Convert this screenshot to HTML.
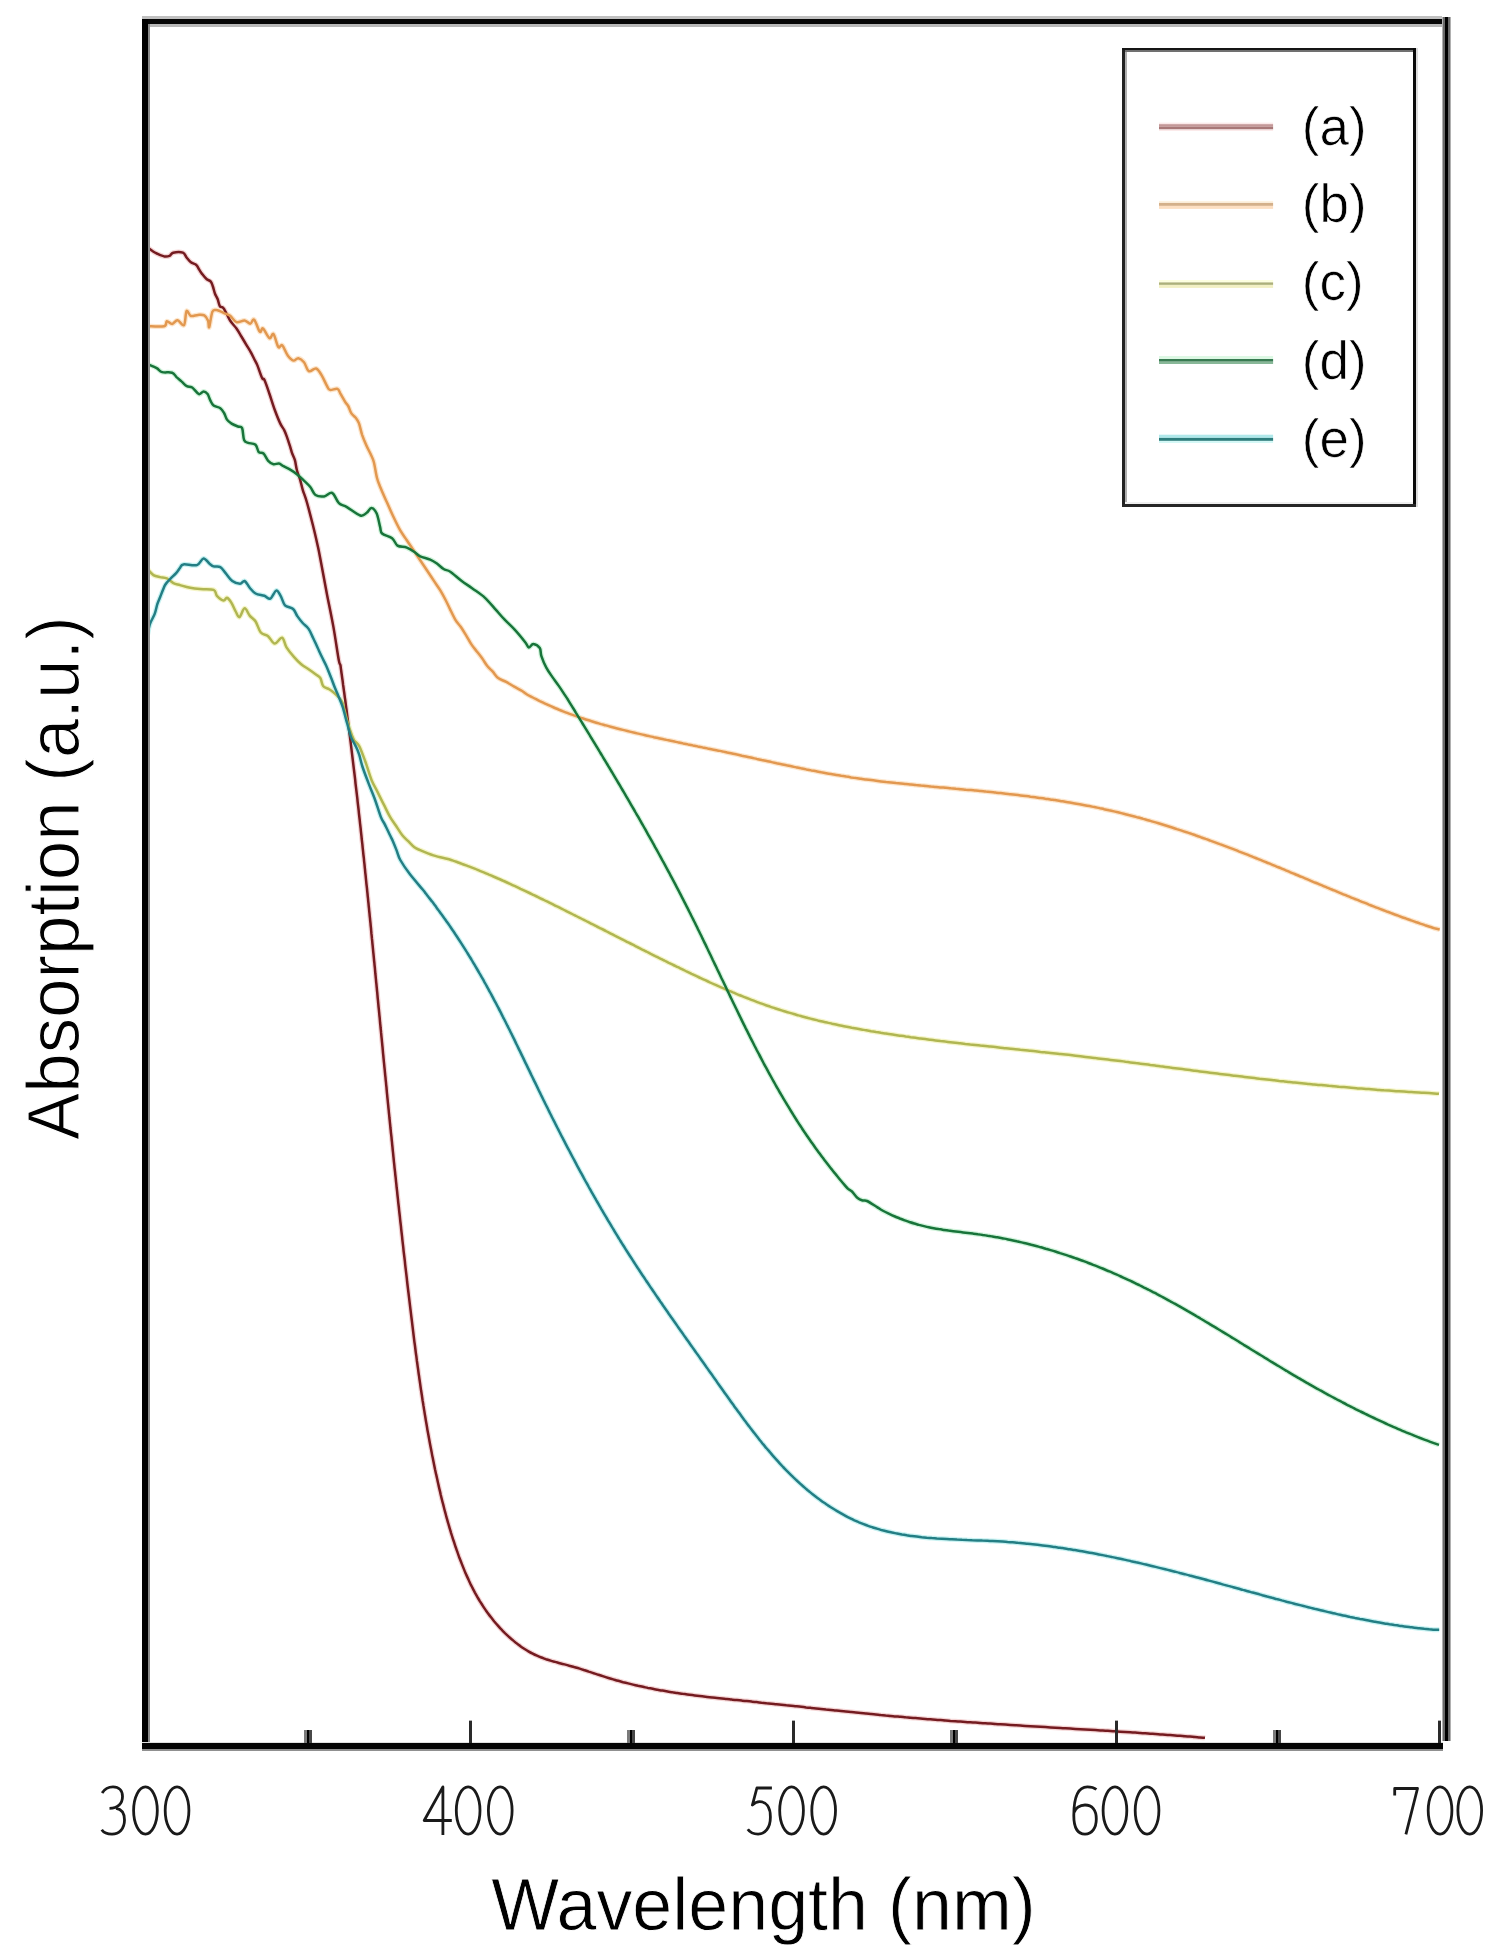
<!DOCTYPE html>
<html><head><meta charset="utf-8"><style>
html,body{margin:0;padding:0;background:#fff;}
svg{display:block;}
text{font-family:"Liberation Sans",sans-serif;fill:#000;}
</style></head><body>
<svg width="1495" height="1958" viewBox="0 0 1495 1958" xmlns="http://www.w3.org/2000/svg">
<rect width="1495" height="1958" fill="#fff"/>
<path d="M147.5 247.3C148.9 248.3 153.3 251.7 156.1 253.2C158.9 254.7 161.9 255.9 164.1 256.4C166.3 256.8 168.0 256.5 169.5 255.9C171.0 255.3 171.0 253.2 173.2 252.7C175.4 252.2 180.7 251.9 182.9 252.7C185.1 253.5 185.3 255.9 186.6 257.5C187.9 259.1 189.3 261.1 190.9 262.3C192.5 263.6 195.0 263.8 196.3 265.0C197.7 266.2 198.0 267.8 199.0 269.3C200.0 270.8 200.9 272.5 202.2 274.1C203.4 275.7 205.1 277.8 206.5 279.0C207.9 280.2 209.7 280.4 210.8 281.6C211.9 282.9 212.2 284.4 212.9 286.5C213.6 288.6 214.3 291.9 215.1 294.0C215.9 296.1 216.9 297.2 217.7 299.3C218.5 301.4 218.9 304.8 219.9 306.3C220.9 307.8 222.0 306.1 223.7 308.5C225.4 310.9 228.0 317.2 230.1 320.5C232.2 323.8 234.6 325.8 236.5 328.5C238.4 331.2 239.8 333.8 241.4 336.5C243.0 339.2 244.6 341.9 246.2 344.6C247.8 347.3 249.7 350.2 251.0 352.6C252.3 355.0 253.1 356.9 254.2 359.0C255.3 361.1 256.1 362.2 257.4 365.4C258.7 368.6 261.0 375.9 262.2 378.3C263.4 380.7 263.2 377.2 264.4 379.8C265.6 382.4 267.8 389.0 269.5 394.0C271.2 399.0 273.0 405.1 274.8 410.0C276.6 414.9 278.6 420.0 280.2 423.4C281.8 426.8 283.1 427.9 284.2 430.1C285.3 432.3 285.9 434.0 286.9 436.8C287.9 439.6 289.3 444.0 290.2 446.8C291.1 449.6 291.4 451.3 292.2 453.5C293.0 455.7 294.1 457.4 294.9 460.2C295.7 463.0 296.0 466.8 296.9 470.2C297.8 473.6 299.3 476.9 300.3 480.3C301.3 483.7 301.8 486.7 302.9 490.3C304.0 493.9 305.1 495.9 306.8 502.0C308.6 508.1 311.5 519.7 313.4 527.2C315.3 534.7 316.6 540.7 318.0 547.0C319.4 553.3 320.0 557.3 321.5 565.0C323.0 572.7 324.8 583.1 326.8 593.4C328.8 603.7 331.4 615.8 333.4 626.9C335.4 638.0 337.6 653.9 338.8 660.3C340.0 666.7 340.0 663.4 340.4 665.0C340.7 666.7 340.8 668.4 341.1 670.0C341.3 671.7 341.5 673.3 341.8 675.0C342.0 676.6 342.2 678.3 342.5 679.9C342.7 681.6 342.9 683.2 343.1 684.9C343.4 686.5 343.6 688.2 343.8 689.8C344.0 691.5 344.3 693.1 344.5 694.8C344.7 696.5 344.9 698.1 345.2 699.8C345.4 701.4 345.6 703.1 345.8 704.7C346.0 706.4 346.2 708.0 346.5 709.7C346.7 711.3 346.9 713.0 347.1 714.6C347.3 716.3 347.5 718.0 347.8 719.6C348.0 721.3 348.2 722.9 348.4 724.6C348.6 726.2 348.8 727.9 349.0 729.5C349.2 731.2 349.4 732.8 349.6 734.5C349.9 736.2 350.1 737.8 350.3 739.5C350.5 741.1 350.7 742.8 350.9 744.4C351.1 746.1 351.3 747.7 351.5 749.4C351.7 751.0 351.9 752.7 352.1 754.4C352.3 756.0 352.5 757.7 352.7 759.3C352.9 761.0 353.1 762.6 353.3 764.3C353.5 765.9 353.7 767.6 353.9 769.3C354.1 770.9 354.3 772.6 354.5 774.2C354.7 775.9 354.9 777.5 355.1 779.2C355.3 780.9 355.4 782.5 355.6 784.2C355.8 785.8 356.0 787.5 356.2 789.1C356.4 790.8 356.6 792.4 356.8 794.1C357.0 795.8 357.2 797.4 357.4 799.1C357.5 800.7 357.7 802.4 357.9 804.0C358.1 805.7 358.3 807.4 358.5 809.0C358.7 810.7 358.8 812.3 359.0 814.0C359.2 815.6 359.4 817.3 359.6 819.0C359.8 820.6 359.9 822.3 360.1 823.9C360.3 825.6 360.5 827.2 360.7 828.9C360.8 830.6 361.0 832.2 361.2 833.9C361.4 835.5 361.6 837.2 361.7 838.8C361.9 840.5 362.1 842.2 362.3 843.8C362.5 845.5 362.6 847.1 362.8 848.8C363.0 850.5 363.2 852.1 363.3 853.8C363.5 855.4 363.7 857.1 363.9 858.7C364.0 860.4 364.2 862.1 364.4 863.7C364.6 865.4 364.7 867.0 364.9 868.7C365.1 870.3 365.2 872.0 365.4 873.7C365.6 875.3 365.8 877.0 365.9 878.6C366.1 880.3 366.3 882.0 366.4 883.6C366.6 885.3 366.8 886.9 367.0 888.6C367.1 890.2 367.3 891.9 367.5 893.6C367.6 895.2 367.8 896.9 368.0 898.5C368.1 900.2 368.3 901.9 368.5 903.5C368.6 905.2 368.8 906.8 369.0 908.5C369.1 910.2 369.3 911.8 369.5 913.5C369.6 915.1 369.8 916.8 370.0 918.4C370.1 920.1 370.3 921.8 370.5 923.4C370.6 925.1 370.8 926.7 371.0 928.4C371.1 930.1 371.3 931.7 371.4 933.4C371.6 935.0 371.8 936.7 371.9 938.4C372.1 940.0 372.3 941.7 372.4 943.3C372.6 945.0 372.8 946.7 372.9 948.3C373.1 950.0 373.2 951.6 373.4 953.3C373.6 954.9 373.7 956.6 373.9 958.3C374.0 959.9 374.2 961.6 374.4 963.2C374.5 964.9 374.7 966.6 374.9 968.2C375.0 969.9 375.2 971.5 375.3 973.2C375.5 974.9 375.7 976.5 375.8 978.2C376.0 979.8 376.1 981.5 376.3 983.2C376.5 984.8 376.6 986.5 376.8 988.1C376.9 989.8 377.1 991.5 377.3 993.1C377.4 994.8 377.6 996.4 377.7 998.1C377.9 999.7 378.1 1001.4 378.2 1003.1C378.4 1004.7 378.5 1006.4 378.7 1008.0C378.9 1009.7 379.0 1011.4 379.2 1013.0C379.3 1014.7 379.5 1016.3 379.7 1018.0C379.8 1019.7 380.0 1021.3 380.1 1023.0C380.3 1024.6 380.5 1026.3 380.6 1028.0C380.8 1029.6 381.0 1031.3 381.1 1032.9C381.3 1034.6 381.4 1036.3 381.6 1037.9C381.8 1039.6 381.9 1041.2 382.1 1042.9C382.2 1044.5 382.4 1046.2 382.6 1047.9C382.7 1049.5 382.9 1051.2 383.0 1052.8C383.2 1054.5 383.4 1056.2 383.5 1057.8C383.7 1059.5 383.8 1061.1 384.0 1062.8C384.2 1064.5 384.3 1066.1 384.5 1067.8C384.7 1069.4 384.8 1071.1 385.0 1072.8C385.1 1074.4 385.3 1076.1 385.5 1077.7C385.6 1079.4 385.8 1081.0 386.0 1082.7C386.1 1084.4 386.3 1086.0 386.5 1087.7C386.6 1089.3 386.8 1091.0 386.9 1092.7C387.1 1094.3 387.3 1096.0 387.4 1097.6C387.6 1099.3 387.8 1101.0 387.9 1102.6C388.1 1104.3 388.3 1105.9 388.4 1107.6C388.6 1109.2 388.8 1110.9 388.9 1112.6C389.1 1114.2 389.3 1115.9 389.4 1117.5C389.6 1119.2 389.8 1120.9 389.9 1122.5C390.1 1124.2 390.3 1125.8 390.4 1127.5C390.6 1129.1 390.8 1130.8 390.9 1132.5C391.1 1134.1 391.3 1135.8 391.5 1137.4C391.6 1139.1 391.8 1140.8 392.0 1142.4C392.1 1144.1 392.3 1145.7 392.5 1147.4C392.6 1149.0 392.8 1150.7 393.0 1152.4C393.2 1154.0 393.3 1155.7 393.5 1157.3C393.7 1159.0 393.8 1160.6 394.0 1162.3C394.2 1164.0 394.4 1165.6 394.5 1167.3C394.7 1168.9 394.9 1170.6 395.1 1172.3C395.2 1173.9 395.4 1175.6 395.6 1177.2C395.8 1178.9 395.9 1180.5 396.1 1182.2C396.3 1183.9 396.5 1185.5 396.6 1187.2C396.8 1188.8 397.0 1190.5 397.2 1192.1C397.3 1193.8 397.5 1195.5 397.7 1197.1C397.9 1198.8 398.1 1200.4 398.2 1202.1C398.4 1203.7 398.6 1205.4 398.8 1207.0C399.0 1208.7 399.1 1210.4 399.3 1212.0C399.5 1213.7 399.7 1215.3 399.9 1217.0C400.0 1218.6 400.2 1220.3 400.4 1222.0C400.6 1223.6 400.8 1225.3 401.0 1226.9C401.1 1228.6 401.3 1230.2 401.5 1231.9C401.7 1233.5 401.9 1235.2 402.1 1236.9C402.2 1238.5 402.4 1240.2 402.6 1241.8C402.8 1243.5 403.0 1245.1 403.2 1246.8C403.4 1248.5 403.5 1250.1 403.7 1251.8C403.9 1253.4 404.1 1255.1 404.3 1256.7C404.5 1258.4 404.7 1260.0 404.9 1261.7C405.0 1263.3 405.2 1265.0 405.4 1266.7C405.6 1268.3 405.8 1270.0 406.0 1271.6C406.2 1273.3 406.4 1274.9 406.6 1276.6C406.8 1278.2 407.0 1279.9 407.1 1281.5C407.3 1283.2 407.5 1284.9 407.7 1286.5C407.9 1288.2 408.1 1289.8 408.3 1291.5C408.5 1293.1 408.7 1294.8 408.9 1296.4C409.1 1298.1 409.3 1299.7 409.5 1301.4C409.7 1303.0 409.9 1304.7 410.1 1306.4C410.3 1308.0 410.5 1309.7 410.7 1311.3C410.9 1313.0 411.1 1314.6 411.3 1316.3C411.5 1317.9 411.7 1319.6 411.9 1321.2C412.1 1322.9 412.3 1324.5 412.5 1326.2C412.7 1327.8 412.9 1329.5 413.1 1331.1C413.3 1332.8 413.5 1334.5 413.7 1336.1C413.9 1337.8 414.1 1339.4 414.3 1341.1C414.5 1342.7 414.8 1344.4 415.0 1346.0C415.2 1347.7 415.4 1349.3 415.6 1351.0C415.8 1352.6 416.0 1354.3 416.3 1355.9C416.5 1357.6 416.7 1359.2 416.9 1360.9C417.2 1362.5 417.4 1364.2 417.6 1365.8C417.8 1367.5 418.1 1369.1 418.3 1370.8C418.5 1372.4 418.7 1374.1 419.0 1375.7C419.2 1377.4 419.4 1379.0 419.7 1380.7C419.9 1382.3 420.2 1384.0 420.4 1385.6C420.6 1387.3 420.9 1388.9 421.1 1390.6C421.4 1392.2 421.6 1393.9 421.9 1395.5C422.1 1397.2 422.4 1398.8 422.6 1400.5C422.9 1402.1 423.2 1403.8 423.4 1405.4C423.7 1407.1 423.9 1408.7 424.2 1410.4C424.5 1412.0 424.7 1413.7 425.0 1415.3C425.3 1417.0 425.6 1418.6 425.8 1420.3C426.1 1421.9 426.4 1423.6 426.7 1425.2C427.0 1426.9 427.2 1428.5 427.5 1430.2C427.8 1431.8 428.1 1433.4 428.4 1435.1C428.7 1436.7 429.0 1438.4 429.3 1440.0C429.6 1441.7 429.9 1443.3 430.2 1445.0C430.5 1446.6 430.9 1448.3 431.2 1449.9C431.5 1451.6 431.8 1453.2 432.1 1454.9C432.4 1456.5 432.8 1458.1 433.1 1459.8C433.4 1461.4 433.8 1463.1 434.1 1464.7C434.4 1466.4 434.8 1468.0 435.1 1469.7C435.5 1471.3 435.8 1473.0 436.2 1474.6C436.5 1476.2 436.9 1477.9 437.3 1479.5C437.6 1481.2 438.0 1482.8 438.4 1484.5C438.7 1486.1 439.1 1487.7 439.5 1489.4C439.9 1491.0 440.3 1492.7 440.6 1494.3C441.0 1495.9 441.4 1497.6 441.8 1499.2C442.2 1500.8 442.6 1502.5 443.1 1504.1C443.5 1505.7 443.9 1507.4 444.3 1509.0C444.7 1510.6 445.2 1512.2 445.6 1513.8C446.0 1515.5 446.5 1517.1 446.9 1518.7C447.4 1520.3 447.8 1521.9 448.3 1523.5C448.8 1525.1 449.2 1526.7 449.7 1528.3C450.2 1529.9 450.7 1531.5 451.1 1533.1C451.6 1534.7 452.1 1536.3 452.6 1537.9C453.1 1539.5 453.7 1541.1 454.2 1542.6C454.7 1544.2 455.2 1545.8 455.7 1547.3C456.3 1548.9 456.8 1550.5 457.4 1552.0C457.9 1553.6 458.5 1555.1 459.0 1556.7C459.6 1558.2 460.2 1559.8 460.8 1561.3C461.4 1562.8 462.0 1564.4 462.6 1565.9C463.2 1567.4 463.8 1568.9 464.4 1570.4C465.0 1571.9 465.7 1573.4 466.3 1574.9C467.0 1576.4 467.7 1577.9 468.4 1579.4C469.0 1580.9 469.7 1582.4 470.4 1583.8C471.2 1585.3 471.9 1586.8 472.6 1588.2C473.4 1589.7 474.1 1591.1 474.9 1592.6C475.7 1594.0 476.5 1595.4 477.3 1596.9C478.1 1598.3 479.0 1599.7 479.8 1601.1C480.7 1602.5 481.6 1603.9 482.5 1605.3C483.4 1606.7 484.3 1608.1 485.2 1609.4C486.2 1610.8 487.1 1612.2 488.1 1613.5C489.1 1614.9 490.1 1616.2 491.2 1617.6C492.2 1618.9 493.3 1620.2 494.3 1621.5C495.4 1622.8 496.5 1624.1 497.7 1625.4C498.8 1626.7 499.9 1628.0 501.1 1629.2C502.3 1630.4 503.5 1631.7 504.7 1632.9C505.9 1634.0 507.1 1635.2 508.4 1636.4C509.6 1637.5 510.9 1638.6 512.2 1639.7C513.4 1640.8 514.7 1641.9 516.1 1642.9C517.4 1644.0 518.7 1645.0 520.1 1645.9C521.4 1646.9 522.8 1647.8 524.2 1648.7C525.6 1649.6 527.0 1650.5 528.4 1651.3C529.8 1652.1 531.2 1652.9 532.7 1653.6C534.1 1654.4 535.5 1655.1 537.0 1655.7C538.5 1656.4 540.0 1657.0 541.4 1657.5C542.9 1658.1 544.4 1658.6 545.9 1659.2C547.5 1659.7 549.0 1660.1 550.5 1660.6C552.0 1661.1 553.6 1661.5 555.1 1661.9C556.7 1662.3 558.2 1662.8 559.8 1663.2C561.4 1663.6 563.0 1664.0 564.5 1664.4C566.1 1664.8 567.7 1665.2 569.3 1665.7C570.9 1666.1 572.5 1666.5 574.1 1667.0C575.7 1667.4 577.3 1667.9 579.0 1668.4C580.6 1668.9 582.2 1669.4 583.8 1670.0C585.4 1670.5 587.1 1671.0 588.7 1671.6C590.3 1672.1 592.0 1672.7 593.6 1673.2C595.3 1673.7 596.9 1674.3 598.5 1674.8C600.2 1675.4 601.8 1675.9 603.5 1676.4C605.1 1677.0 606.7 1677.5 608.4 1678.0C610.0 1678.5 611.7 1679.0 613.3 1679.4C615.0 1679.9 616.6 1680.4 618.2 1680.8C619.9 1681.3 621.5 1681.7 623.2 1682.2C624.8 1682.6 626.5 1683.0 628.1 1683.4C629.8 1683.8 631.4 1684.2 633.0 1684.6C634.7 1685.0 636.3 1685.4 638.0 1685.8C639.6 1686.1 641.3 1686.5 642.9 1686.8C644.5 1687.2 646.2 1687.5 647.8 1687.9C649.5 1688.2 651.1 1688.5 652.8 1688.8C654.4 1689.2 656.1 1689.5 657.7 1689.8C659.4 1690.1 661.0 1690.4 662.6 1690.6C664.3 1690.9 665.9 1691.2 667.6 1691.5C669.2 1691.8 670.9 1692.0 672.5 1692.3C674.2 1692.5 675.8 1692.8 677.5 1693.0C679.1 1693.3 680.7 1693.5 682.4 1693.8C684.0 1694.0 685.7 1694.2 687.3 1694.4C689.0 1694.7 690.6 1694.9 692.3 1695.1C693.9 1695.3 695.6 1695.5 697.2 1695.7C698.9 1695.9 700.5 1696.1 702.2 1696.3C703.8 1696.5 705.4 1696.7 707.1 1696.9C708.7 1697.1 710.4 1697.3 712.0 1697.5C713.7 1697.7 715.3 1697.9 717.0 1698.0C718.6 1698.2 720.3 1698.4 721.9 1698.6C723.6 1698.8 725.2 1698.9 726.9 1699.1C728.5 1699.3 730.2 1699.4 731.8 1699.6C733.5 1699.8 735.1 1700.0 736.8 1700.1C738.4 1700.3 740.1 1700.5 741.7 1700.6C743.4 1700.8 745.0 1701.0 746.7 1701.1C748.3 1701.3 750.0 1701.5 751.6 1701.6C753.3 1701.8 754.9 1702.0 756.6 1702.1C758.2 1702.3 759.9 1702.5 761.5 1702.7C763.2 1702.8 764.8 1703.0 766.5 1703.2C768.1 1703.3 769.8 1703.5 771.4 1703.7C773.1 1703.9 774.7 1704.0 776.4 1704.2C778.0 1704.4 779.7 1704.6 781.3 1704.7C783.0 1704.9 784.6 1705.1 786.3 1705.3C787.9 1705.4 789.6 1705.6 791.2 1705.8C792.9 1706.0 794.5 1706.1 796.2 1706.3C797.9 1706.5 799.5 1706.7 801.2 1706.8C802.8 1707.0 804.5 1707.2 806.1 1707.4C807.8 1707.5 809.4 1707.7 811.1 1707.9C812.7 1708.1 814.4 1708.3 816.0 1708.4C817.7 1708.6 819.4 1708.8 821.0 1708.9C822.7 1709.1 824.3 1709.3 826.0 1709.5C827.6 1709.6 829.3 1709.8 830.9 1710.0C832.6 1710.2 834.2 1710.3 835.9 1710.5C837.6 1710.7 839.2 1710.9 840.9 1711.0C842.5 1711.2 844.2 1711.4 845.8 1711.5C847.5 1711.7 849.2 1711.9 850.8 1712.0C852.5 1712.2 854.1 1712.4 855.8 1712.5C857.4 1712.7 859.1 1712.9 860.8 1713.0C862.4 1713.2 864.1 1713.4 865.7 1713.5C867.4 1713.7 869.0 1713.9 870.7 1714.0C872.4 1714.2 874.0 1714.4 875.7 1714.5C877.3 1714.7 879.0 1714.8 880.7 1715.0C882.3 1715.1 884.0 1715.3 885.6 1715.5C887.3 1715.6 888.9 1715.8 890.6 1715.9C892.3 1716.1 893.9 1716.2 895.6 1716.4C897.2 1716.5 898.9 1716.7 900.6 1716.8C902.2 1717.0 903.9 1717.1 905.6 1717.3C907.2 1717.4 908.9 1717.6 910.5 1717.7C912.2 1717.8 913.9 1718.0 915.5 1718.1C917.2 1718.3 918.8 1718.4 920.5 1718.5C922.2 1718.7 923.8 1718.8 925.5 1718.9C927.2 1719.1 928.8 1719.2 930.5 1719.3C932.1 1719.5 933.8 1719.6 935.5 1719.7C937.1 1719.9 938.8 1720.0 940.5 1720.1C942.1 1720.2 943.8 1720.4 945.4 1720.5C947.1 1720.6 948.8 1720.7 950.4 1720.9C952.1 1721.0 953.8 1721.1 955.4 1721.2C957.1 1721.3 958.8 1721.5 960.4 1721.6C962.1 1721.7 963.8 1721.8 965.4 1721.9C967.1 1722.1 968.7 1722.2 970.4 1722.3C972.1 1722.4 973.7 1722.5 975.4 1722.6C977.1 1722.7 978.7 1722.9 980.4 1723.0C982.1 1723.1 983.7 1723.2 985.4 1723.3C987.1 1723.4 988.7 1723.5 990.4 1723.6C992.1 1723.7 993.7 1723.9 995.4 1724.0C997.1 1724.1 998.7 1724.2 1000.4 1724.3C1002.0 1724.4 1003.7 1724.5 1005.4 1724.6C1007.0 1724.7 1008.7 1724.8 1010.4 1724.9C1012.0 1725.0 1013.7 1725.1 1015.4 1725.2C1017.0 1725.3 1018.7 1725.4 1020.4 1725.5C1022.0 1725.7 1023.7 1725.8 1025.4 1725.9C1027.0 1726.0 1028.7 1726.1 1030.4 1726.2C1032.0 1726.3 1033.7 1726.4 1035.4 1726.5C1037.0 1726.6 1038.7 1726.7 1040.4 1726.8C1042.0 1726.9 1043.7 1727.0 1045.4 1727.1C1047.0 1727.2 1048.7 1727.3 1050.4 1727.4C1052.0 1727.5 1053.7 1727.6 1055.4 1727.7C1057.0 1727.8 1058.7 1727.9 1060.4 1728.0C1062.0 1728.1 1063.7 1728.2 1065.3 1728.3C1067.0 1728.4 1068.7 1728.5 1070.3 1728.6C1072.0 1728.7 1073.7 1728.8 1075.3 1728.9C1077.0 1729.0 1078.7 1729.1 1080.3 1729.2C1082.0 1729.3 1083.7 1729.4 1085.3 1729.5C1087.0 1729.6 1088.7 1729.7 1090.3 1729.8C1092.0 1729.9 1093.7 1730.0 1095.3 1730.1C1097.0 1730.2 1098.6 1730.3 1100.3 1730.4C1102.0 1730.5 1103.6 1730.6 1105.3 1730.7C1107.0 1730.8 1108.6 1730.9 1110.3 1731.0C1112.0 1731.1 1113.6 1731.2 1115.3 1731.3C1116.9 1731.5 1118.6 1731.6 1120.3 1731.7C1121.9 1731.8 1123.6 1731.9 1125.3 1732.0C1126.9 1732.1 1128.6 1732.2 1130.3 1732.3C1131.9 1732.4 1133.6 1732.5 1135.2 1732.6C1136.9 1732.8 1138.6 1732.9 1140.2 1733.0C1141.9 1733.1 1143.5 1733.2 1145.2 1733.3C1146.9 1733.4 1148.5 1733.5 1150.2 1733.7C1151.9 1733.8 1153.5 1733.9 1155.2 1734.0C1156.8 1734.1 1158.5 1734.2 1160.2 1734.4C1161.8 1734.5 1163.5 1734.6 1165.1 1734.7C1166.8 1734.8 1168.5 1735.0 1170.1 1735.1C1171.8 1735.2 1173.4 1735.3 1175.1 1735.4C1176.8 1735.6 1178.4 1735.7 1180.1 1735.8C1181.7 1735.9 1183.4 1736.1 1185.0 1736.2C1186.7 1736.3 1188.4 1736.5 1190.0 1736.6C1191.7 1736.7 1193.3 1736.9 1195.0 1737.0C1196.6 1737.1 1198.3 1737.3 1200.0 1737.4C1201.6 1737.5 1204.2 1737.7 1205.0 1737.8" fill="none" stroke="#f4d6d6" stroke-width="5" stroke-linejoin="round"/><path d="M147.5 326.2C150.3 326.2 160.9 327.0 164.1 326.2C167.3 325.4 165.5 321.7 166.8 321.3C168.2 320.9 170.4 324.2 172.2 324.0C174.0 323.8 175.5 320.1 177.5 320.3C179.5 320.5 182.5 326.6 184.0 325.1C185.5 323.6 185.4 312.6 186.6 311.1C187.8 309.6 189.0 315.4 190.9 316.0C192.8 316.6 195.8 315.0 198.0 314.9C200.2 314.8 202.6 314.4 204.3 315.4C206.0 316.4 207.3 318.8 208.1 320.8C208.9 322.8 208.5 328.7 209.2 327.2C209.9 325.7 211.2 314.5 212.4 311.7C213.6 308.9 214.8 310.2 216.1 310.1C217.3 310.0 218.5 310.6 219.9 311.1C221.3 311.6 222.8 312.5 224.5 313.3C226.2 314.1 228.1 314.2 230.1 315.7C232.1 317.2 234.1 321.3 236.5 322.1C238.9 322.9 242.3 320.2 244.6 320.5C246.9 320.8 248.6 323.8 250.2 323.7C251.8 323.6 252.6 318.4 254.2 319.7C255.8 321.0 258.3 330.2 259.8 331.7C261.3 333.2 261.4 327.4 263.0 328.5C264.6 329.6 267.8 337.3 269.5 338.2C271.2 339.1 272.0 332.6 273.5 334.1C275.0 335.6 276.8 345.1 278.3 347.0C279.8 348.9 280.7 343.9 282.3 345.4C283.9 346.9 286.0 353.3 287.9 355.8C289.8 358.3 291.8 360.2 293.5 360.6C295.2 361.0 296.6 357.9 298.3 358.2C300.1 358.5 302.2 360.0 304.0 362.2C305.8 364.4 306.8 370.1 308.8 371.1C310.8 372.2 313.9 367.9 316.0 368.5C318.1 369.1 319.6 372.0 321.4 374.9C323.2 377.8 325.4 383.1 326.8 385.6C328.2 388.1 328.2 389.4 330.0 389.9C331.8 390.4 335.7 388.1 337.5 388.8C339.3 389.5 339.4 392.1 340.7 394.2C341.9 396.3 343.8 399.7 345.0 401.7C346.2 403.7 347.1 404.1 348.2 406.0C349.3 407.9 350.1 411.4 351.4 413.4C352.6 415.3 354.4 416.1 355.7 417.7C356.9 419.3 357.8 420.2 358.9 423.1C360.0 426.0 360.9 431.1 362.1 434.8C363.4 438.5 365.0 442.3 366.4 445.5C367.8 448.7 369.4 451.4 370.6 454.1C371.8 456.9 372.7 458.0 373.8 462.0C374.9 466.0 375.9 473.9 377.0 478.0C378.1 482.1 378.5 482.7 380.1 486.7C381.7 490.7 384.6 497.1 386.8 502.1C389.0 507.1 391.2 512.1 393.4 516.8C395.6 521.5 397.9 526.3 400.1 530.2C402.3 534.1 404.6 536.9 406.8 540.2C409.0 543.6 411.3 546.9 413.5 550.3C415.7 553.6 418.0 557.0 420.2 560.3C422.4 563.6 424.7 566.9 426.9 570.3C429.1 573.6 431.4 577.0 433.6 580.4C435.8 583.8 438.3 587.1 440.3 590.4C442.3 593.7 444.0 596.9 445.6 600.0C447.2 603.1 448.4 605.8 450.0 609.1C451.6 612.4 453.6 616.8 455.4 619.8C457.2 622.8 458.9 624.2 460.7 626.8C462.5 629.4 464.3 632.4 466.1 635.3C467.9 638.2 469.6 641.7 471.4 644.4C473.2 647.1 475.0 649.1 476.8 651.4C478.6 653.7 480.3 655.8 482.1 658.3C483.9 660.8 485.7 664.1 487.5 666.3C489.3 668.5 491.0 669.7 492.8 671.7C494.6 673.7 496.0 676.4 498.2 678.1C500.4 679.8 503.5 680.5 506.2 681.9C508.9 683.3 511.5 685.2 514.2 686.7C516.9 688.2 520.3 689.8 522.2 691.0C524.1 692.2 524.5 692.9 525.9 693.7C527.2 694.6 528.9 695.5 530.5 696.3C532.0 697.1 533.6 697.9 535.1 698.7C536.7 699.5 538.2 700.3 539.8 701.1C541.3 701.8 542.9 702.6 544.5 703.3C546.0 704.0 547.6 704.7 549.1 705.4C550.7 706.1 552.2 706.8 553.8 707.5C555.4 708.2 556.9 708.8 558.5 709.5C560.1 710.1 561.6 710.7 563.2 711.4C564.8 712.0 566.3 712.6 567.9 713.2C569.5 713.8 571.0 714.4 572.6 714.9C574.2 715.5 575.8 716.1 577.3 716.6C578.9 717.1 580.5 717.7 582.1 718.2C583.7 718.7 585.2 719.3 586.8 719.8C588.4 720.3 590.0 720.8 591.6 721.2C593.2 721.7 594.7 722.2 596.3 722.7C597.9 723.2 599.5 723.6 601.1 724.1C602.7 724.5 604.3 725.0 605.9 725.4C607.4 725.9 609.0 726.3 610.6 726.7C612.2 727.2 613.8 727.6 615.4 728.0C617.0 728.4 618.6 728.8 620.2 729.2C621.8 729.6 623.4 730.0 625.0 730.4C626.6 730.8 628.2 731.2 629.8 731.6C631.4 732.0 633.0 732.4 634.6 732.8C636.2 733.2 637.8 733.5 639.4 733.9C641.1 734.3 642.7 734.7 644.3 735.0C645.9 735.4 647.5 735.8 649.1 736.1C650.7 736.5 652.3 736.8 653.9 737.2C655.6 737.5 657.2 737.9 658.8 738.2C660.4 738.6 662.0 738.9 663.6 739.3C665.3 739.6 666.9 740.0 668.5 740.3C670.1 740.7 671.7 741.0 673.4 741.3C675.0 741.7 676.6 742.0 678.2 742.4C679.8 742.7 681.5 743.0 683.1 743.4C684.7 743.7 686.3 744.0 688.0 744.4C689.6 744.7 691.2 745.0 692.9 745.4C694.5 745.7 696.1 746.0 697.7 746.4C699.4 746.7 701.0 747.0 702.6 747.4C704.3 747.7 705.9 748.0 707.5 748.4C709.2 748.7 710.8 749.1 712.4 749.4C714.1 749.7 715.7 750.1 717.3 750.4C719.0 750.7 720.6 751.1 722.3 751.4C723.9 751.8 725.5 752.1 727.2 752.5C728.8 752.8 730.5 753.2 732.1 753.5C733.7 753.9 735.4 754.2 737.0 754.6C738.7 754.9 740.3 755.3 741.9 755.7C743.6 756.0 745.2 756.4 746.9 756.7C748.5 757.1 750.2 757.4 751.8 757.8C753.5 758.2 755.1 758.5 756.8 758.9C758.4 759.2 760.1 759.6 761.7 760.0C763.3 760.3 765.0 760.7 766.6 761.0C768.3 761.4 769.9 761.7 771.6 762.1C773.2 762.5 774.9 762.8 776.6 763.2C778.2 763.5 779.9 763.9 781.5 764.2C783.2 764.6 784.8 764.9 786.5 765.3C788.1 765.6 789.8 766.0 791.4 766.3C793.1 766.7 794.7 767.0 796.4 767.4C798.0 767.7 799.7 768.0 801.4 768.4C803.0 768.7 804.7 769.0 806.3 769.4C808.0 769.7 809.6 770.0 811.3 770.4C813.0 770.7 814.6 771.0 816.3 771.3C817.9 771.6 819.6 771.9 821.3 772.3C822.9 772.6 824.6 772.9 826.2 773.2C827.9 773.5 829.5 773.8 831.2 774.1C832.9 774.4 834.5 774.6 836.2 774.9C837.9 775.2 839.5 775.5 841.2 775.8C842.8 776.0 844.5 776.3 846.2 776.6C847.8 776.8 849.5 777.1 851.1 777.4C852.8 777.6 854.5 777.8 856.1 778.1C857.8 778.3 859.5 778.6 861.1 778.8C862.8 779.0 864.4 779.3 866.1 779.5C867.8 779.7 869.4 779.9 871.1 780.1C872.8 780.4 874.4 780.6 876.1 780.8C877.7 781.0 879.4 781.2 881.1 781.4C882.7 781.6 884.4 781.8 886.1 782.0C887.7 782.1 889.4 782.3 891.1 782.5C892.7 782.7 894.4 782.9 896.0 783.1C897.7 783.2 899.4 783.4 901.0 783.6C902.7 783.8 904.4 783.9 906.0 784.1C907.7 784.3 909.4 784.4 911.0 784.6C912.7 784.8 914.4 784.9 916.0 785.1C917.7 785.2 919.3 785.4 921.0 785.6C922.7 785.7 924.3 785.9 926.0 786.0C927.7 786.2 929.3 786.3 931.0 786.5C932.6 786.6 934.3 786.8 936.0 786.9C937.6 787.1 939.3 787.2 941.0 787.4C942.6 787.5 944.3 787.7 945.9 787.8C947.6 788.0 949.3 788.1 950.9 788.3C952.6 788.4 954.3 788.6 955.9 788.8C957.6 788.9 959.2 789.1 960.9 789.2C962.6 789.4 964.2 789.5 965.9 789.7C967.5 789.8 969.2 790.0 970.9 790.1C972.5 790.3 974.2 790.4 975.8 790.6C977.5 790.8 979.2 790.9 980.8 791.1C982.5 791.3 984.1 791.4 985.8 791.6C987.4 791.7 989.1 791.9 990.8 792.1C992.4 792.3 994.1 792.4 995.7 792.6C997.4 792.8 999.0 793.0 1000.7 793.1C1002.3 793.3 1004.0 793.5 1005.7 793.7C1007.3 793.9 1009.0 794.0 1010.6 794.2C1012.3 794.4 1013.9 794.6 1015.6 794.8C1017.2 795.0 1018.9 795.2 1020.5 795.4C1022.2 795.6 1023.8 795.8 1025.5 796.0C1027.1 796.2 1028.8 796.4 1030.4 796.7C1032.1 796.9 1033.7 797.1 1035.4 797.3C1037.0 797.5 1038.7 797.8 1040.3 798.0C1042.0 798.2 1043.6 798.4 1045.3 798.7C1046.9 798.9 1048.6 799.2 1050.2 799.4C1051.8 799.6 1053.5 799.9 1055.1 800.1C1056.8 800.4 1058.4 800.6 1060.1 800.9C1061.7 801.2 1063.3 801.4 1065.0 801.7C1066.6 802.0 1068.3 802.3 1069.9 802.5C1071.5 802.8 1073.2 803.1 1074.8 803.4C1076.5 803.7 1078.1 804.0 1079.7 804.3C1081.4 804.6 1083.0 804.9 1084.6 805.2C1086.3 805.5 1087.9 805.8 1089.6 806.1C1091.2 806.4 1092.8 806.8 1094.4 807.1C1096.1 807.4 1097.7 807.8 1099.3 808.1C1101.0 808.5 1102.6 808.8 1104.2 809.2C1105.9 809.5 1107.5 809.9 1109.1 810.3C1110.7 810.6 1112.4 811.0 1114.0 811.4C1115.6 811.8 1117.2 812.1 1118.9 812.5C1120.5 812.9 1122.1 813.3 1123.7 813.7C1125.4 814.1 1127.0 814.5 1128.6 815.0C1130.2 815.4 1131.8 815.8 1133.5 816.2C1135.1 816.6 1136.7 817.1 1138.3 817.5C1139.9 818.0 1141.5 818.4 1143.2 818.9C1144.8 819.3 1146.4 819.8 1148.0 820.2C1149.6 820.7 1151.2 821.1 1152.8 821.6C1154.4 822.1 1156.0 822.6 1157.7 823.0C1159.3 823.5 1160.9 824.0 1162.5 824.5C1164.1 825.0 1165.7 825.5 1167.3 826.0C1168.9 826.5 1170.5 827.0 1172.1 827.5C1173.7 828.0 1175.3 828.5 1176.9 829.1C1178.5 829.6 1180.1 830.1 1181.7 830.6C1183.3 831.2 1184.9 831.7 1186.5 832.2C1188.1 832.8 1189.7 833.3 1191.3 833.8C1192.9 834.4 1194.5 834.9 1196.0 835.5C1197.6 836.0 1199.2 836.6 1200.8 837.2C1202.4 837.7 1204.0 838.3 1205.6 838.9C1207.2 839.4 1208.7 840.0 1210.3 840.6C1211.9 841.1 1213.5 841.7 1215.1 842.3C1216.6 842.9 1218.2 843.5 1219.8 844.1C1221.4 844.6 1223.0 845.2 1224.5 845.8C1226.1 846.4 1227.7 847.0 1229.2 847.6C1230.8 848.2 1232.4 848.8 1234.0 849.4C1235.5 850.0 1237.1 850.6 1238.7 851.3C1240.2 851.9 1241.8 852.5 1243.4 853.1C1244.9 853.7 1246.5 854.3 1248.1 854.9C1249.6 855.6 1251.2 856.2 1252.7 856.8C1254.3 857.4 1255.9 858.1 1257.4 858.7C1259.0 859.3 1260.5 860.0 1262.1 860.6C1263.7 861.2 1265.2 861.8 1266.8 862.5C1268.3 863.1 1269.9 863.8 1271.4 864.4C1273.0 865.0 1274.5 865.7 1276.1 866.3C1277.6 866.9 1279.2 867.6 1280.7 868.2C1282.3 868.9 1283.8 869.5 1285.4 870.2C1286.9 870.8 1288.5 871.4 1290.0 872.1C1291.6 872.7 1293.1 873.4 1294.7 874.0C1296.2 874.7 1297.8 875.3 1299.3 876.0C1300.9 876.6 1302.4 877.3 1304.0 877.9C1305.5 878.5 1307.1 879.2 1308.6 879.8C1310.2 880.5 1311.7 881.1 1313.2 881.8C1314.8 882.4 1316.3 883.1 1317.9 883.7C1319.4 884.4 1321.0 885.0 1322.5 885.6C1324.1 886.3 1325.6 886.9 1327.2 887.6C1328.7 888.2 1330.2 888.9 1331.8 889.5C1333.3 890.1 1334.9 890.8 1336.4 891.4C1338.0 892.1 1339.5 892.7 1341.1 893.3C1342.6 894.0 1344.1 894.6 1345.7 895.2C1347.2 895.9 1348.8 896.5 1350.3 897.1C1351.9 897.7 1353.4 898.4 1355.0 899.0C1356.5 899.6 1358.1 900.2 1359.6 900.9C1361.2 901.5 1362.7 902.1 1364.3 902.7C1365.8 903.3 1367.3 903.9 1368.9 904.6C1370.4 905.2 1372.0 905.8 1373.5 906.4C1375.1 907.0 1376.6 907.6 1378.2 908.2C1379.8 908.8 1381.3 909.4 1382.9 910.0C1384.4 910.6 1386.0 911.2 1387.5 911.8C1389.1 912.3 1390.6 912.9 1392.2 913.5C1393.7 914.1 1395.3 914.7 1396.9 915.2C1398.4 915.8 1400.0 916.4 1401.5 917.0C1403.1 917.5 1404.7 918.1 1406.2 918.6C1407.8 919.2 1409.3 919.8 1410.9 920.3C1412.5 920.9 1414.0 921.4 1415.6 922.0C1417.2 922.5 1418.7 923.0 1420.3 923.6C1421.9 924.1 1423.4 924.6 1425.0 925.2C1426.6 925.7 1428.1 926.2 1429.7 926.7C1431.3 927.2 1432.8 927.8 1434.4 928.3C1436.1 928.7 1438.8 929.3 1439.7 929.5" fill="none" stroke="#fde6cc" stroke-width="5" stroke-linejoin="round"/><path d="M147.5 569.1C148.5 570.1 151.3 573.8 153.4 575.1C155.5 576.4 157.9 576.6 160.1 577.1C162.3 577.6 164.6 577.4 166.8 578.4C169.0 579.4 171.2 582.0 173.4 583.1C175.6 584.2 177.3 584.3 180.1 585.1C182.9 585.9 186.8 587.1 190.2 587.8C193.5 588.5 196.3 588.8 200.2 589.1C204.1 589.4 210.8 588.7 213.6 589.8C216.4 590.9 215.2 594.0 216.9 595.8C218.6 597.6 221.9 600.2 223.6 600.5C225.3 600.8 225.7 597.3 227.0 597.8C228.3 598.2 230.2 600.9 231.6 603.2C233.0 605.5 234.4 609.2 235.7 611.5C237.0 613.8 237.9 617.6 239.4 617.1C240.9 616.6 242.9 608.5 244.6 608.3C246.3 608.0 247.9 613.4 249.7 615.6C251.5 617.8 253.8 618.7 255.6 621.5C257.4 624.3 258.7 630.0 260.8 632.5C262.9 635.0 265.8 634.4 268.1 636.2C270.4 638.1 272.4 643.4 274.7 643.6C277.0 643.9 280.1 637.1 282.1 637.7C284.1 638.3 284.5 644.1 286.5 647.3C288.5 650.5 291.4 654.0 293.9 656.8C296.3 659.6 298.8 662.1 301.2 664.2C303.6 666.3 306.2 667.6 308.6 669.3C311.1 671.0 313.9 673.0 315.9 674.5C317.9 676.0 319.2 676.2 320.4 678.2C321.6 680.2 321.8 684.5 323.3 686.3C324.8 688.1 327.4 688.1 329.2 689.2C331.0 690.3 332.8 691.7 334.3 692.9C335.8 694.1 336.6 695.0 338.0 696.6C339.4 698.2 341.1 699.3 342.4 702.5C343.7 705.7 344.7 711.4 346.0 716.0C347.3 720.6 348.7 726.0 350.0 730.0C351.3 734.0 352.5 737.3 354.0 740.0C355.5 742.7 357.3 742.5 359.2 746.1C361.1 749.7 363.2 755.9 365.3 761.5C367.4 767.1 369.4 774.8 371.5 779.9C373.6 785.0 375.6 788.0 377.6 792.1C379.6 796.2 381.6 800.3 383.7 804.4C385.8 808.5 387.8 813.0 389.9 816.6C391.9 820.2 394.0 822.7 396.0 825.8C398.0 828.9 400.1 832.4 402.1 835.0C404.1 837.6 406.1 839.2 408.2 841.2C410.2 843.2 412.4 845.8 414.4 847.3C416.4 848.8 416.8 848.8 420.0 850.1C423.2 851.5 428.9 854.0 433.4 855.4C437.9 856.8 443.6 858.0 446.8 858.8C450.0 859.6 450.7 859.9 452.4 860.4C454.1 860.9 455.5 861.5 457.0 862.0C458.5 862.6 460.0 863.1 461.6 863.7C463.1 864.2 464.6 864.8 466.1 865.4C467.7 866.0 469.2 866.5 470.7 867.1C472.2 867.7 473.7 868.3 475.3 868.9C476.8 869.5 478.3 870.2 479.8 870.8C481.3 871.4 482.8 872.0 484.4 872.6C485.9 873.3 487.4 873.9 488.9 874.6C490.4 875.2 491.9 875.8 493.4 876.5C494.9 877.1 496.5 877.8 498.0 878.5C499.5 879.1 501.0 879.8 502.5 880.5C504.0 881.1 505.5 881.8 507.0 882.5C508.5 883.2 510.0 883.9 511.5 884.6C513.0 885.3 514.5 885.9 516.0 886.6C517.5 887.3 519.0 888.0 520.5 888.8C522.0 889.5 523.5 890.2 525.0 890.9C526.5 891.6 528.0 892.3 529.5 893.0C531.0 893.7 532.5 894.5 534.0 895.2C535.5 895.9 537.0 896.6 538.5 897.3C540.0 898.1 541.5 898.8 543.0 899.5C544.5 900.3 546.0 901.0 547.5 901.7C549.0 902.5 550.5 903.2 552.0 903.9C553.5 904.7 555.0 905.4 556.5 906.2C558.0 906.9 559.5 907.6 561.0 908.4C562.5 909.1 564.0 909.9 565.5 910.6C567.0 911.4 568.5 912.1 569.9 912.9C571.4 913.6 572.9 914.4 574.4 915.1C575.9 915.9 577.4 916.6 578.9 917.4C580.4 918.1 581.9 918.9 583.4 919.6C584.9 920.4 586.4 921.1 587.9 921.9C589.4 922.7 590.9 923.4 592.4 924.2C593.9 924.9 595.3 925.7 596.8 926.5C598.3 927.2 599.8 928.0 601.3 928.7C602.8 929.5 604.3 930.3 605.8 931.0C607.3 931.8 608.8 932.5 610.3 933.3C611.8 934.1 613.3 934.8 614.8 935.6C616.3 936.3 617.8 937.1 619.3 937.9C620.8 938.6 622.3 939.4 623.8 940.2C625.3 940.9 626.8 941.7 628.3 942.4C629.8 943.2 631.3 944.0 632.8 944.7C634.2 945.5 635.7 946.2 637.2 947.0C638.7 947.7 640.3 948.5 641.8 949.3C643.3 950.0 644.8 950.8 646.3 951.5C647.8 952.3 649.3 953.0 650.8 953.8C652.3 954.5 653.8 955.3 655.3 956.1C656.8 956.8 658.3 957.6 659.8 958.3C661.3 959.0 662.8 959.8 664.3 960.5C665.8 961.3 667.3 962.0 668.8 962.8C670.4 963.5 671.9 964.3 673.4 965.0C674.9 965.7 676.4 966.5 677.9 967.2C679.4 967.9 680.9 968.7 682.5 969.4C684.0 970.1 685.5 970.9 687.0 971.6C688.5 972.3 690.0 973.0 691.6 973.8C693.1 974.5 694.6 975.2 696.1 975.9C697.6 976.6 699.2 977.4 700.7 978.1C702.2 978.8 703.7 979.5 705.3 980.2C706.8 980.9 708.3 981.6 709.8 982.3C711.4 983.0 712.9 983.7 714.4 984.4C716.0 985.1 717.5 985.7 719.0 986.4C720.6 987.1 722.1 987.8 723.6 988.4C725.2 989.1 726.7 989.8 728.2 990.4C729.8 991.1 731.3 991.7 732.9 992.4C734.4 993.0 735.9 993.7 737.5 994.3C739.0 994.9 740.6 995.6 742.1 996.2C743.7 996.8 745.2 997.4 746.8 998.0C748.3 998.6 749.9 999.2 751.4 999.8C753.0 1000.4 754.5 1001.0 756.1 1001.6C757.6 1002.2 759.2 1002.7 760.8 1003.3C762.3 1003.9 763.9 1004.4 765.4 1005.0C767.0 1005.5 768.6 1006.1 770.1 1006.6C771.7 1007.1 773.3 1007.7 774.8 1008.2C776.4 1008.7 778.0 1009.2 779.6 1009.7C781.1 1010.2 782.7 1010.7 784.3 1011.2C785.9 1011.7 787.4 1012.2 789.0 1012.6C790.6 1013.1 792.2 1013.6 793.8 1014.0C795.4 1014.5 796.9 1014.9 798.5 1015.4C800.1 1015.8 801.7 1016.3 803.3 1016.7C804.9 1017.1 806.5 1017.5 808.1 1018.0C809.7 1018.4 811.3 1018.8 812.9 1019.2C814.5 1019.6 816.1 1020.0 817.7 1020.4C819.3 1020.7 820.9 1021.1 822.5 1021.5C824.1 1021.9 825.7 1022.3 827.3 1022.6C828.9 1023.0 830.5 1023.3 832.1 1023.7C833.8 1024.0 835.4 1024.4 837.0 1024.7C838.6 1025.1 840.2 1025.4 841.8 1025.7C843.5 1026.1 845.1 1026.4 846.7 1026.7C848.3 1027.0 849.9 1027.3 851.6 1027.7C853.2 1028.0 854.8 1028.3 856.4 1028.6C858.1 1028.9 859.7 1029.2 861.3 1029.5C863.0 1029.8 864.6 1030.0 866.2 1030.3C867.8 1030.6 869.5 1030.9 871.1 1031.2C872.7 1031.4 874.4 1031.7 876.0 1032.0C877.7 1032.2 879.3 1032.5 880.9 1032.8C882.6 1033.0 884.2 1033.3 885.9 1033.5C887.5 1033.8 889.1 1034.1 890.8 1034.3C892.4 1034.6 894.1 1034.8 895.7 1035.0C897.4 1035.3 899.0 1035.5 900.7 1035.8C902.3 1036.0 904.0 1036.2 905.6 1036.5C907.3 1036.7 908.9 1036.9 910.6 1037.2C912.2 1037.4 913.9 1037.6 915.5 1037.8C917.2 1038.0 918.8 1038.3 920.5 1038.5C922.1 1038.7 923.8 1038.9 925.4 1039.1C927.1 1039.3 928.8 1039.6 930.4 1039.8C932.1 1040.0 933.7 1040.2 935.4 1040.4C937.0 1040.6 938.7 1040.8 940.4 1041.0C942.0 1041.2 943.7 1041.4 945.4 1041.6C947.0 1041.8 948.7 1042.0 950.3 1042.2C952.0 1042.4 953.7 1042.6 955.3 1042.8C957.0 1043.0 958.7 1043.1 960.3 1043.3C962.0 1043.5 963.7 1043.7 965.3 1043.9C967.0 1044.1 968.7 1044.3 970.3 1044.5C972.0 1044.6 973.7 1044.8 975.3 1045.0C977.0 1045.2 978.7 1045.4 980.3 1045.5C982.0 1045.7 983.7 1045.9 985.3 1046.1C987.0 1046.3 988.7 1046.4 990.3 1046.6C992.0 1046.8 993.7 1047.0 995.4 1047.1C997.0 1047.3 998.7 1047.5 1000.4 1047.7C1002.0 1047.9 1003.7 1048.0 1005.4 1048.2C1007.1 1048.4 1008.7 1048.6 1010.4 1048.7C1012.1 1048.9 1013.7 1049.1 1015.4 1049.2C1017.1 1049.4 1018.8 1049.6 1020.4 1049.8C1022.1 1049.9 1023.8 1050.1 1025.4 1050.3C1027.1 1050.5 1028.8 1050.6 1030.5 1050.8C1032.1 1051.0 1033.8 1051.2 1035.5 1051.3C1037.1 1051.5 1038.8 1051.7 1040.5 1051.9C1042.2 1052.0 1043.8 1052.2 1045.5 1052.4C1047.2 1052.6 1048.8 1052.8 1050.5 1052.9C1052.2 1053.1 1053.8 1053.3 1055.5 1053.5C1057.2 1053.7 1058.9 1053.8 1060.5 1054.0C1062.2 1054.2 1063.9 1054.4 1065.5 1054.6C1067.2 1054.8 1068.9 1055.0 1070.5 1055.1C1072.2 1055.3 1073.9 1055.5 1075.5 1055.7C1077.2 1055.9 1078.9 1056.1 1080.5 1056.3C1082.2 1056.5 1083.9 1056.7 1085.5 1056.9C1087.2 1057.1 1088.9 1057.3 1090.5 1057.5C1092.2 1057.7 1093.9 1057.8 1095.5 1058.1C1097.2 1058.3 1098.8 1058.5 1100.5 1058.7C1102.2 1058.9 1103.8 1059.1 1105.5 1059.3C1107.2 1059.5 1108.8 1059.7 1110.5 1059.9C1112.1 1060.1 1113.8 1060.3 1115.5 1060.5C1117.1 1060.7 1118.8 1060.9 1120.4 1061.1C1122.1 1061.3 1123.8 1061.5 1125.4 1061.8C1127.1 1062.0 1128.7 1062.2 1130.4 1062.4C1132.1 1062.6 1133.7 1062.8 1135.4 1063.0C1137.0 1063.2 1138.7 1063.5 1140.4 1063.7C1142.0 1063.9 1143.7 1064.1 1145.3 1064.3C1147.0 1064.5 1148.6 1064.7 1150.3 1065.0C1152.0 1065.2 1153.6 1065.4 1155.3 1065.6C1156.9 1065.8 1158.6 1066.0 1160.2 1066.3C1161.9 1066.5 1163.5 1066.7 1165.2 1066.9C1166.9 1067.1 1168.5 1067.3 1170.2 1067.6C1171.8 1067.8 1173.5 1068.0 1175.1 1068.2C1176.8 1068.4 1178.4 1068.6 1180.1 1068.8C1181.8 1069.1 1183.4 1069.3 1185.1 1069.5C1186.7 1069.7 1188.4 1069.9 1190.0 1070.1C1191.7 1070.3 1193.3 1070.6 1195.0 1070.8C1196.6 1071.0 1198.3 1071.2 1199.9 1071.4C1201.6 1071.6 1203.3 1071.8 1204.9 1072.0C1206.6 1072.3 1208.2 1072.5 1209.9 1072.7C1211.5 1072.9 1213.2 1073.1 1214.8 1073.3C1216.5 1073.5 1218.1 1073.7 1219.8 1073.9C1221.4 1074.1 1223.1 1074.3 1224.7 1074.5C1226.4 1074.7 1228.1 1074.9 1229.7 1075.1C1231.4 1075.3 1233.0 1075.6 1234.7 1075.8C1236.3 1076.0 1238.0 1076.2 1239.6 1076.3C1241.3 1076.5 1242.9 1076.7 1244.6 1076.9C1246.2 1077.1 1247.9 1077.3 1249.5 1077.5C1251.2 1077.7 1252.9 1077.9 1254.5 1078.1C1256.2 1078.3 1257.8 1078.5 1259.5 1078.7C1261.1 1078.8 1262.8 1079.0 1264.4 1079.2C1266.1 1079.4 1267.7 1079.6 1269.4 1079.8C1271.0 1080.0 1272.7 1080.1 1274.3 1080.3C1276.0 1080.5 1277.7 1080.7 1279.3 1080.9C1281.0 1081.0 1282.6 1081.2 1284.3 1081.4C1285.9 1081.6 1287.6 1081.7 1289.2 1081.9C1290.9 1082.1 1292.6 1082.2 1294.2 1082.4C1295.9 1082.6 1297.5 1082.8 1299.2 1082.9C1300.8 1083.1 1302.5 1083.3 1304.1 1083.4C1305.8 1083.6 1307.5 1083.7 1309.1 1083.9C1310.8 1084.1 1312.4 1084.2 1314.1 1084.4C1315.7 1084.6 1317.4 1084.7 1319.1 1084.9C1320.7 1085.0 1322.4 1085.2 1324.0 1085.3C1325.7 1085.5 1327.3 1085.6 1329.0 1085.8C1330.7 1085.9 1332.3 1086.1 1334.0 1086.2C1335.6 1086.4 1337.3 1086.5 1339.0 1086.7C1340.6 1086.8 1342.3 1087.0 1343.9 1087.1C1345.6 1087.2 1347.3 1087.4 1348.9 1087.5C1350.6 1087.7 1352.2 1087.8 1353.9 1087.9C1355.6 1088.1 1357.2 1088.2 1358.9 1088.4C1360.6 1088.5 1362.2 1088.6 1363.9 1088.7C1365.5 1088.9 1367.2 1089.0 1368.9 1089.1C1370.5 1089.3 1372.2 1089.4 1373.9 1089.5C1375.5 1089.6 1377.2 1089.8 1378.9 1089.9C1380.5 1090.0 1382.2 1090.1 1383.9 1090.3C1385.5 1090.4 1387.2 1090.5 1388.9 1090.6C1390.5 1090.7 1392.2 1090.8 1393.9 1090.9C1395.5 1091.1 1397.2 1091.2 1398.9 1091.3C1400.5 1091.4 1402.2 1091.5 1403.9 1091.6C1405.6 1091.7 1407.2 1091.8 1408.9 1091.9C1410.6 1092.0 1412.2 1092.1 1413.9 1092.2C1415.6 1092.3 1417.3 1092.4 1418.9 1092.5C1420.6 1092.6 1422.3 1092.7 1424.0 1092.8C1425.6 1092.9 1427.3 1093.0 1429.0 1093.1C1430.7 1093.2 1432.3 1093.3 1434.0 1093.4C1435.7 1093.5 1438.2 1093.7 1439.0 1093.8" fill="none" stroke="#f5f5c8" stroke-width="5" stroke-linejoin="round"/><path d="M147.5 364.0C149.0 364.7 154.3 366.8 156.7 368.1C159.1 369.5 159.5 371.3 162.1 372.1C164.7 372.9 169.6 371.8 172.1 372.7C174.6 373.6 175.2 375.9 176.8 377.4C178.4 378.8 179.8 379.9 181.5 381.4C183.2 382.8 185.0 385.1 186.8 386.1C188.6 387.1 190.2 386.2 192.2 387.5C194.2 388.8 197.0 393.4 198.9 394.1C200.8 394.8 202.1 391.5 203.5 391.5C204.9 391.5 206.5 392.7 207.6 394.1C208.7 395.6 209.2 398.3 210.2 400.2C211.2 402.1 211.9 404.2 213.6 405.5C215.3 406.8 218.5 406.9 220.3 408.2C222.1 409.5 223.2 411.6 224.3 413.5C225.4 415.4 225.8 417.9 227.0 419.6C228.2 421.3 229.8 422.5 231.6 423.6C233.4 424.8 236.2 425.8 238.0 426.5C239.8 427.2 241.1 425.8 242.1 428.1C243.1 430.4 243.1 437.7 244.1 440.1C245.1 442.6 246.2 442.0 248.1 442.8C250.0 443.6 253.7 443.2 255.5 444.8C257.3 446.4 257.5 450.8 258.8 452.2C260.1 453.6 261.9 452.1 263.5 453.5C265.1 454.9 266.5 459.1 268.2 460.9C269.9 462.7 271.7 463.8 273.5 464.2C275.3 464.6 277.2 463.2 278.9 463.5C280.6 463.8 281.6 465.2 283.5 466.2C285.4 467.2 288.0 468.3 290.2 469.6C292.4 470.9 294.7 472.4 296.9 474.2C299.1 476.0 301.4 478.2 303.6 480.3C305.8 482.4 308.3 484.6 310.3 487.0C312.3 489.4 313.2 493.4 315.5 495.0C317.8 496.6 321.3 496.7 324.1 496.4C326.9 496.1 329.7 491.9 332.2 493.0C334.7 494.1 336.4 500.8 338.9 503.1C341.3 505.5 343.3 505.0 346.9 507.1C350.5 509.2 357.0 514.5 360.3 515.5C363.6 516.5 364.9 514.0 366.7 512.8C368.5 511.6 369.7 508.0 371.4 508.1C373.1 508.2 375.2 510.4 376.7 513.5C378.1 516.6 379.2 523.6 380.1 526.9C381.0 530.2 380.1 531.6 382.1 533.5C384.1 535.4 389.5 536.2 392.1 538.2C394.7 540.2 395.1 544.0 397.5 545.6C399.9 547.2 403.9 546.5 406.8 547.6C409.7 548.7 412.6 550.8 414.8 552.3C417.0 553.8 417.6 555.1 420.2 556.3C422.8 557.5 427.4 558.4 430.2 559.6C433.0 560.8 434.7 562.0 436.9 563.6C439.1 565.2 441.4 567.6 443.6 569.0C445.8 570.4 447.3 569.8 450.3 571.7C453.3 573.7 457.8 578.0 461.4 580.7C465.0 583.5 468.2 585.4 472.1 588.2C476.0 591.1 481.1 594.2 485.0 597.8C488.9 601.4 492.5 606.0 495.7 609.6C498.9 613.2 501.0 615.8 504.2 619.2C507.4 622.6 511.3 626.0 514.9 629.9C518.5 633.8 523.3 639.8 525.6 642.7C527.9 645.6 527.5 647.3 528.8 647.5C530.1 647.7 531.5 643.8 533.3 643.9C535.1 644.0 538.4 646.0 539.8 648.0C541.1 650.0 540.3 652.8 541.4 656.1C542.5 659.4 544.5 664.2 546.3 667.6C548.1 671.0 550.0 673.6 552.1 676.6C554.2 679.6 556.4 682.5 558.6 685.6C560.8 688.7 563.5 693.0 565.1 695.4C566.7 697.8 567.1 698.4 568.0 699.8C568.9 701.3 569.7 702.7 570.6 704.1C571.5 705.5 572.4 706.9 573.2 708.3C574.1 709.7 575.0 711.2 575.8 712.6C576.7 714.0 577.6 715.4 578.4 716.8C579.3 718.3 580.2 719.7 581.1 721.1C581.9 722.5 582.8 723.9 583.7 725.4C584.5 726.8 585.4 728.2 586.3 729.6C587.2 731.1 588.0 732.5 588.9 733.9C589.8 735.3 590.6 736.8 591.5 738.2C592.4 739.6 593.2 741.1 594.1 742.5C595.0 743.9 595.8 745.4 596.7 746.8C597.6 748.2 598.4 749.7 599.3 751.1C600.2 752.5 601.0 754.0 601.9 755.4C602.8 756.8 603.6 758.3 604.5 759.7C605.4 761.1 606.2 762.6 607.1 764.0C608.0 765.5 608.8 766.9 609.7 768.3C610.5 769.8 611.4 771.2 612.3 772.7C613.1 774.1 614.0 775.5 614.8 777.0C615.7 778.4 616.5 779.9 617.4 781.3C618.3 782.8 619.1 784.2 620.0 785.7C620.8 787.1 621.7 788.6 622.5 790.0C623.4 791.5 624.2 792.9 625.1 794.4C625.9 795.8 626.8 797.3 627.6 798.7C628.5 800.2 629.3 801.6 630.2 803.1C631.0 804.6 631.9 806.0 632.7 807.5C633.6 808.9 634.4 810.4 635.2 811.9C636.1 813.3 636.9 814.8 637.8 816.2C638.6 817.7 639.4 819.2 640.3 820.6C641.1 822.1 641.9 823.6 642.8 825.0C643.6 826.5 644.4 827.9 645.3 829.4C646.1 830.9 646.9 832.4 647.7 833.8C648.6 835.3 649.4 836.8 650.2 838.2C651.0 839.7 651.9 841.2 652.7 842.7C653.5 844.1 654.3 845.6 655.1 847.1C656.0 848.6 656.8 850.0 657.6 851.5C658.4 853.0 659.2 854.5 660.0 855.9C660.8 857.4 661.6 858.9 662.4 860.4C663.3 861.9 664.1 863.3 664.9 864.8C665.7 866.3 666.5 867.8 667.3 869.3C668.1 870.8 668.9 872.3 669.7 873.7C670.4 875.2 671.2 876.7 672.0 878.2C672.8 879.7 673.6 881.2 674.4 882.7C675.2 884.2 676.0 885.7 676.7 887.2C677.5 888.7 678.3 890.2 679.1 891.6C679.9 893.1 680.6 894.6 681.4 896.1C682.2 897.6 682.9 899.1 683.7 900.6C684.5 902.1 685.2 903.6 686.0 905.1C686.8 906.6 687.5 908.1 688.3 909.6C689.1 911.2 689.8 912.7 690.6 914.2C691.3 915.7 692.1 917.2 692.8 918.7C693.6 920.2 694.3 921.7 695.1 923.2C695.8 924.7 696.5 926.2 697.3 927.7C698.0 929.3 698.8 930.8 699.5 932.3C700.2 933.8 701.0 935.3 701.7 936.8C702.4 938.3 703.2 939.8 703.9 941.4C704.6 942.9 705.4 944.4 706.1 945.9C706.8 947.4 707.6 948.9 708.3 950.5C709.0 952.0 709.7 953.5 710.5 955.0C711.2 956.5 711.9 958.0 712.6 959.6C713.4 961.1 714.1 962.6 714.8 964.1C715.5 965.6 716.3 967.1 717.0 968.7C717.7 970.2 718.4 971.7 719.2 973.2C719.9 974.7 720.6 976.2 721.3 977.8C722.0 979.3 722.8 980.8 723.5 982.3C724.2 983.8 724.9 985.3 725.7 986.8C726.4 988.4 727.1 989.9 727.8 991.4C728.6 992.9 729.3 994.4 730.0 995.9C730.7 997.4 731.5 999.0 732.2 1000.5C732.9 1002.0 733.6 1003.5 734.4 1005.0C735.1 1006.5 735.8 1008.0 736.6 1009.5C737.3 1011.0 738.0 1012.5 738.8 1014.1C739.5 1015.6 740.2 1017.1 741.0 1018.6C741.7 1020.1 742.4 1021.6 743.2 1023.1C743.9 1024.6 744.7 1026.1 745.4 1027.6C746.2 1029.1 746.9 1030.6 747.7 1032.1C748.4 1033.6 749.2 1035.1 749.9 1036.6C750.7 1038.1 751.4 1039.6 752.2 1041.1C752.9 1042.5 753.7 1044.0 754.4 1045.5C755.2 1047.0 756.0 1048.5 756.7 1050.0C757.5 1051.5 758.3 1053.0 759.1 1054.4C759.8 1055.9 760.6 1057.4 761.4 1058.9C762.2 1060.4 763.0 1061.8 763.7 1063.3C764.5 1064.8 765.3 1066.3 766.1 1067.7C766.9 1069.2 767.7 1070.7 768.5 1072.2C769.3 1073.6 770.1 1075.1 770.9 1076.5C771.7 1078.0 772.5 1079.5 773.3 1080.9C774.2 1082.4 775.0 1083.9 775.8 1085.3C776.6 1086.8 777.4 1088.2 778.3 1089.7C779.1 1091.1 779.9 1092.6 780.8 1094.0C781.6 1095.5 782.5 1096.9 783.3 1098.3C784.2 1099.8 785.0 1101.2 785.9 1102.6C786.7 1104.1 787.6 1105.5 788.5 1106.9C789.3 1108.4 790.2 1109.8 791.1 1111.2C792.0 1112.6 792.9 1114.1 793.7 1115.5C794.6 1116.9 795.5 1118.3 796.4 1119.7C797.3 1121.1 798.2 1122.6 799.1 1124.0C800.1 1125.4 801.0 1126.8 801.9 1128.2C802.8 1129.6 803.7 1131.0 804.7 1132.4C805.6 1133.8 806.6 1135.1 807.5 1136.5C808.4 1137.9 809.4 1139.3 810.4 1140.7C811.3 1142.1 812.3 1143.4 813.3 1144.8C814.2 1146.2 815.2 1147.6 816.2 1148.9C817.2 1150.3 818.2 1151.6 819.2 1153.0C820.2 1154.4 821.2 1155.7 822.2 1157.1C823.2 1158.4 824.2 1159.8 825.2 1161.1C826.3 1162.5 827.3 1163.8 828.3 1165.1C829.4 1166.5 830.4 1167.8 831.5 1169.1C832.5 1170.5 833.6 1171.8 834.7 1173.1C835.7 1174.4 836.8 1175.7 837.9 1177.0C839.0 1178.4 840.1 1179.7 841.2 1181.0C842.3 1182.3 843.4 1183.6 844.5 1184.9C845.6 1186.2 846.6 1187.6 847.9 1188.7C849.1 1189.8 850.4 1190.0 852.0 1191.5C853.6 1193.0 855.8 1196.5 857.6 1198.0C859.4 1199.5 861.1 1200.0 862.7 1200.5C864.3 1201.0 864.6 1199.9 867.0 1201.0C869.4 1202.1 874.8 1205.7 877.1 1207.1C879.4 1208.5 879.3 1208.7 880.7 1209.5C882.1 1210.3 883.8 1211.2 885.4 1212.0C887.0 1212.8 888.6 1213.6 890.2 1214.3C891.8 1215.1 893.4 1215.8 895.0 1216.5C896.6 1217.2 898.2 1217.8 899.8 1218.5C901.4 1219.1 903.0 1219.7 904.6 1220.3C906.2 1220.9 907.8 1221.4 909.4 1222.0C911.0 1222.5 912.6 1223.0 914.3 1223.5C915.9 1224.0 917.5 1224.4 919.1 1224.9C920.7 1225.3 922.3 1225.7 924.0 1226.1C925.6 1226.5 927.2 1226.9 928.8 1227.2C930.5 1227.6 932.1 1227.9 933.7 1228.2C935.3 1228.5 937.0 1228.8 938.6 1229.1C940.2 1229.3 941.9 1229.6 943.5 1229.9C945.1 1230.1 946.8 1230.3 948.4 1230.6C950.0 1230.8 951.6 1231.0 953.3 1231.2C954.9 1231.4 956.5 1231.6 958.2 1231.8C959.8 1232.0 961.5 1232.2 963.1 1232.4C964.7 1232.6 966.4 1232.8 968.0 1233.0C969.6 1233.2 971.3 1233.4 972.9 1233.6C974.5 1233.8 976.2 1234.0 977.8 1234.3C979.4 1234.5 981.0 1234.7 982.7 1235.0C984.3 1235.2 985.9 1235.4 987.6 1235.7C989.2 1235.9 990.8 1236.2 992.5 1236.5C994.1 1236.8 995.7 1237.0 997.3 1237.3C999.0 1237.6 1000.6 1237.9 1002.2 1238.2C1003.8 1238.5 1005.4 1238.9 1007.1 1239.2C1008.7 1239.5 1010.3 1239.9 1011.9 1240.2C1013.5 1240.5 1015.2 1240.9 1016.8 1241.3C1018.4 1241.6 1020.0 1242.0 1021.6 1242.4C1023.2 1242.8 1024.9 1243.1 1026.5 1243.5C1028.1 1243.9 1029.7 1244.3 1031.3 1244.8C1032.9 1245.2 1034.5 1245.6 1036.1 1246.0C1037.7 1246.4 1039.3 1246.9 1040.9 1247.3C1042.5 1247.8 1044.1 1248.2 1045.7 1248.7C1047.3 1249.1 1048.9 1249.6 1050.5 1250.1C1052.1 1250.6 1053.7 1251.1 1055.3 1251.5C1056.9 1252.0 1058.5 1252.5 1060.1 1253.1C1061.7 1253.6 1063.2 1254.1 1064.8 1254.6C1066.4 1255.1 1068.0 1255.7 1069.6 1256.2C1071.2 1256.7 1072.7 1257.3 1074.3 1257.8C1075.9 1258.4 1077.5 1258.9 1079.0 1259.5C1080.6 1260.1 1082.2 1260.6 1083.7 1261.2C1085.3 1261.8 1086.9 1262.4 1088.4 1263.0C1090.0 1263.6 1091.6 1264.2 1093.1 1264.8C1094.7 1265.4 1096.2 1266.0 1097.8 1266.6C1099.4 1267.3 1100.9 1267.9 1102.5 1268.5C1104.0 1269.2 1105.5 1269.8 1107.1 1270.5C1108.6 1271.1 1110.2 1271.8 1111.7 1272.4C1113.3 1273.1 1114.8 1273.8 1116.3 1274.4C1117.9 1275.1 1119.4 1275.8 1120.9 1276.5C1122.4 1277.2 1124.0 1277.9 1125.5 1278.6C1127.0 1279.3 1128.5 1280.0 1130.1 1280.7C1131.6 1281.4 1133.1 1282.1 1134.6 1282.8C1136.1 1283.6 1137.6 1284.3 1139.1 1285.0C1140.6 1285.8 1142.1 1286.5 1143.6 1287.3C1145.1 1288.0 1146.6 1288.8 1148.1 1289.5C1149.6 1290.3 1151.1 1291.0 1152.6 1291.8C1154.1 1292.6 1155.6 1293.3 1157.0 1294.1C1158.5 1294.9 1160.0 1295.7 1161.5 1296.5C1163.0 1297.3 1164.4 1298.1 1165.9 1298.8C1167.4 1299.6 1168.8 1300.4 1170.3 1301.3C1171.8 1302.1 1173.2 1302.9 1174.7 1303.7C1176.2 1304.5 1177.6 1305.3 1179.1 1306.1C1180.5 1307.0 1182.0 1307.8 1183.5 1308.6C1184.9 1309.4 1186.4 1310.3 1187.8 1311.1C1189.3 1311.9 1190.7 1312.8 1192.2 1313.6C1193.6 1314.5 1195.0 1315.3 1196.5 1316.2C1197.9 1317.0 1199.4 1317.8 1200.8 1318.7C1202.3 1319.6 1203.7 1320.4 1205.1 1321.3C1206.6 1322.1 1208.0 1323.0 1209.4 1323.8C1210.9 1324.7 1212.3 1325.6 1213.7 1326.4C1215.2 1327.3 1216.6 1328.2 1218.0 1329.0C1219.5 1329.9 1220.9 1330.8 1222.3 1331.6C1223.8 1332.5 1225.2 1333.4 1226.6 1334.2C1228.0 1335.1 1229.5 1336.0 1230.9 1336.9C1232.3 1337.7 1233.7 1338.6 1235.2 1339.5C1236.6 1340.4 1238.0 1341.2 1239.4 1342.1C1240.9 1343.0 1242.3 1343.9 1243.7 1344.8C1245.1 1345.6 1246.6 1346.5 1248.0 1347.4C1249.4 1348.3 1250.8 1349.1 1252.2 1350.0C1253.7 1350.9 1255.1 1351.8 1256.5 1352.6C1257.9 1353.5 1259.3 1354.4 1260.8 1355.3C1262.2 1356.1 1263.6 1357.0 1265.0 1357.9C1266.5 1358.7 1267.9 1359.6 1269.3 1360.5C1270.7 1361.3 1272.1 1362.2 1273.6 1363.1C1275.0 1363.9 1276.4 1364.8 1277.8 1365.7C1279.3 1366.5 1280.7 1367.4 1282.1 1368.2C1283.5 1369.1 1285.0 1370.0 1286.4 1370.8C1287.8 1371.7 1289.3 1372.5 1290.7 1373.4C1292.1 1374.2 1293.5 1375.1 1295.0 1375.9C1296.4 1376.7 1297.8 1377.6 1299.3 1378.4C1300.7 1379.3 1302.1 1380.1 1303.6 1380.9C1305.0 1381.7 1306.4 1382.6 1307.9 1383.4C1309.3 1384.2 1310.8 1385.0 1312.2 1385.9C1313.6 1386.7 1315.1 1387.5 1316.5 1388.3C1318.0 1389.1 1319.4 1389.9 1320.9 1390.7C1322.3 1391.5 1323.8 1392.3 1325.2 1393.1C1326.7 1393.9 1328.1 1394.7 1329.6 1395.5C1331.0 1396.3 1332.5 1397.1 1334.0 1397.8C1335.4 1398.6 1336.9 1399.4 1338.3 1400.2C1339.8 1400.9 1341.3 1401.7 1342.7 1402.5C1344.2 1403.2 1345.7 1404.0 1347.1 1404.8C1348.6 1405.5 1350.1 1406.3 1351.6 1407.0C1353.1 1407.8 1354.5 1408.5 1356.0 1409.3C1357.5 1410.0 1359.0 1410.7 1360.5 1411.5C1362.0 1412.2 1363.5 1412.9 1364.9 1413.7C1366.4 1414.4 1367.9 1415.1 1369.4 1415.8C1370.9 1416.6 1372.4 1417.3 1374.0 1418.0C1375.5 1418.7 1377.0 1419.4 1378.5 1420.1C1380.0 1420.8 1381.5 1421.5 1383.0 1422.2C1384.5 1422.9 1386.1 1423.6 1387.6 1424.3C1389.1 1424.9 1390.7 1425.6 1392.2 1426.3C1393.7 1427.0 1395.3 1427.6 1396.8 1428.3C1398.3 1429.0 1399.9 1429.6 1401.4 1430.3C1403.0 1431.0 1404.5 1431.6 1406.1 1432.3C1407.6 1432.9 1409.2 1433.5 1410.8 1434.2C1412.3 1434.8 1413.9 1435.5 1415.5 1436.1C1417.1 1436.7 1418.6 1437.3 1420.2 1438.0C1421.8 1438.6 1423.4 1439.2 1425.0 1439.8C1426.6 1440.4 1428.1 1441.0 1429.7 1441.6C1431.3 1442.2 1433.0 1442.9 1434.6 1443.4C1436.1 1444.0 1438.3 1444.7 1439.0 1444.9" fill="none" stroke="#d2f4dc" stroke-width="5" stroke-linejoin="round"/><path d="M147.5 635.3C147.9 633.4 148.8 627.5 150.0 623.9C151.2 620.3 153.5 617.2 154.7 613.9C155.9 610.6 156.5 606.7 157.4 603.9C158.3 601.1 159.2 599.4 160.1 597.2C161.0 595.0 161.8 592.6 162.7 590.5C163.6 588.4 164.2 586.4 165.4 584.5C166.6 582.6 168.3 581.0 170.1 579.1C171.9 577.2 174.4 575.0 176.1 573.1C177.8 571.2 178.9 569.2 180.1 567.7C181.3 566.2 180.7 564.8 183.5 564.4C186.3 564.0 193.6 566.1 196.9 565.1C200.2 564.1 201.4 558.6 203.5 558.4C205.6 558.2 207.9 562.4 209.6 563.7C211.3 565.0 211.8 565.8 213.6 566.4C215.4 567.0 218.3 566.0 220.3 567.1C222.3 568.2 223.6 570.8 225.6 573.1C227.6 575.4 229.9 579.3 232.3 581.1C234.7 582.9 237.9 583.8 240.0 583.8C242.1 583.8 243.0 580.4 244.6 581.0C246.2 581.6 247.9 585.6 249.7 587.7C251.5 589.8 253.2 592.1 255.6 593.5C258.1 594.9 261.9 594.9 264.4 595.8C266.8 596.7 268.3 599.6 270.3 598.7C272.3 597.8 274.5 591.1 276.2 590.6C277.9 590.1 279.1 593.3 280.6 595.8C282.1 598.2 282.9 603.1 285.0 605.3C287.1 607.5 291.0 607.1 293.1 609.0C295.2 610.9 295.9 614.1 297.5 616.4C299.1 618.7 300.8 620.9 302.7 623.0C304.6 625.1 306.9 626.4 308.6 628.9C310.3 631.4 311.5 634.6 313.0 637.7C314.5 640.8 315.9 644.1 317.4 647.3C318.9 650.5 320.3 653.7 321.8 656.8C323.3 659.9 324.7 662.4 326.2 665.7C327.7 669.0 329.3 673.3 330.7 676.7C332.1 680.1 333.1 683.2 334.3 686.3C335.5 689.4 336.6 691.8 338.0 695.1C339.4 698.4 341.1 702.3 342.4 706.1C343.7 709.9 344.8 714.7 345.7 718.1C346.6 721.5 347.1 723.2 348.0 726.5C348.9 729.8 350.0 734.5 351.3 737.8C352.6 741.1 354.4 743.3 355.7 746.1C357.0 748.9 358.1 751.2 359.2 754.6C360.3 758.0 360.9 761.8 362.4 766.5C363.9 771.2 366.4 777.6 368.4 782.9C370.4 788.2 372.4 792.6 374.5 798.2C376.6 803.8 379.0 812.2 380.7 816.6C382.4 821.0 383.4 821.5 384.9 824.6C386.4 827.7 388.6 832.2 389.9 835.0C391.2 837.8 391.8 838.6 392.9 841.2C394.0 843.8 395.4 847.3 396.6 850.4C397.8 853.5 398.1 856.1 400.3 860.0C402.5 863.9 405.8 868.8 409.6 873.8C413.4 878.8 420.2 886.5 422.9 889.8C425.6 893.1 424.8 892.3 425.8 893.6C426.8 894.9 427.9 896.2 428.9 897.6C430.0 898.9 431.0 900.2 432.1 901.6C433.1 902.9 434.1 904.3 435.1 905.6C436.1 907.0 437.1 908.3 438.1 909.7C439.2 911.0 440.1 912.4 441.1 913.8C442.1 915.1 443.1 916.5 444.1 917.9C445.1 919.2 446.0 920.6 447.0 922.0C448.0 923.4 448.9 924.7 449.9 926.1C450.8 927.5 451.8 928.9 452.7 930.3C453.7 931.7 454.6 933.1 455.5 934.5C456.5 935.9 457.4 937.3 458.3 938.7C459.2 940.1 460.1 941.5 461.0 942.9C461.9 944.3 462.8 945.7 463.7 947.1C464.6 948.5 465.5 949.9 466.4 951.4C467.3 952.8 468.1 954.2 469.0 955.6C469.9 957.1 470.8 958.5 471.6 959.9C472.5 961.3 473.3 962.8 474.2 964.2C475.0 965.6 475.9 967.1 476.7 968.5C477.6 970.0 478.4 971.4 479.2 972.9C480.1 974.3 480.9 975.7 481.7 977.2C482.5 978.6 483.4 980.1 484.2 981.6C485.0 983.0 485.8 984.5 486.6 985.9C487.4 987.4 488.2 988.8 489.0 990.3C489.8 991.8 490.6 993.2 491.4 994.7C492.2 996.2 492.9 997.6 493.7 999.1C494.5 1000.6 495.3 1002.0 496.1 1003.5C496.8 1005.0 497.6 1006.5 498.4 1007.9C499.1 1009.4 499.9 1010.9 500.7 1012.4C501.4 1013.8 502.2 1015.3 502.9 1016.8C503.7 1018.3 504.4 1019.8 505.2 1021.3C505.9 1022.7 506.7 1024.2 507.4 1025.7C508.2 1027.2 508.9 1028.7 509.7 1030.2C510.4 1031.7 511.1 1033.2 511.9 1034.7C512.6 1036.1 513.3 1037.6 514.1 1039.1C514.8 1040.6 515.5 1042.1 516.2 1043.6C517.0 1045.1 517.7 1046.6 518.4 1048.1C519.1 1049.6 519.9 1051.1 520.6 1052.6C521.3 1054.1 522.0 1055.6 522.8 1057.1C523.5 1058.6 524.2 1060.1 524.9 1061.6C525.6 1063.1 526.4 1064.6 527.1 1066.1C527.8 1067.6 528.5 1069.1 529.3 1070.6C530.0 1072.1 530.7 1073.6 531.4 1075.1C532.2 1076.6 532.9 1078.1 533.6 1079.6C534.3 1081.1 535.1 1082.6 535.8 1084.1C536.5 1085.7 537.2 1087.2 538.0 1088.7C538.7 1090.2 539.4 1091.7 540.2 1093.2C540.9 1094.7 541.6 1096.2 542.4 1097.7C543.1 1099.2 543.8 1100.7 544.6 1102.2C545.3 1103.7 546.1 1105.2 546.8 1106.7C547.6 1108.2 548.3 1109.7 549.0 1111.2C549.8 1112.7 550.5 1114.2 551.3 1115.7C552.0 1117.2 552.8 1118.7 553.5 1120.2C554.3 1121.7 555.1 1123.2 555.8 1124.7C556.6 1126.2 557.3 1127.7 558.1 1129.2C558.9 1130.7 559.6 1132.2 560.4 1133.7C561.1 1135.2 561.9 1136.7 562.7 1138.1C563.5 1139.6 564.2 1141.1 565.0 1142.6C565.8 1144.1 566.5 1145.6 567.3 1147.1C568.1 1148.6 568.9 1150.1 569.7 1151.5C570.4 1153.0 571.2 1154.5 572.0 1156.0C572.8 1157.5 573.6 1159.0 574.4 1160.4C575.2 1161.9 575.9 1163.4 576.7 1164.9C577.5 1166.4 578.3 1167.8 579.1 1169.3C579.9 1170.8 580.7 1172.3 581.5 1173.7C582.3 1175.2 583.1 1176.7 583.9 1178.2C584.7 1179.6 585.5 1181.1 586.4 1182.6C587.2 1184.0 588.0 1185.5 588.8 1187.0C589.6 1188.4 590.4 1189.9 591.2 1191.3C592.1 1192.8 592.9 1194.3 593.7 1195.7C594.5 1197.2 595.4 1198.6 596.2 1200.1C597.0 1201.5 597.9 1203.0 598.7 1204.4C599.5 1205.9 600.4 1207.3 601.2 1208.8C602.0 1210.2 602.9 1211.7 603.7 1213.1C604.6 1214.6 605.4 1216.0 606.3 1217.4C607.1 1218.9 608.0 1220.3 608.8 1221.7C609.7 1223.2 610.5 1224.6 611.4 1226.0C612.2 1227.5 613.1 1228.9 614.0 1230.3C614.8 1231.8 615.7 1233.2 616.6 1234.6C617.4 1236.0 618.3 1237.4 619.2 1238.9C620.1 1240.3 620.9 1241.7 621.8 1243.1C622.7 1244.5 623.6 1245.9 624.5 1247.3C625.3 1248.7 626.2 1250.1 627.1 1251.5C628.0 1252.9 628.9 1254.3 629.8 1255.7C630.7 1257.1 631.6 1258.5 632.5 1259.9C633.4 1261.3 634.3 1262.7 635.2 1264.1C636.1 1265.5 637.0 1266.9 637.9 1268.3C638.9 1269.7 639.8 1271.1 640.7 1272.5C641.6 1273.8 642.5 1275.2 643.4 1276.6C644.4 1278.0 645.3 1279.4 646.2 1280.7C647.1 1282.1 648.1 1283.5 649.0 1284.9C649.9 1286.3 650.8 1287.6 651.8 1289.0C652.7 1290.4 653.6 1291.8 654.6 1293.1C655.5 1294.5 656.4 1295.9 657.4 1297.2C658.3 1298.6 659.3 1300.0 660.2 1301.4C661.1 1302.7 662.1 1304.1 663.0 1305.5C664.0 1306.8 664.9 1308.2 665.9 1309.6C666.8 1310.9 667.8 1312.3 668.7 1313.7C669.7 1315.0 670.6 1316.4 671.6 1317.8C672.5 1319.1 673.5 1320.5 674.4 1321.8C675.4 1323.2 676.4 1324.6 677.3 1325.9C678.3 1327.3 679.2 1328.7 680.2 1330.0C681.2 1331.4 682.1 1332.8 683.1 1334.1C684.0 1335.5 685.0 1336.8 686.0 1338.2C686.9 1339.6 687.9 1340.9 688.9 1342.3C689.8 1343.7 690.8 1345.0 691.8 1346.4C692.7 1347.8 693.7 1349.1 694.7 1350.5C695.6 1351.9 696.6 1353.2 697.6 1354.6C698.6 1356.0 699.5 1357.3 700.5 1358.7C701.5 1360.1 702.4 1361.4 703.4 1362.8C704.4 1364.2 705.4 1365.5 706.3 1366.9C707.3 1368.3 708.3 1369.6 709.2 1371.0C710.2 1372.4 711.2 1373.8 712.2 1375.1C713.1 1376.5 714.1 1377.9 715.1 1379.3C716.1 1380.6 717.0 1382.0 718.0 1383.4C719.0 1384.8 720.0 1386.2 720.9 1387.5C721.9 1388.9 722.9 1390.3 723.9 1391.7C724.8 1393.1 725.8 1394.4 726.8 1395.8C727.8 1397.2 728.8 1398.6 729.8 1400.0C730.7 1401.3 731.7 1402.7 732.7 1404.1C733.7 1405.5 734.7 1406.8 735.7 1408.2C736.7 1409.6 737.7 1410.9 738.7 1412.3C739.7 1413.7 740.7 1415.0 741.7 1416.4C742.7 1417.8 743.7 1419.1 744.7 1420.5C745.7 1421.8 746.7 1423.2 747.7 1424.5C748.7 1425.9 749.8 1427.2 750.8 1428.6C751.8 1429.9 752.8 1431.3 753.9 1432.6C754.9 1433.9 755.9 1435.2 757.0 1436.6C758.0 1437.9 759.1 1439.2 760.1 1440.5C761.2 1441.8 762.2 1443.1 763.3 1444.4C764.4 1445.7 765.4 1447.0 766.5 1448.3C767.6 1449.6 768.7 1450.8 769.8 1452.1C770.8 1453.4 771.9 1454.7 773.0 1455.9C774.1 1457.2 775.3 1458.4 776.4 1459.6C777.5 1460.9 778.6 1462.1 779.7 1463.3C780.9 1464.6 782.0 1465.8 783.1 1467.0C784.3 1468.2 785.4 1469.4 786.6 1470.6C787.8 1471.8 788.9 1472.9 790.1 1474.1C791.3 1475.3 792.5 1476.4 793.7 1477.6C794.9 1478.7 796.1 1479.8 797.3 1481.0C798.5 1482.1 799.7 1483.2 800.9 1484.3C802.2 1485.4 803.4 1486.5 804.7 1487.6C805.9 1488.7 807.2 1489.7 808.4 1490.8C809.7 1491.8 811.0 1492.9 812.3 1493.9C813.6 1494.9 814.9 1495.9 816.2 1497.0C817.5 1498.0 818.8 1498.9 820.2 1499.9C821.5 1500.9 822.8 1501.9 824.2 1502.8C825.6 1503.7 826.9 1504.7 828.3 1505.6C829.7 1506.5 831.1 1507.4 832.5 1508.3C833.9 1509.2 835.3 1510.1 836.7 1510.9C838.2 1511.8 839.6 1512.6 841.1 1513.4C842.5 1514.2 844.0 1515.0 845.5 1515.8C846.9 1516.6 848.4 1517.4 849.9 1518.1C851.4 1518.8 852.9 1519.6 854.4 1520.3C855.9 1520.9 857.4 1521.6 859.0 1522.3C860.5 1522.9 862.0 1523.5 863.6 1524.1C865.1 1524.7 866.7 1525.3 868.2 1525.9C869.8 1526.4 871.4 1527.0 872.9 1527.5C874.5 1528.0 876.1 1528.5 877.7 1528.9C879.3 1529.4 880.9 1529.8 882.5 1530.3C884.1 1530.7 885.7 1531.1 887.3 1531.5C888.9 1531.9 890.5 1532.2 892.1 1532.6C893.8 1532.9 895.4 1533.3 897.0 1533.6C898.6 1533.9 900.3 1534.2 901.9 1534.5C903.5 1534.7 905.2 1535.0 906.8 1535.3C908.5 1535.5 910.1 1535.8 911.8 1536.0C913.4 1536.2 915.1 1536.4 916.7 1536.6C918.4 1536.8 920.1 1537.0 921.7 1537.2C923.4 1537.3 925.1 1537.5 926.7 1537.7C928.4 1537.8 930.1 1537.9 931.7 1538.1C933.4 1538.2 935.1 1538.3 936.8 1538.5C938.4 1538.6 940.1 1538.7 941.8 1538.8C943.5 1538.9 945.2 1539.0 946.8 1539.1C948.5 1539.2 950.2 1539.3 951.9 1539.3C953.6 1539.4 955.3 1539.5 957.0 1539.6C958.7 1539.6 960.3 1539.7 962.0 1539.8C963.7 1539.8 965.4 1539.9 967.1 1540.0C968.8 1540.0 970.5 1540.1 972.2 1540.2C973.9 1540.2 975.6 1540.3 977.2 1540.4C978.9 1540.4 980.6 1540.5 982.3 1540.6C984.0 1540.6 985.7 1540.7 987.4 1540.8C989.1 1540.9 990.8 1540.9 992.4 1541.0C994.1 1541.1 995.8 1541.2 997.5 1541.3C999.2 1541.4 1000.9 1541.5 1002.5 1541.6C1004.2 1541.7 1005.9 1541.8 1007.6 1542.0C1009.3 1542.1 1010.9 1542.2 1012.6 1542.3C1014.3 1542.5 1016.0 1542.6 1017.6 1542.8C1019.3 1542.9 1021.0 1543.1 1022.6 1543.2C1024.3 1543.4 1026.0 1543.5 1027.6 1543.7C1029.3 1543.9 1031.0 1544.1 1032.6 1544.2C1034.3 1544.4 1036.0 1544.6 1037.6 1544.8C1039.3 1545.0 1041.0 1545.2 1042.6 1545.4C1044.3 1545.6 1045.9 1545.8 1047.6 1546.0C1049.2 1546.3 1050.9 1546.5 1052.6 1546.7C1054.2 1546.9 1055.9 1547.2 1057.5 1547.4C1059.2 1547.6 1060.8 1547.9 1062.5 1548.1C1064.1 1548.4 1065.8 1548.6 1067.4 1548.9C1069.1 1549.2 1070.7 1549.4 1072.4 1549.7C1074.0 1550.0 1075.7 1550.2 1077.3 1550.5C1078.9 1550.8 1080.6 1551.1 1082.2 1551.3C1083.9 1551.6 1085.5 1551.9 1087.1 1552.2C1088.8 1552.5 1090.4 1552.8 1092.1 1553.1C1093.7 1553.4 1095.3 1553.7 1097.0 1554.0C1098.6 1554.4 1100.3 1554.7 1101.9 1555.0C1103.5 1555.3 1105.2 1555.6 1106.8 1556.0C1108.4 1556.3 1110.1 1556.6 1111.7 1557.0C1113.3 1557.3 1115.0 1557.6 1116.6 1558.0C1118.2 1558.3 1119.8 1558.7 1121.5 1559.0C1123.1 1559.4 1124.7 1559.7 1126.4 1560.1C1128.0 1560.5 1129.6 1560.8 1131.2 1561.2C1132.9 1561.5 1134.5 1561.9 1136.1 1562.3C1137.7 1562.6 1139.4 1563.0 1141.0 1563.4C1142.6 1563.8 1144.2 1564.2 1145.9 1564.5C1147.5 1564.9 1149.1 1565.3 1150.7 1565.7C1152.4 1566.1 1154.0 1566.5 1155.6 1566.9C1157.2 1567.3 1158.8 1567.7 1160.5 1568.1C1162.1 1568.5 1163.7 1568.9 1165.3 1569.3C1166.9 1569.7 1168.6 1570.1 1170.2 1570.5C1171.8 1570.9 1173.4 1571.3 1175.0 1571.7C1176.6 1572.1 1178.3 1572.5 1179.9 1573.0C1181.5 1573.4 1183.1 1573.8 1184.7 1574.2C1186.3 1574.6 1188.0 1575.0 1189.6 1575.5C1191.2 1575.9 1192.8 1576.3 1194.4 1576.7C1196.0 1577.2 1197.7 1577.6 1199.3 1578.0C1200.9 1578.5 1202.5 1578.9 1204.1 1579.3C1205.7 1579.8 1207.3 1580.2 1209.0 1580.6C1210.6 1581.1 1212.2 1581.5 1213.8 1581.9C1215.4 1582.4 1217.0 1582.8 1218.7 1583.2C1220.3 1583.7 1221.9 1584.1 1223.5 1584.6C1225.1 1585.0 1226.7 1585.4 1228.3 1585.9C1230.0 1586.3 1231.6 1586.8 1233.2 1587.2C1234.8 1587.7 1236.4 1588.1 1238.0 1588.5C1239.6 1589.0 1241.3 1589.4 1242.9 1589.9C1244.5 1590.3 1246.1 1590.8 1247.7 1591.2C1249.3 1591.6 1251.0 1592.1 1252.6 1592.5C1254.2 1593.0 1255.8 1593.4 1257.4 1593.8C1259.0 1594.3 1260.6 1594.7 1262.3 1595.2C1263.9 1595.6 1265.5 1596.0 1267.1 1596.5C1268.7 1596.9 1270.3 1597.3 1272.0 1597.8C1273.6 1598.2 1275.2 1598.7 1276.8 1599.1C1278.4 1599.5 1280.1 1599.9 1281.7 1600.4C1283.3 1600.8 1284.9 1601.2 1286.5 1601.7C1288.2 1602.1 1289.8 1602.5 1291.4 1602.9C1293.0 1603.3 1294.6 1603.8 1296.3 1604.2C1297.9 1604.6 1299.5 1605.0 1301.1 1605.4C1302.7 1605.8 1304.4 1606.2 1306.0 1606.6C1307.6 1607.1 1309.2 1607.5 1310.9 1607.9C1312.5 1608.3 1314.1 1608.7 1315.7 1609.1C1317.4 1609.4 1319.0 1609.8 1320.6 1610.2C1322.2 1610.6 1323.9 1611.0 1325.5 1611.4C1327.1 1611.8 1328.7 1612.2 1330.4 1612.5C1332.0 1612.9 1333.6 1613.3 1335.3 1613.6C1336.9 1614.0 1338.5 1614.4 1340.2 1614.7C1341.8 1615.1 1343.4 1615.5 1345.1 1615.8C1346.7 1616.2 1348.3 1616.5 1350.0 1616.9C1351.6 1617.2 1353.2 1617.5 1354.9 1617.9C1356.5 1618.2 1358.1 1618.5 1359.8 1618.9C1361.4 1619.2 1363.1 1619.5 1364.7 1619.8C1366.3 1620.1 1368.0 1620.5 1369.6 1620.8C1371.3 1621.1 1372.9 1621.4 1374.5 1621.7C1376.2 1622.0 1377.8 1622.3 1379.5 1622.5C1381.1 1622.8 1382.8 1623.1 1384.4 1623.4C1386.1 1623.7 1387.7 1623.9 1389.4 1624.2C1391.0 1624.4 1392.7 1624.7 1394.3 1625.0C1396.0 1625.2 1397.6 1625.4 1399.3 1625.7C1400.9 1625.9 1402.6 1626.2 1404.2 1626.4C1405.9 1626.6 1407.5 1626.8 1409.2 1627.0C1410.9 1627.2 1412.5 1627.5 1414.2 1627.7C1415.8 1627.9 1417.5 1628.0 1419.2 1628.2C1420.8 1628.4 1422.5 1628.6 1424.2 1628.8C1425.8 1628.9 1427.5 1629.1 1429.2 1629.3C1430.8 1629.4 1432.5 1629.6 1434.2 1629.7C1435.8 1629.8 1438.4 1629.8 1439.2 1629.8" fill="none" stroke="#c8f2f2" stroke-width="5" stroke-linejoin="round"/><path d="M147.5 247.3C148.9 248.3 153.3 251.7 156.1 253.2C158.9 254.7 161.9 255.9 164.1 256.4C166.3 256.8 168.0 256.5 169.5 255.9C171.0 255.3 171.0 253.2 173.2 252.7C175.4 252.2 180.7 251.9 182.9 252.7C185.1 253.5 185.3 255.9 186.6 257.5C187.9 259.1 189.3 261.1 190.9 262.3C192.5 263.6 195.0 263.8 196.3 265.0C197.7 266.2 198.0 267.8 199.0 269.3C200.0 270.8 200.9 272.5 202.2 274.1C203.4 275.7 205.1 277.8 206.5 279.0C207.9 280.2 209.7 280.4 210.8 281.6C211.9 282.9 212.2 284.4 212.9 286.5C213.6 288.6 214.3 291.9 215.1 294.0C215.9 296.1 216.9 297.2 217.7 299.3C218.5 301.4 218.9 304.8 219.9 306.3C220.9 307.8 222.0 306.1 223.7 308.5C225.4 310.9 228.0 317.2 230.1 320.5C232.2 323.8 234.6 325.8 236.5 328.5C238.4 331.2 239.8 333.8 241.4 336.5C243.0 339.2 244.6 341.9 246.2 344.6C247.8 347.3 249.7 350.2 251.0 352.6C252.3 355.0 253.1 356.9 254.2 359.0C255.3 361.1 256.1 362.2 257.4 365.4C258.7 368.6 261.0 375.9 262.2 378.3C263.4 380.7 263.2 377.2 264.4 379.8C265.6 382.4 267.8 389.0 269.5 394.0C271.2 399.0 273.0 405.1 274.8 410.0C276.6 414.9 278.6 420.0 280.2 423.4C281.8 426.8 283.1 427.9 284.2 430.1C285.3 432.3 285.9 434.0 286.9 436.8C287.9 439.6 289.3 444.0 290.2 446.8C291.1 449.6 291.4 451.3 292.2 453.5C293.0 455.7 294.1 457.4 294.9 460.2C295.7 463.0 296.0 466.8 296.9 470.2C297.8 473.6 299.3 476.9 300.3 480.3C301.3 483.7 301.8 486.7 302.9 490.3C304.0 493.9 305.1 495.9 306.8 502.0C308.6 508.1 311.5 519.7 313.4 527.2C315.3 534.7 316.6 540.7 318.0 547.0C319.4 553.3 320.0 557.3 321.5 565.0C323.0 572.7 324.8 583.1 326.8 593.4C328.8 603.7 331.4 615.8 333.4 626.9C335.4 638.0 337.6 653.9 338.8 660.3C340.0 666.7 340.0 663.4 340.4 665.0C340.7 666.7 340.8 668.4 341.1 670.0C341.3 671.7 341.5 673.3 341.8 675.0C342.0 676.6 342.2 678.3 342.5 679.9C342.7 681.6 342.9 683.2 343.1 684.9C343.4 686.5 343.6 688.2 343.8 689.8C344.0 691.5 344.3 693.1 344.5 694.8C344.7 696.5 344.9 698.1 345.2 699.8C345.4 701.4 345.6 703.1 345.8 704.7C346.0 706.4 346.2 708.0 346.5 709.7C346.7 711.3 346.9 713.0 347.1 714.6C347.3 716.3 347.5 718.0 347.8 719.6C348.0 721.3 348.2 722.9 348.4 724.6C348.6 726.2 348.8 727.9 349.0 729.5C349.2 731.2 349.4 732.8 349.6 734.5C349.9 736.2 350.1 737.8 350.3 739.5C350.5 741.1 350.7 742.8 350.9 744.4C351.1 746.1 351.3 747.7 351.5 749.4C351.7 751.0 351.9 752.7 352.1 754.4C352.3 756.0 352.5 757.7 352.7 759.3C352.9 761.0 353.1 762.6 353.3 764.3C353.5 765.9 353.7 767.6 353.9 769.3C354.1 770.9 354.3 772.6 354.5 774.2C354.7 775.9 354.9 777.5 355.1 779.2C355.3 780.9 355.4 782.5 355.6 784.2C355.8 785.8 356.0 787.5 356.2 789.1C356.4 790.8 356.6 792.4 356.8 794.1C357.0 795.8 357.2 797.4 357.4 799.1C357.5 800.7 357.7 802.4 357.9 804.0C358.1 805.7 358.3 807.4 358.5 809.0C358.7 810.7 358.8 812.3 359.0 814.0C359.2 815.6 359.4 817.3 359.6 819.0C359.8 820.6 359.9 822.3 360.1 823.9C360.3 825.6 360.5 827.2 360.7 828.9C360.8 830.6 361.0 832.2 361.2 833.9C361.4 835.5 361.6 837.2 361.7 838.8C361.9 840.5 362.1 842.2 362.3 843.8C362.5 845.5 362.6 847.1 362.8 848.8C363.0 850.5 363.2 852.1 363.3 853.8C363.5 855.4 363.7 857.1 363.9 858.7C364.0 860.4 364.2 862.1 364.4 863.7C364.6 865.4 364.7 867.0 364.9 868.7C365.1 870.3 365.2 872.0 365.4 873.7C365.6 875.3 365.8 877.0 365.9 878.6C366.1 880.3 366.3 882.0 366.4 883.6C366.6 885.3 366.8 886.9 367.0 888.6C367.1 890.2 367.3 891.9 367.5 893.6C367.6 895.2 367.8 896.9 368.0 898.5C368.1 900.2 368.3 901.9 368.5 903.5C368.6 905.2 368.8 906.8 369.0 908.5C369.1 910.2 369.3 911.8 369.5 913.5C369.6 915.1 369.8 916.8 370.0 918.4C370.1 920.1 370.3 921.8 370.5 923.4C370.6 925.1 370.8 926.7 371.0 928.4C371.1 930.1 371.3 931.7 371.4 933.4C371.6 935.0 371.8 936.7 371.9 938.4C372.1 940.0 372.3 941.7 372.4 943.3C372.6 945.0 372.8 946.7 372.9 948.3C373.1 950.0 373.2 951.6 373.4 953.3C373.6 954.9 373.7 956.6 373.9 958.3C374.0 959.9 374.2 961.6 374.4 963.2C374.5 964.9 374.7 966.6 374.9 968.2C375.0 969.9 375.2 971.5 375.3 973.2C375.5 974.9 375.7 976.5 375.8 978.2C376.0 979.8 376.1 981.5 376.3 983.2C376.5 984.8 376.6 986.5 376.8 988.1C376.9 989.8 377.1 991.5 377.3 993.1C377.4 994.8 377.6 996.4 377.7 998.1C377.9 999.7 378.1 1001.4 378.2 1003.1C378.4 1004.7 378.5 1006.4 378.7 1008.0C378.9 1009.7 379.0 1011.4 379.2 1013.0C379.3 1014.7 379.5 1016.3 379.7 1018.0C379.8 1019.7 380.0 1021.3 380.1 1023.0C380.3 1024.6 380.5 1026.3 380.6 1028.0C380.8 1029.6 381.0 1031.3 381.1 1032.9C381.3 1034.6 381.4 1036.3 381.6 1037.9C381.8 1039.6 381.9 1041.2 382.1 1042.9C382.2 1044.5 382.4 1046.2 382.6 1047.9C382.7 1049.5 382.9 1051.2 383.0 1052.8C383.2 1054.5 383.4 1056.2 383.5 1057.8C383.7 1059.5 383.8 1061.1 384.0 1062.8C384.2 1064.5 384.3 1066.1 384.5 1067.8C384.7 1069.4 384.8 1071.1 385.0 1072.8C385.1 1074.4 385.3 1076.1 385.5 1077.7C385.6 1079.4 385.8 1081.0 386.0 1082.7C386.1 1084.4 386.3 1086.0 386.5 1087.7C386.6 1089.3 386.8 1091.0 386.9 1092.7C387.1 1094.3 387.3 1096.0 387.4 1097.6C387.6 1099.3 387.8 1101.0 387.9 1102.6C388.1 1104.3 388.3 1105.9 388.4 1107.6C388.6 1109.2 388.8 1110.9 388.9 1112.6C389.1 1114.2 389.3 1115.9 389.4 1117.5C389.6 1119.2 389.8 1120.9 389.9 1122.5C390.1 1124.2 390.3 1125.8 390.4 1127.5C390.6 1129.1 390.8 1130.8 390.9 1132.5C391.1 1134.1 391.3 1135.8 391.5 1137.4C391.6 1139.1 391.8 1140.8 392.0 1142.4C392.1 1144.1 392.3 1145.7 392.5 1147.4C392.6 1149.0 392.8 1150.7 393.0 1152.4C393.2 1154.0 393.3 1155.7 393.5 1157.3C393.7 1159.0 393.8 1160.6 394.0 1162.3C394.2 1164.0 394.4 1165.6 394.5 1167.3C394.7 1168.9 394.9 1170.6 395.1 1172.3C395.2 1173.9 395.4 1175.6 395.6 1177.2C395.8 1178.9 395.9 1180.5 396.1 1182.2C396.3 1183.9 396.5 1185.5 396.6 1187.2C396.8 1188.8 397.0 1190.5 397.2 1192.1C397.3 1193.8 397.5 1195.5 397.7 1197.1C397.9 1198.8 398.1 1200.4 398.2 1202.1C398.4 1203.7 398.6 1205.4 398.8 1207.0C399.0 1208.7 399.1 1210.4 399.3 1212.0C399.5 1213.7 399.7 1215.3 399.9 1217.0C400.0 1218.6 400.2 1220.3 400.4 1222.0C400.6 1223.6 400.8 1225.3 401.0 1226.9C401.1 1228.6 401.3 1230.2 401.5 1231.9C401.7 1233.5 401.9 1235.2 402.1 1236.9C402.2 1238.5 402.4 1240.2 402.6 1241.8C402.8 1243.5 403.0 1245.1 403.2 1246.8C403.4 1248.5 403.5 1250.1 403.7 1251.8C403.9 1253.4 404.1 1255.1 404.3 1256.7C404.5 1258.4 404.7 1260.0 404.9 1261.7C405.0 1263.3 405.2 1265.0 405.4 1266.7C405.6 1268.3 405.8 1270.0 406.0 1271.6C406.2 1273.3 406.4 1274.9 406.6 1276.6C406.8 1278.2 407.0 1279.9 407.1 1281.5C407.3 1283.2 407.5 1284.9 407.7 1286.5C407.9 1288.2 408.1 1289.8 408.3 1291.5C408.5 1293.1 408.7 1294.8 408.9 1296.4C409.1 1298.1 409.3 1299.7 409.5 1301.4C409.7 1303.0 409.9 1304.7 410.1 1306.4C410.3 1308.0 410.5 1309.7 410.7 1311.3C410.9 1313.0 411.1 1314.6 411.3 1316.3C411.5 1317.9 411.7 1319.6 411.9 1321.2C412.1 1322.9 412.3 1324.5 412.5 1326.2C412.7 1327.8 412.9 1329.5 413.1 1331.1C413.3 1332.8 413.5 1334.5 413.7 1336.1C413.9 1337.8 414.1 1339.4 414.3 1341.1C414.5 1342.7 414.8 1344.4 415.0 1346.0C415.2 1347.7 415.4 1349.3 415.6 1351.0C415.8 1352.6 416.0 1354.3 416.3 1355.9C416.5 1357.6 416.7 1359.2 416.9 1360.9C417.2 1362.5 417.4 1364.2 417.6 1365.8C417.8 1367.5 418.1 1369.1 418.3 1370.8C418.5 1372.4 418.7 1374.1 419.0 1375.7C419.2 1377.4 419.4 1379.0 419.7 1380.7C419.9 1382.3 420.2 1384.0 420.4 1385.6C420.6 1387.3 420.9 1388.9 421.1 1390.6C421.4 1392.2 421.6 1393.9 421.9 1395.5C422.1 1397.2 422.4 1398.8 422.6 1400.5C422.9 1402.1 423.2 1403.8 423.4 1405.4C423.7 1407.1 423.9 1408.7 424.2 1410.4C424.5 1412.0 424.7 1413.7 425.0 1415.3C425.3 1417.0 425.6 1418.6 425.8 1420.3C426.1 1421.9 426.4 1423.6 426.7 1425.2C427.0 1426.9 427.2 1428.5 427.5 1430.2C427.8 1431.8 428.1 1433.4 428.4 1435.1C428.7 1436.7 429.0 1438.4 429.3 1440.0C429.6 1441.7 429.9 1443.3 430.2 1445.0C430.5 1446.6 430.9 1448.3 431.2 1449.9C431.5 1451.6 431.8 1453.2 432.1 1454.9C432.4 1456.5 432.8 1458.1 433.1 1459.8C433.4 1461.4 433.8 1463.1 434.1 1464.7C434.4 1466.4 434.8 1468.0 435.1 1469.7C435.5 1471.3 435.8 1473.0 436.2 1474.6C436.5 1476.2 436.9 1477.9 437.3 1479.5C437.6 1481.2 438.0 1482.8 438.4 1484.5C438.7 1486.1 439.1 1487.7 439.5 1489.4C439.9 1491.0 440.3 1492.7 440.6 1494.3C441.0 1495.9 441.4 1497.6 441.8 1499.2C442.2 1500.8 442.6 1502.5 443.1 1504.1C443.5 1505.7 443.9 1507.4 444.3 1509.0C444.7 1510.6 445.2 1512.2 445.6 1513.8C446.0 1515.5 446.5 1517.1 446.9 1518.7C447.4 1520.3 447.8 1521.9 448.3 1523.5C448.8 1525.1 449.2 1526.7 449.7 1528.3C450.2 1529.9 450.7 1531.5 451.1 1533.1C451.6 1534.7 452.1 1536.3 452.6 1537.9C453.1 1539.5 453.7 1541.1 454.2 1542.6C454.7 1544.2 455.2 1545.8 455.7 1547.3C456.3 1548.9 456.8 1550.5 457.4 1552.0C457.9 1553.6 458.5 1555.1 459.0 1556.7C459.6 1558.2 460.2 1559.8 460.8 1561.3C461.4 1562.8 462.0 1564.4 462.6 1565.9C463.2 1567.4 463.8 1568.9 464.4 1570.4C465.0 1571.9 465.7 1573.4 466.3 1574.9C467.0 1576.4 467.7 1577.9 468.4 1579.4C469.0 1580.9 469.7 1582.4 470.4 1583.8C471.2 1585.3 471.9 1586.8 472.6 1588.2C473.4 1589.7 474.1 1591.1 474.9 1592.6C475.7 1594.0 476.5 1595.4 477.3 1596.9C478.1 1598.3 479.0 1599.7 479.8 1601.1C480.7 1602.5 481.6 1603.9 482.5 1605.3C483.4 1606.7 484.3 1608.1 485.2 1609.4C486.2 1610.8 487.1 1612.2 488.1 1613.5C489.1 1614.9 490.1 1616.2 491.2 1617.6C492.2 1618.9 493.3 1620.2 494.3 1621.5C495.4 1622.8 496.5 1624.1 497.7 1625.4C498.8 1626.7 499.9 1628.0 501.1 1629.2C502.3 1630.4 503.5 1631.7 504.7 1632.9C505.9 1634.0 507.1 1635.2 508.4 1636.4C509.6 1637.5 510.9 1638.6 512.2 1639.7C513.4 1640.8 514.7 1641.9 516.1 1642.9C517.4 1644.0 518.7 1645.0 520.1 1645.9C521.4 1646.9 522.8 1647.8 524.2 1648.7C525.6 1649.6 527.0 1650.5 528.4 1651.3C529.8 1652.1 531.2 1652.9 532.7 1653.6C534.1 1654.4 535.5 1655.1 537.0 1655.7C538.5 1656.4 540.0 1657.0 541.4 1657.5C542.9 1658.1 544.4 1658.6 545.9 1659.2C547.5 1659.7 549.0 1660.1 550.5 1660.6C552.0 1661.1 553.6 1661.5 555.1 1661.9C556.7 1662.3 558.2 1662.8 559.8 1663.2C561.4 1663.6 563.0 1664.0 564.5 1664.4C566.1 1664.8 567.7 1665.2 569.3 1665.7C570.9 1666.1 572.5 1666.5 574.1 1667.0C575.7 1667.4 577.3 1667.9 579.0 1668.4C580.6 1668.9 582.2 1669.4 583.8 1670.0C585.4 1670.5 587.1 1671.0 588.7 1671.6C590.3 1672.1 592.0 1672.7 593.6 1673.2C595.3 1673.7 596.9 1674.3 598.5 1674.8C600.2 1675.4 601.8 1675.9 603.5 1676.4C605.1 1677.0 606.7 1677.5 608.4 1678.0C610.0 1678.5 611.7 1679.0 613.3 1679.4C615.0 1679.9 616.6 1680.4 618.2 1680.8C619.9 1681.3 621.5 1681.7 623.2 1682.2C624.8 1682.6 626.5 1683.0 628.1 1683.4C629.8 1683.8 631.4 1684.2 633.0 1684.6C634.7 1685.0 636.3 1685.4 638.0 1685.8C639.6 1686.1 641.3 1686.5 642.9 1686.8C644.5 1687.2 646.2 1687.5 647.8 1687.9C649.5 1688.2 651.1 1688.5 652.8 1688.8C654.4 1689.2 656.1 1689.5 657.7 1689.8C659.4 1690.1 661.0 1690.4 662.6 1690.6C664.3 1690.9 665.9 1691.2 667.6 1691.5C669.2 1691.8 670.9 1692.0 672.5 1692.3C674.2 1692.5 675.8 1692.8 677.5 1693.0C679.1 1693.3 680.7 1693.5 682.4 1693.8C684.0 1694.0 685.7 1694.2 687.3 1694.4C689.0 1694.7 690.6 1694.9 692.3 1695.1C693.9 1695.3 695.6 1695.5 697.2 1695.7C698.9 1695.9 700.5 1696.1 702.2 1696.3C703.8 1696.5 705.4 1696.7 707.1 1696.9C708.7 1697.1 710.4 1697.3 712.0 1697.5C713.7 1697.7 715.3 1697.9 717.0 1698.0C718.6 1698.2 720.3 1698.4 721.9 1698.6C723.6 1698.8 725.2 1698.9 726.9 1699.1C728.5 1699.3 730.2 1699.4 731.8 1699.6C733.5 1699.8 735.1 1700.0 736.8 1700.1C738.4 1700.3 740.1 1700.5 741.7 1700.6C743.4 1700.8 745.0 1701.0 746.7 1701.1C748.3 1701.3 750.0 1701.5 751.6 1701.6C753.3 1701.8 754.9 1702.0 756.6 1702.1C758.2 1702.3 759.9 1702.5 761.5 1702.7C763.2 1702.8 764.8 1703.0 766.5 1703.2C768.1 1703.3 769.8 1703.5 771.4 1703.7C773.1 1703.9 774.7 1704.0 776.4 1704.2C778.0 1704.4 779.7 1704.6 781.3 1704.7C783.0 1704.9 784.6 1705.1 786.3 1705.3C787.9 1705.4 789.6 1705.6 791.2 1705.8C792.9 1706.0 794.5 1706.1 796.2 1706.3C797.9 1706.5 799.5 1706.7 801.2 1706.8C802.8 1707.0 804.5 1707.2 806.1 1707.4C807.8 1707.5 809.4 1707.7 811.1 1707.9C812.7 1708.1 814.4 1708.3 816.0 1708.4C817.7 1708.6 819.4 1708.8 821.0 1708.9C822.7 1709.1 824.3 1709.3 826.0 1709.5C827.6 1709.6 829.3 1709.8 830.9 1710.0C832.6 1710.2 834.2 1710.3 835.9 1710.5C837.6 1710.7 839.2 1710.9 840.9 1711.0C842.5 1711.2 844.2 1711.4 845.8 1711.5C847.5 1711.7 849.2 1711.9 850.8 1712.0C852.5 1712.2 854.1 1712.4 855.8 1712.5C857.4 1712.7 859.1 1712.9 860.8 1713.0C862.4 1713.2 864.1 1713.4 865.7 1713.5C867.4 1713.7 869.0 1713.9 870.7 1714.0C872.4 1714.2 874.0 1714.4 875.7 1714.5C877.3 1714.7 879.0 1714.8 880.7 1715.0C882.3 1715.1 884.0 1715.3 885.6 1715.5C887.3 1715.6 888.9 1715.8 890.6 1715.9C892.3 1716.1 893.9 1716.2 895.6 1716.4C897.2 1716.5 898.9 1716.7 900.6 1716.8C902.2 1717.0 903.9 1717.1 905.6 1717.3C907.2 1717.4 908.9 1717.6 910.5 1717.7C912.2 1717.8 913.9 1718.0 915.5 1718.1C917.2 1718.3 918.8 1718.4 920.5 1718.5C922.2 1718.7 923.8 1718.8 925.5 1718.9C927.2 1719.1 928.8 1719.2 930.5 1719.3C932.1 1719.5 933.8 1719.6 935.5 1719.7C937.1 1719.9 938.8 1720.0 940.5 1720.1C942.1 1720.2 943.8 1720.4 945.4 1720.5C947.1 1720.6 948.8 1720.7 950.4 1720.9C952.1 1721.0 953.8 1721.1 955.4 1721.2C957.1 1721.3 958.8 1721.5 960.4 1721.6C962.1 1721.7 963.8 1721.8 965.4 1721.9C967.1 1722.1 968.7 1722.2 970.4 1722.3C972.1 1722.4 973.7 1722.5 975.4 1722.6C977.1 1722.7 978.7 1722.9 980.4 1723.0C982.1 1723.1 983.7 1723.2 985.4 1723.3C987.1 1723.4 988.7 1723.5 990.4 1723.6C992.1 1723.7 993.7 1723.9 995.4 1724.0C997.1 1724.1 998.7 1724.2 1000.4 1724.3C1002.0 1724.4 1003.7 1724.5 1005.4 1724.6C1007.0 1724.7 1008.7 1724.8 1010.4 1724.9C1012.0 1725.0 1013.7 1725.1 1015.4 1725.2C1017.0 1725.3 1018.7 1725.4 1020.4 1725.5C1022.0 1725.7 1023.7 1725.8 1025.4 1725.9C1027.0 1726.0 1028.7 1726.1 1030.4 1726.2C1032.0 1726.3 1033.7 1726.4 1035.4 1726.5C1037.0 1726.6 1038.7 1726.7 1040.4 1726.8C1042.0 1726.9 1043.7 1727.0 1045.4 1727.1C1047.0 1727.2 1048.7 1727.3 1050.4 1727.4C1052.0 1727.5 1053.7 1727.6 1055.4 1727.7C1057.0 1727.8 1058.7 1727.9 1060.4 1728.0C1062.0 1728.1 1063.7 1728.2 1065.3 1728.3C1067.0 1728.4 1068.7 1728.5 1070.3 1728.6C1072.0 1728.7 1073.7 1728.8 1075.3 1728.9C1077.0 1729.0 1078.7 1729.1 1080.3 1729.2C1082.0 1729.3 1083.7 1729.4 1085.3 1729.5C1087.0 1729.6 1088.7 1729.7 1090.3 1729.8C1092.0 1729.9 1093.7 1730.0 1095.3 1730.1C1097.0 1730.2 1098.6 1730.3 1100.3 1730.4C1102.0 1730.5 1103.6 1730.6 1105.3 1730.7C1107.0 1730.8 1108.6 1730.9 1110.3 1731.0C1112.0 1731.1 1113.6 1731.2 1115.3 1731.3C1116.9 1731.5 1118.6 1731.6 1120.3 1731.7C1121.9 1731.8 1123.6 1731.9 1125.3 1732.0C1126.9 1732.1 1128.6 1732.2 1130.3 1732.3C1131.9 1732.4 1133.6 1732.5 1135.2 1732.6C1136.9 1732.8 1138.6 1732.9 1140.2 1733.0C1141.9 1733.1 1143.5 1733.2 1145.2 1733.3C1146.9 1733.4 1148.5 1733.5 1150.2 1733.7C1151.9 1733.8 1153.5 1733.9 1155.2 1734.0C1156.8 1734.1 1158.5 1734.2 1160.2 1734.4C1161.8 1734.5 1163.5 1734.6 1165.1 1734.7C1166.8 1734.8 1168.5 1735.0 1170.1 1735.1C1171.8 1735.2 1173.4 1735.3 1175.1 1735.4C1176.8 1735.6 1178.4 1735.7 1180.1 1735.8C1181.7 1735.9 1183.4 1736.1 1185.0 1736.2C1186.7 1736.3 1188.4 1736.5 1190.0 1736.6C1191.7 1736.7 1193.3 1736.9 1195.0 1737.0C1196.6 1737.1 1198.3 1737.3 1200.0 1737.4C1201.6 1737.5 1204.2 1737.7 1205.0 1737.8" fill="none" stroke="#741b20" stroke-width="2.5" stroke-linejoin="round"/><path d="M147.5 326.2C150.3 326.2 160.9 327.0 164.1 326.2C167.3 325.4 165.5 321.7 166.8 321.3C168.2 320.9 170.4 324.2 172.2 324.0C174.0 323.8 175.5 320.1 177.5 320.3C179.5 320.5 182.5 326.6 184.0 325.1C185.5 323.6 185.4 312.6 186.6 311.1C187.8 309.6 189.0 315.4 190.9 316.0C192.8 316.6 195.8 315.0 198.0 314.9C200.2 314.8 202.6 314.4 204.3 315.4C206.0 316.4 207.3 318.8 208.1 320.8C208.9 322.8 208.5 328.7 209.2 327.2C209.9 325.7 211.2 314.5 212.4 311.7C213.6 308.9 214.8 310.2 216.1 310.1C217.3 310.0 218.5 310.6 219.9 311.1C221.3 311.6 222.8 312.5 224.5 313.3C226.2 314.1 228.1 314.2 230.1 315.7C232.1 317.2 234.1 321.3 236.5 322.1C238.9 322.9 242.3 320.2 244.6 320.5C246.9 320.8 248.6 323.8 250.2 323.7C251.8 323.6 252.6 318.4 254.2 319.7C255.8 321.0 258.3 330.2 259.8 331.7C261.3 333.2 261.4 327.4 263.0 328.5C264.6 329.6 267.8 337.3 269.5 338.2C271.2 339.1 272.0 332.6 273.5 334.1C275.0 335.6 276.8 345.1 278.3 347.0C279.8 348.9 280.7 343.9 282.3 345.4C283.9 346.9 286.0 353.3 287.9 355.8C289.8 358.3 291.8 360.2 293.5 360.6C295.2 361.0 296.6 357.9 298.3 358.2C300.1 358.5 302.2 360.0 304.0 362.2C305.8 364.4 306.8 370.1 308.8 371.1C310.8 372.2 313.9 367.9 316.0 368.5C318.1 369.1 319.6 372.0 321.4 374.9C323.2 377.8 325.4 383.1 326.8 385.6C328.2 388.1 328.2 389.4 330.0 389.9C331.8 390.4 335.7 388.1 337.5 388.8C339.3 389.5 339.4 392.1 340.7 394.2C341.9 396.3 343.8 399.7 345.0 401.7C346.2 403.7 347.1 404.1 348.2 406.0C349.3 407.9 350.1 411.4 351.4 413.4C352.6 415.3 354.4 416.1 355.7 417.7C356.9 419.3 357.8 420.2 358.9 423.1C360.0 426.0 360.9 431.1 362.1 434.8C363.4 438.5 365.0 442.3 366.4 445.5C367.8 448.7 369.4 451.4 370.6 454.1C371.8 456.9 372.7 458.0 373.8 462.0C374.9 466.0 375.9 473.9 377.0 478.0C378.1 482.1 378.5 482.7 380.1 486.7C381.7 490.7 384.6 497.1 386.8 502.1C389.0 507.1 391.2 512.1 393.4 516.8C395.6 521.5 397.9 526.3 400.1 530.2C402.3 534.1 404.6 536.9 406.8 540.2C409.0 543.6 411.3 546.9 413.5 550.3C415.7 553.6 418.0 557.0 420.2 560.3C422.4 563.6 424.7 566.9 426.9 570.3C429.1 573.6 431.4 577.0 433.6 580.4C435.8 583.8 438.3 587.1 440.3 590.4C442.3 593.7 444.0 596.9 445.6 600.0C447.2 603.1 448.4 605.8 450.0 609.1C451.6 612.4 453.6 616.8 455.4 619.8C457.2 622.8 458.9 624.2 460.7 626.8C462.5 629.4 464.3 632.4 466.1 635.3C467.9 638.2 469.6 641.7 471.4 644.4C473.2 647.1 475.0 649.1 476.8 651.4C478.6 653.7 480.3 655.8 482.1 658.3C483.9 660.8 485.7 664.1 487.5 666.3C489.3 668.5 491.0 669.7 492.8 671.7C494.6 673.7 496.0 676.4 498.2 678.1C500.4 679.8 503.5 680.5 506.2 681.9C508.9 683.3 511.5 685.2 514.2 686.7C516.9 688.2 520.3 689.8 522.2 691.0C524.1 692.2 524.5 692.9 525.9 693.7C527.2 694.6 528.9 695.5 530.5 696.3C532.0 697.1 533.6 697.9 535.1 698.7C536.7 699.5 538.2 700.3 539.8 701.1C541.3 701.8 542.9 702.6 544.5 703.3C546.0 704.0 547.6 704.7 549.1 705.4C550.7 706.1 552.2 706.8 553.8 707.5C555.4 708.2 556.9 708.8 558.5 709.5C560.1 710.1 561.6 710.7 563.2 711.4C564.8 712.0 566.3 712.6 567.9 713.2C569.5 713.8 571.0 714.4 572.6 714.9C574.2 715.5 575.8 716.1 577.3 716.6C578.9 717.1 580.5 717.7 582.1 718.2C583.7 718.7 585.2 719.3 586.8 719.8C588.4 720.3 590.0 720.8 591.6 721.2C593.2 721.7 594.7 722.2 596.3 722.7C597.9 723.2 599.5 723.6 601.1 724.1C602.7 724.5 604.3 725.0 605.9 725.4C607.4 725.9 609.0 726.3 610.6 726.7C612.2 727.2 613.8 727.6 615.4 728.0C617.0 728.4 618.6 728.8 620.2 729.2C621.8 729.6 623.4 730.0 625.0 730.4C626.6 730.8 628.2 731.2 629.8 731.6C631.4 732.0 633.0 732.4 634.6 732.8C636.2 733.2 637.8 733.5 639.4 733.9C641.1 734.3 642.7 734.7 644.3 735.0C645.9 735.4 647.5 735.8 649.1 736.1C650.7 736.5 652.3 736.8 653.9 737.2C655.6 737.5 657.2 737.9 658.8 738.2C660.4 738.6 662.0 738.9 663.6 739.3C665.3 739.6 666.9 740.0 668.5 740.3C670.1 740.7 671.7 741.0 673.4 741.3C675.0 741.7 676.6 742.0 678.2 742.4C679.8 742.7 681.5 743.0 683.1 743.4C684.7 743.7 686.3 744.0 688.0 744.4C689.6 744.7 691.2 745.0 692.9 745.4C694.5 745.7 696.1 746.0 697.7 746.4C699.4 746.7 701.0 747.0 702.6 747.4C704.3 747.7 705.9 748.0 707.5 748.4C709.2 748.7 710.8 749.1 712.4 749.4C714.1 749.7 715.7 750.1 717.3 750.4C719.0 750.7 720.6 751.1 722.3 751.4C723.9 751.8 725.5 752.1 727.2 752.5C728.8 752.8 730.5 753.2 732.1 753.5C733.7 753.9 735.4 754.2 737.0 754.6C738.7 754.9 740.3 755.3 741.9 755.7C743.6 756.0 745.2 756.4 746.9 756.7C748.5 757.1 750.2 757.4 751.8 757.8C753.5 758.2 755.1 758.5 756.8 758.9C758.4 759.2 760.1 759.6 761.7 760.0C763.3 760.3 765.0 760.7 766.6 761.0C768.3 761.4 769.9 761.7 771.6 762.1C773.2 762.5 774.9 762.8 776.6 763.2C778.2 763.5 779.9 763.9 781.5 764.2C783.2 764.6 784.8 764.9 786.5 765.3C788.1 765.6 789.8 766.0 791.4 766.3C793.1 766.7 794.7 767.0 796.4 767.4C798.0 767.7 799.7 768.0 801.4 768.4C803.0 768.7 804.7 769.0 806.3 769.4C808.0 769.7 809.6 770.0 811.3 770.4C813.0 770.7 814.6 771.0 816.3 771.3C817.9 771.6 819.6 771.9 821.3 772.3C822.9 772.6 824.6 772.9 826.2 773.2C827.9 773.5 829.5 773.8 831.2 774.1C832.9 774.4 834.5 774.6 836.2 774.9C837.9 775.2 839.5 775.5 841.2 775.8C842.8 776.0 844.5 776.3 846.2 776.6C847.8 776.8 849.5 777.1 851.1 777.4C852.8 777.6 854.5 777.8 856.1 778.1C857.8 778.3 859.5 778.6 861.1 778.8C862.8 779.0 864.4 779.3 866.1 779.5C867.8 779.7 869.4 779.9 871.1 780.1C872.8 780.4 874.4 780.6 876.1 780.8C877.7 781.0 879.4 781.2 881.1 781.4C882.7 781.6 884.4 781.8 886.1 782.0C887.7 782.1 889.4 782.3 891.1 782.5C892.7 782.7 894.4 782.9 896.0 783.1C897.7 783.2 899.4 783.4 901.0 783.6C902.7 783.8 904.4 783.9 906.0 784.1C907.7 784.3 909.4 784.4 911.0 784.6C912.7 784.8 914.4 784.9 916.0 785.1C917.7 785.2 919.3 785.4 921.0 785.6C922.7 785.7 924.3 785.9 926.0 786.0C927.7 786.2 929.3 786.3 931.0 786.5C932.6 786.6 934.3 786.8 936.0 786.9C937.6 787.1 939.3 787.2 941.0 787.4C942.6 787.5 944.3 787.7 945.9 787.8C947.6 788.0 949.3 788.1 950.9 788.3C952.6 788.4 954.3 788.6 955.9 788.8C957.6 788.9 959.2 789.1 960.9 789.2C962.6 789.4 964.2 789.5 965.9 789.7C967.5 789.8 969.2 790.0 970.9 790.1C972.5 790.3 974.2 790.4 975.8 790.6C977.5 790.8 979.2 790.9 980.8 791.1C982.5 791.3 984.1 791.4 985.8 791.6C987.4 791.7 989.1 791.9 990.8 792.1C992.4 792.3 994.1 792.4 995.7 792.6C997.4 792.8 999.0 793.0 1000.7 793.1C1002.3 793.3 1004.0 793.5 1005.7 793.7C1007.3 793.9 1009.0 794.0 1010.6 794.2C1012.3 794.4 1013.9 794.6 1015.6 794.8C1017.2 795.0 1018.9 795.2 1020.5 795.4C1022.2 795.6 1023.8 795.8 1025.5 796.0C1027.1 796.2 1028.8 796.4 1030.4 796.7C1032.1 796.9 1033.7 797.1 1035.4 797.3C1037.0 797.5 1038.7 797.8 1040.3 798.0C1042.0 798.2 1043.6 798.4 1045.3 798.7C1046.9 798.9 1048.6 799.2 1050.2 799.4C1051.8 799.6 1053.5 799.9 1055.1 800.1C1056.8 800.4 1058.4 800.6 1060.1 800.9C1061.7 801.2 1063.3 801.4 1065.0 801.7C1066.6 802.0 1068.3 802.3 1069.9 802.5C1071.5 802.8 1073.2 803.1 1074.8 803.4C1076.5 803.7 1078.1 804.0 1079.7 804.3C1081.4 804.6 1083.0 804.9 1084.6 805.2C1086.3 805.5 1087.9 805.8 1089.6 806.1C1091.2 806.4 1092.8 806.8 1094.4 807.1C1096.1 807.4 1097.7 807.8 1099.3 808.1C1101.0 808.5 1102.6 808.8 1104.2 809.2C1105.9 809.5 1107.5 809.9 1109.1 810.3C1110.7 810.6 1112.4 811.0 1114.0 811.4C1115.6 811.8 1117.2 812.1 1118.9 812.5C1120.5 812.9 1122.1 813.3 1123.7 813.7C1125.4 814.1 1127.0 814.5 1128.6 815.0C1130.2 815.4 1131.8 815.8 1133.5 816.2C1135.1 816.6 1136.7 817.1 1138.3 817.5C1139.9 818.0 1141.5 818.4 1143.2 818.9C1144.8 819.3 1146.4 819.8 1148.0 820.2C1149.6 820.7 1151.2 821.1 1152.8 821.6C1154.4 822.1 1156.0 822.6 1157.7 823.0C1159.3 823.5 1160.9 824.0 1162.5 824.5C1164.1 825.0 1165.7 825.5 1167.3 826.0C1168.9 826.5 1170.5 827.0 1172.1 827.5C1173.7 828.0 1175.3 828.5 1176.9 829.1C1178.5 829.6 1180.1 830.1 1181.7 830.6C1183.3 831.2 1184.9 831.7 1186.5 832.2C1188.1 832.8 1189.7 833.3 1191.3 833.8C1192.9 834.4 1194.5 834.9 1196.0 835.5C1197.6 836.0 1199.2 836.6 1200.8 837.2C1202.4 837.7 1204.0 838.3 1205.6 838.9C1207.2 839.4 1208.7 840.0 1210.3 840.6C1211.9 841.1 1213.5 841.7 1215.1 842.3C1216.6 842.9 1218.2 843.5 1219.8 844.1C1221.4 844.6 1223.0 845.2 1224.5 845.8C1226.1 846.4 1227.7 847.0 1229.2 847.6C1230.8 848.2 1232.4 848.8 1234.0 849.4C1235.5 850.0 1237.1 850.6 1238.7 851.3C1240.2 851.9 1241.8 852.5 1243.4 853.1C1244.9 853.7 1246.5 854.3 1248.1 854.9C1249.6 855.6 1251.2 856.2 1252.7 856.8C1254.3 857.4 1255.9 858.1 1257.4 858.7C1259.0 859.3 1260.5 860.0 1262.1 860.6C1263.7 861.2 1265.2 861.8 1266.8 862.5C1268.3 863.1 1269.9 863.8 1271.4 864.4C1273.0 865.0 1274.5 865.7 1276.1 866.3C1277.6 866.9 1279.2 867.6 1280.7 868.2C1282.3 868.9 1283.8 869.5 1285.4 870.2C1286.9 870.8 1288.5 871.4 1290.0 872.1C1291.6 872.7 1293.1 873.4 1294.7 874.0C1296.2 874.7 1297.8 875.3 1299.3 876.0C1300.9 876.6 1302.4 877.3 1304.0 877.9C1305.5 878.5 1307.1 879.2 1308.6 879.8C1310.2 880.5 1311.7 881.1 1313.2 881.8C1314.8 882.4 1316.3 883.1 1317.9 883.7C1319.4 884.4 1321.0 885.0 1322.5 885.6C1324.1 886.3 1325.6 886.9 1327.2 887.6C1328.7 888.2 1330.2 888.9 1331.8 889.5C1333.3 890.1 1334.9 890.8 1336.4 891.4C1338.0 892.1 1339.5 892.7 1341.1 893.3C1342.6 894.0 1344.1 894.6 1345.7 895.2C1347.2 895.9 1348.8 896.5 1350.3 897.1C1351.9 897.7 1353.4 898.4 1355.0 899.0C1356.5 899.6 1358.1 900.2 1359.6 900.9C1361.2 901.5 1362.7 902.1 1364.3 902.7C1365.8 903.3 1367.3 903.9 1368.9 904.6C1370.4 905.2 1372.0 905.8 1373.5 906.4C1375.1 907.0 1376.6 907.6 1378.2 908.2C1379.8 908.8 1381.3 909.4 1382.9 910.0C1384.4 910.6 1386.0 911.2 1387.5 911.8C1389.1 912.3 1390.6 912.9 1392.2 913.5C1393.7 914.1 1395.3 914.7 1396.9 915.2C1398.4 915.8 1400.0 916.4 1401.5 917.0C1403.1 917.5 1404.7 918.1 1406.2 918.6C1407.8 919.2 1409.3 919.8 1410.9 920.3C1412.5 920.9 1414.0 921.4 1415.6 922.0C1417.2 922.5 1418.7 923.0 1420.3 923.6C1421.9 924.1 1423.4 924.6 1425.0 925.2C1426.6 925.7 1428.1 926.2 1429.7 926.7C1431.3 927.2 1432.8 927.8 1434.4 928.3C1436.1 928.7 1438.8 929.3 1439.7 929.5" fill="none" stroke="#e29850" stroke-width="2.5" stroke-linejoin="round"/><path d="M147.5 569.1C148.5 570.1 151.3 573.8 153.4 575.1C155.5 576.4 157.9 576.6 160.1 577.1C162.3 577.6 164.6 577.4 166.8 578.4C169.0 579.4 171.2 582.0 173.4 583.1C175.6 584.2 177.3 584.3 180.1 585.1C182.9 585.9 186.8 587.1 190.2 587.8C193.5 588.5 196.3 588.8 200.2 589.1C204.1 589.4 210.8 588.7 213.6 589.8C216.4 590.9 215.2 594.0 216.9 595.8C218.6 597.6 221.9 600.2 223.6 600.5C225.3 600.8 225.7 597.3 227.0 597.8C228.3 598.2 230.2 600.9 231.6 603.2C233.0 605.5 234.4 609.2 235.7 611.5C237.0 613.8 237.9 617.6 239.4 617.1C240.9 616.6 242.9 608.5 244.6 608.3C246.3 608.0 247.9 613.4 249.7 615.6C251.5 617.8 253.8 618.7 255.6 621.5C257.4 624.3 258.7 630.0 260.8 632.5C262.9 635.0 265.8 634.4 268.1 636.2C270.4 638.1 272.4 643.4 274.7 643.6C277.0 643.9 280.1 637.1 282.1 637.7C284.1 638.3 284.5 644.1 286.5 647.3C288.5 650.5 291.4 654.0 293.9 656.8C296.3 659.6 298.8 662.1 301.2 664.2C303.6 666.3 306.2 667.6 308.6 669.3C311.1 671.0 313.9 673.0 315.9 674.5C317.9 676.0 319.2 676.2 320.4 678.2C321.6 680.2 321.8 684.5 323.3 686.3C324.8 688.1 327.4 688.1 329.2 689.2C331.0 690.3 332.8 691.7 334.3 692.9C335.8 694.1 336.6 695.0 338.0 696.6C339.4 698.2 341.1 699.3 342.4 702.5C343.7 705.7 344.7 711.4 346.0 716.0C347.3 720.6 348.7 726.0 350.0 730.0C351.3 734.0 352.5 737.3 354.0 740.0C355.5 742.7 357.3 742.5 359.2 746.1C361.1 749.7 363.2 755.9 365.3 761.5C367.4 767.1 369.4 774.8 371.5 779.9C373.6 785.0 375.6 788.0 377.6 792.1C379.6 796.2 381.6 800.3 383.7 804.4C385.8 808.5 387.8 813.0 389.9 816.6C391.9 820.2 394.0 822.7 396.0 825.8C398.0 828.9 400.1 832.4 402.1 835.0C404.1 837.6 406.1 839.2 408.2 841.2C410.2 843.2 412.4 845.8 414.4 847.3C416.4 848.8 416.8 848.8 420.0 850.1C423.2 851.5 428.9 854.0 433.4 855.4C437.9 856.8 443.6 858.0 446.8 858.8C450.0 859.6 450.7 859.9 452.4 860.4C454.1 860.9 455.5 861.5 457.0 862.0C458.5 862.6 460.0 863.1 461.6 863.7C463.1 864.2 464.6 864.8 466.1 865.4C467.7 866.0 469.2 866.5 470.7 867.1C472.2 867.7 473.7 868.3 475.3 868.9C476.8 869.5 478.3 870.2 479.8 870.8C481.3 871.4 482.8 872.0 484.4 872.6C485.9 873.3 487.4 873.9 488.9 874.6C490.4 875.2 491.9 875.8 493.4 876.5C494.9 877.1 496.5 877.8 498.0 878.5C499.5 879.1 501.0 879.8 502.5 880.5C504.0 881.1 505.5 881.8 507.0 882.5C508.5 883.2 510.0 883.9 511.5 884.6C513.0 885.3 514.5 885.9 516.0 886.6C517.5 887.3 519.0 888.0 520.5 888.8C522.0 889.5 523.5 890.2 525.0 890.9C526.5 891.6 528.0 892.3 529.5 893.0C531.0 893.7 532.5 894.5 534.0 895.2C535.5 895.9 537.0 896.6 538.5 897.3C540.0 898.1 541.5 898.8 543.0 899.5C544.5 900.3 546.0 901.0 547.5 901.7C549.0 902.5 550.5 903.2 552.0 903.9C553.5 904.7 555.0 905.4 556.5 906.2C558.0 906.9 559.5 907.6 561.0 908.4C562.5 909.1 564.0 909.9 565.5 910.6C567.0 911.4 568.5 912.1 569.9 912.9C571.4 913.6 572.9 914.4 574.4 915.1C575.9 915.9 577.4 916.6 578.9 917.4C580.4 918.1 581.9 918.9 583.4 919.6C584.9 920.4 586.4 921.1 587.9 921.9C589.4 922.7 590.9 923.4 592.4 924.2C593.9 924.9 595.3 925.7 596.8 926.5C598.3 927.2 599.8 928.0 601.3 928.7C602.8 929.5 604.3 930.3 605.8 931.0C607.3 931.8 608.8 932.5 610.3 933.3C611.8 934.1 613.3 934.8 614.8 935.6C616.3 936.3 617.8 937.1 619.3 937.9C620.8 938.6 622.3 939.4 623.8 940.2C625.3 940.9 626.8 941.7 628.3 942.4C629.8 943.2 631.3 944.0 632.8 944.7C634.2 945.5 635.7 946.2 637.2 947.0C638.7 947.7 640.3 948.5 641.8 949.3C643.3 950.0 644.8 950.8 646.3 951.5C647.8 952.3 649.3 953.0 650.8 953.8C652.3 954.5 653.8 955.3 655.3 956.1C656.8 956.8 658.3 957.6 659.8 958.3C661.3 959.0 662.8 959.8 664.3 960.5C665.8 961.3 667.3 962.0 668.8 962.8C670.4 963.5 671.9 964.3 673.4 965.0C674.9 965.7 676.4 966.5 677.9 967.2C679.4 967.9 680.9 968.7 682.5 969.4C684.0 970.1 685.5 970.9 687.0 971.6C688.5 972.3 690.0 973.0 691.6 973.8C693.1 974.5 694.6 975.2 696.1 975.9C697.6 976.6 699.2 977.4 700.7 978.1C702.2 978.8 703.7 979.5 705.3 980.2C706.8 980.9 708.3 981.6 709.8 982.3C711.4 983.0 712.9 983.7 714.4 984.4C716.0 985.1 717.5 985.7 719.0 986.4C720.6 987.1 722.1 987.8 723.6 988.4C725.2 989.1 726.7 989.8 728.2 990.4C729.8 991.1 731.3 991.7 732.9 992.4C734.4 993.0 735.9 993.7 737.5 994.3C739.0 994.9 740.6 995.6 742.1 996.2C743.7 996.8 745.2 997.4 746.8 998.0C748.3 998.6 749.9 999.2 751.4 999.8C753.0 1000.4 754.5 1001.0 756.1 1001.6C757.6 1002.2 759.2 1002.7 760.8 1003.3C762.3 1003.9 763.9 1004.4 765.4 1005.0C767.0 1005.5 768.6 1006.1 770.1 1006.6C771.7 1007.1 773.3 1007.7 774.8 1008.2C776.4 1008.7 778.0 1009.2 779.6 1009.7C781.1 1010.2 782.7 1010.7 784.3 1011.2C785.9 1011.7 787.4 1012.2 789.0 1012.6C790.6 1013.1 792.2 1013.6 793.8 1014.0C795.4 1014.5 796.9 1014.9 798.5 1015.4C800.1 1015.8 801.7 1016.3 803.3 1016.7C804.9 1017.1 806.5 1017.5 808.1 1018.0C809.7 1018.4 811.3 1018.8 812.9 1019.2C814.5 1019.6 816.1 1020.0 817.7 1020.4C819.3 1020.7 820.9 1021.1 822.5 1021.5C824.1 1021.9 825.7 1022.3 827.3 1022.6C828.9 1023.0 830.5 1023.3 832.1 1023.7C833.8 1024.0 835.4 1024.4 837.0 1024.7C838.6 1025.1 840.2 1025.4 841.8 1025.7C843.5 1026.1 845.1 1026.4 846.7 1026.7C848.3 1027.0 849.9 1027.3 851.6 1027.7C853.2 1028.0 854.8 1028.3 856.4 1028.6C858.1 1028.9 859.7 1029.2 861.3 1029.5C863.0 1029.8 864.6 1030.0 866.2 1030.3C867.8 1030.6 869.5 1030.9 871.1 1031.2C872.7 1031.4 874.4 1031.7 876.0 1032.0C877.7 1032.2 879.3 1032.5 880.9 1032.8C882.6 1033.0 884.2 1033.3 885.9 1033.5C887.5 1033.8 889.1 1034.1 890.8 1034.3C892.4 1034.6 894.1 1034.8 895.7 1035.0C897.4 1035.3 899.0 1035.5 900.7 1035.8C902.3 1036.0 904.0 1036.2 905.6 1036.5C907.3 1036.7 908.9 1036.9 910.6 1037.2C912.2 1037.4 913.9 1037.6 915.5 1037.8C917.2 1038.0 918.8 1038.3 920.5 1038.5C922.1 1038.7 923.8 1038.9 925.4 1039.1C927.1 1039.3 928.8 1039.6 930.4 1039.8C932.1 1040.0 933.7 1040.2 935.4 1040.4C937.0 1040.6 938.7 1040.8 940.4 1041.0C942.0 1041.2 943.7 1041.4 945.4 1041.6C947.0 1041.8 948.7 1042.0 950.3 1042.2C952.0 1042.4 953.7 1042.6 955.3 1042.8C957.0 1043.0 958.7 1043.1 960.3 1043.3C962.0 1043.5 963.7 1043.7 965.3 1043.9C967.0 1044.1 968.7 1044.3 970.3 1044.5C972.0 1044.6 973.7 1044.8 975.3 1045.0C977.0 1045.2 978.7 1045.4 980.3 1045.5C982.0 1045.7 983.7 1045.9 985.3 1046.1C987.0 1046.3 988.7 1046.4 990.3 1046.6C992.0 1046.8 993.7 1047.0 995.4 1047.1C997.0 1047.3 998.7 1047.5 1000.4 1047.7C1002.0 1047.9 1003.7 1048.0 1005.4 1048.2C1007.1 1048.4 1008.7 1048.6 1010.4 1048.7C1012.1 1048.9 1013.7 1049.1 1015.4 1049.2C1017.1 1049.4 1018.8 1049.6 1020.4 1049.8C1022.1 1049.9 1023.8 1050.1 1025.4 1050.3C1027.1 1050.5 1028.8 1050.6 1030.5 1050.8C1032.1 1051.0 1033.8 1051.2 1035.5 1051.3C1037.1 1051.5 1038.8 1051.7 1040.5 1051.9C1042.2 1052.0 1043.8 1052.2 1045.5 1052.4C1047.2 1052.6 1048.8 1052.8 1050.5 1052.9C1052.2 1053.1 1053.8 1053.3 1055.5 1053.5C1057.2 1053.7 1058.9 1053.8 1060.5 1054.0C1062.2 1054.2 1063.9 1054.4 1065.5 1054.6C1067.2 1054.8 1068.9 1055.0 1070.5 1055.1C1072.2 1055.3 1073.9 1055.5 1075.5 1055.7C1077.2 1055.9 1078.9 1056.1 1080.5 1056.3C1082.2 1056.5 1083.9 1056.7 1085.5 1056.9C1087.2 1057.1 1088.9 1057.3 1090.5 1057.5C1092.2 1057.7 1093.9 1057.8 1095.5 1058.1C1097.2 1058.3 1098.8 1058.5 1100.5 1058.7C1102.2 1058.9 1103.8 1059.1 1105.5 1059.3C1107.2 1059.5 1108.8 1059.7 1110.5 1059.9C1112.1 1060.1 1113.8 1060.3 1115.5 1060.5C1117.1 1060.7 1118.8 1060.9 1120.4 1061.1C1122.1 1061.3 1123.8 1061.5 1125.4 1061.8C1127.1 1062.0 1128.7 1062.2 1130.4 1062.4C1132.1 1062.6 1133.7 1062.8 1135.4 1063.0C1137.0 1063.2 1138.7 1063.5 1140.4 1063.7C1142.0 1063.9 1143.7 1064.1 1145.3 1064.3C1147.0 1064.5 1148.6 1064.7 1150.3 1065.0C1152.0 1065.2 1153.6 1065.4 1155.3 1065.6C1156.9 1065.8 1158.6 1066.0 1160.2 1066.3C1161.9 1066.5 1163.5 1066.7 1165.2 1066.9C1166.9 1067.1 1168.5 1067.3 1170.2 1067.6C1171.8 1067.8 1173.5 1068.0 1175.1 1068.2C1176.8 1068.4 1178.4 1068.6 1180.1 1068.8C1181.8 1069.1 1183.4 1069.3 1185.1 1069.5C1186.7 1069.7 1188.4 1069.9 1190.0 1070.1C1191.7 1070.3 1193.3 1070.6 1195.0 1070.8C1196.6 1071.0 1198.3 1071.2 1199.9 1071.4C1201.6 1071.6 1203.3 1071.8 1204.9 1072.0C1206.6 1072.3 1208.2 1072.5 1209.9 1072.7C1211.5 1072.9 1213.2 1073.1 1214.8 1073.3C1216.5 1073.5 1218.1 1073.7 1219.8 1073.9C1221.4 1074.1 1223.1 1074.3 1224.7 1074.5C1226.4 1074.7 1228.1 1074.9 1229.7 1075.1C1231.4 1075.3 1233.0 1075.6 1234.7 1075.8C1236.3 1076.0 1238.0 1076.2 1239.6 1076.3C1241.3 1076.5 1242.9 1076.7 1244.6 1076.9C1246.2 1077.1 1247.9 1077.3 1249.5 1077.5C1251.2 1077.7 1252.9 1077.9 1254.5 1078.1C1256.2 1078.3 1257.8 1078.5 1259.5 1078.7C1261.1 1078.8 1262.8 1079.0 1264.4 1079.2C1266.1 1079.4 1267.7 1079.6 1269.4 1079.8C1271.0 1080.0 1272.7 1080.1 1274.3 1080.3C1276.0 1080.5 1277.7 1080.7 1279.3 1080.9C1281.0 1081.0 1282.6 1081.2 1284.3 1081.4C1285.9 1081.6 1287.6 1081.7 1289.2 1081.9C1290.9 1082.1 1292.6 1082.2 1294.2 1082.4C1295.9 1082.6 1297.5 1082.8 1299.2 1082.9C1300.8 1083.1 1302.5 1083.3 1304.1 1083.4C1305.8 1083.6 1307.5 1083.7 1309.1 1083.9C1310.8 1084.1 1312.4 1084.2 1314.1 1084.4C1315.7 1084.6 1317.4 1084.7 1319.1 1084.9C1320.7 1085.0 1322.4 1085.2 1324.0 1085.3C1325.7 1085.5 1327.3 1085.6 1329.0 1085.8C1330.7 1085.9 1332.3 1086.1 1334.0 1086.2C1335.6 1086.4 1337.3 1086.5 1339.0 1086.7C1340.6 1086.8 1342.3 1087.0 1343.9 1087.1C1345.6 1087.2 1347.3 1087.4 1348.9 1087.5C1350.6 1087.7 1352.2 1087.8 1353.9 1087.9C1355.6 1088.1 1357.2 1088.2 1358.9 1088.4C1360.6 1088.5 1362.2 1088.6 1363.9 1088.7C1365.5 1088.9 1367.2 1089.0 1368.9 1089.1C1370.5 1089.3 1372.2 1089.4 1373.9 1089.5C1375.5 1089.6 1377.2 1089.8 1378.9 1089.9C1380.5 1090.0 1382.2 1090.1 1383.9 1090.3C1385.5 1090.4 1387.2 1090.5 1388.9 1090.6C1390.5 1090.7 1392.2 1090.8 1393.9 1090.9C1395.5 1091.1 1397.2 1091.2 1398.9 1091.3C1400.5 1091.4 1402.2 1091.5 1403.9 1091.6C1405.6 1091.7 1407.2 1091.8 1408.9 1091.9C1410.6 1092.0 1412.2 1092.1 1413.9 1092.2C1415.6 1092.3 1417.3 1092.4 1418.9 1092.5C1420.6 1092.6 1422.3 1092.7 1424.0 1092.8C1425.6 1092.9 1427.3 1093.0 1429.0 1093.1C1430.7 1093.2 1432.3 1093.3 1434.0 1093.4C1435.7 1093.5 1438.2 1093.7 1439.0 1093.8" fill="none" stroke="#b0b652" stroke-width="2.5" stroke-linejoin="round"/><path d="M147.5 364.0C149.0 364.7 154.3 366.8 156.7 368.1C159.1 369.5 159.5 371.3 162.1 372.1C164.7 372.9 169.6 371.8 172.1 372.7C174.6 373.6 175.2 375.9 176.8 377.4C178.4 378.8 179.8 379.9 181.5 381.4C183.2 382.8 185.0 385.1 186.8 386.1C188.6 387.1 190.2 386.2 192.2 387.5C194.2 388.8 197.0 393.4 198.9 394.1C200.8 394.8 202.1 391.5 203.5 391.5C204.9 391.5 206.5 392.7 207.6 394.1C208.7 395.6 209.2 398.3 210.2 400.2C211.2 402.1 211.9 404.2 213.6 405.5C215.3 406.8 218.5 406.9 220.3 408.2C222.1 409.5 223.2 411.6 224.3 413.5C225.4 415.4 225.8 417.9 227.0 419.6C228.2 421.3 229.8 422.5 231.6 423.6C233.4 424.8 236.2 425.8 238.0 426.5C239.8 427.2 241.1 425.8 242.1 428.1C243.1 430.4 243.1 437.7 244.1 440.1C245.1 442.6 246.2 442.0 248.1 442.8C250.0 443.6 253.7 443.2 255.5 444.8C257.3 446.4 257.5 450.8 258.8 452.2C260.1 453.6 261.9 452.1 263.5 453.5C265.1 454.9 266.5 459.1 268.2 460.9C269.9 462.7 271.7 463.8 273.5 464.2C275.3 464.6 277.2 463.2 278.9 463.5C280.6 463.8 281.6 465.2 283.5 466.2C285.4 467.2 288.0 468.3 290.2 469.6C292.4 470.9 294.7 472.4 296.9 474.2C299.1 476.0 301.4 478.2 303.6 480.3C305.8 482.4 308.3 484.6 310.3 487.0C312.3 489.4 313.2 493.4 315.5 495.0C317.8 496.6 321.3 496.7 324.1 496.4C326.9 496.1 329.7 491.9 332.2 493.0C334.7 494.1 336.4 500.8 338.9 503.1C341.3 505.5 343.3 505.0 346.9 507.1C350.5 509.2 357.0 514.5 360.3 515.5C363.6 516.5 364.9 514.0 366.7 512.8C368.5 511.6 369.7 508.0 371.4 508.1C373.1 508.2 375.2 510.4 376.7 513.5C378.1 516.6 379.2 523.6 380.1 526.9C381.0 530.2 380.1 531.6 382.1 533.5C384.1 535.4 389.5 536.2 392.1 538.2C394.7 540.2 395.1 544.0 397.5 545.6C399.9 547.2 403.9 546.5 406.8 547.6C409.7 548.7 412.6 550.8 414.8 552.3C417.0 553.8 417.6 555.1 420.2 556.3C422.8 557.5 427.4 558.4 430.2 559.6C433.0 560.8 434.7 562.0 436.9 563.6C439.1 565.2 441.4 567.6 443.6 569.0C445.8 570.4 447.3 569.8 450.3 571.7C453.3 573.7 457.8 578.0 461.4 580.7C465.0 583.5 468.2 585.4 472.1 588.2C476.0 591.1 481.1 594.2 485.0 597.8C488.9 601.4 492.5 606.0 495.7 609.6C498.9 613.2 501.0 615.8 504.2 619.2C507.4 622.6 511.3 626.0 514.9 629.9C518.5 633.8 523.3 639.8 525.6 642.7C527.9 645.6 527.5 647.3 528.8 647.5C530.1 647.7 531.5 643.8 533.3 643.9C535.1 644.0 538.4 646.0 539.8 648.0C541.1 650.0 540.3 652.8 541.4 656.1C542.5 659.4 544.5 664.2 546.3 667.6C548.1 671.0 550.0 673.6 552.1 676.6C554.2 679.6 556.4 682.5 558.6 685.6C560.8 688.7 563.5 693.0 565.1 695.4C566.7 697.8 567.1 698.4 568.0 699.8C568.9 701.3 569.7 702.7 570.6 704.1C571.5 705.5 572.4 706.9 573.2 708.3C574.1 709.7 575.0 711.2 575.8 712.6C576.7 714.0 577.6 715.4 578.4 716.8C579.3 718.3 580.2 719.7 581.1 721.1C581.9 722.5 582.8 723.9 583.7 725.4C584.5 726.8 585.4 728.2 586.3 729.6C587.2 731.1 588.0 732.5 588.9 733.9C589.8 735.3 590.6 736.8 591.5 738.2C592.4 739.6 593.2 741.1 594.1 742.5C595.0 743.9 595.8 745.4 596.7 746.8C597.6 748.2 598.4 749.7 599.3 751.1C600.2 752.5 601.0 754.0 601.9 755.4C602.8 756.8 603.6 758.3 604.5 759.7C605.4 761.1 606.2 762.6 607.1 764.0C608.0 765.5 608.8 766.9 609.7 768.3C610.5 769.8 611.4 771.2 612.3 772.7C613.1 774.1 614.0 775.5 614.8 777.0C615.7 778.4 616.5 779.9 617.4 781.3C618.3 782.8 619.1 784.2 620.0 785.7C620.8 787.1 621.7 788.6 622.5 790.0C623.4 791.5 624.2 792.9 625.1 794.4C625.9 795.8 626.8 797.3 627.6 798.7C628.5 800.2 629.3 801.6 630.2 803.1C631.0 804.6 631.9 806.0 632.7 807.5C633.6 808.9 634.4 810.4 635.2 811.9C636.1 813.3 636.9 814.8 637.8 816.2C638.6 817.7 639.4 819.2 640.3 820.6C641.1 822.1 641.9 823.6 642.8 825.0C643.6 826.5 644.4 827.9 645.3 829.4C646.1 830.9 646.9 832.4 647.7 833.8C648.6 835.3 649.4 836.8 650.2 838.2C651.0 839.7 651.9 841.2 652.7 842.7C653.5 844.1 654.3 845.6 655.1 847.1C656.0 848.6 656.8 850.0 657.6 851.5C658.4 853.0 659.2 854.5 660.0 855.9C660.8 857.4 661.6 858.9 662.4 860.4C663.3 861.9 664.1 863.3 664.9 864.8C665.7 866.3 666.5 867.8 667.3 869.3C668.1 870.8 668.9 872.3 669.7 873.7C670.4 875.2 671.2 876.7 672.0 878.2C672.8 879.7 673.6 881.2 674.4 882.7C675.2 884.2 676.0 885.7 676.7 887.2C677.5 888.7 678.3 890.2 679.1 891.6C679.9 893.1 680.6 894.6 681.4 896.1C682.2 897.6 682.9 899.1 683.7 900.6C684.5 902.1 685.2 903.6 686.0 905.1C686.8 906.6 687.5 908.1 688.3 909.6C689.1 911.2 689.8 912.7 690.6 914.2C691.3 915.7 692.1 917.2 692.8 918.7C693.6 920.2 694.3 921.7 695.1 923.2C695.8 924.7 696.5 926.2 697.3 927.7C698.0 929.3 698.8 930.8 699.5 932.3C700.2 933.8 701.0 935.3 701.7 936.8C702.4 938.3 703.2 939.8 703.9 941.4C704.6 942.9 705.4 944.4 706.1 945.9C706.8 947.4 707.6 948.9 708.3 950.5C709.0 952.0 709.7 953.5 710.5 955.0C711.2 956.5 711.9 958.0 712.6 959.6C713.4 961.1 714.1 962.6 714.8 964.1C715.5 965.6 716.3 967.1 717.0 968.7C717.7 970.2 718.4 971.7 719.2 973.2C719.9 974.7 720.6 976.2 721.3 977.8C722.0 979.3 722.8 980.8 723.5 982.3C724.2 983.8 724.9 985.3 725.7 986.8C726.4 988.4 727.1 989.9 727.8 991.4C728.6 992.9 729.3 994.4 730.0 995.9C730.7 997.4 731.5 999.0 732.2 1000.5C732.9 1002.0 733.6 1003.5 734.4 1005.0C735.1 1006.5 735.8 1008.0 736.6 1009.5C737.3 1011.0 738.0 1012.5 738.8 1014.1C739.5 1015.6 740.2 1017.1 741.0 1018.6C741.7 1020.1 742.4 1021.6 743.2 1023.1C743.9 1024.6 744.7 1026.1 745.4 1027.6C746.2 1029.1 746.9 1030.6 747.7 1032.1C748.4 1033.6 749.2 1035.1 749.9 1036.6C750.7 1038.1 751.4 1039.6 752.2 1041.1C752.9 1042.5 753.7 1044.0 754.4 1045.5C755.2 1047.0 756.0 1048.5 756.7 1050.0C757.5 1051.5 758.3 1053.0 759.1 1054.4C759.8 1055.9 760.6 1057.4 761.4 1058.9C762.2 1060.4 763.0 1061.8 763.7 1063.3C764.5 1064.8 765.3 1066.3 766.1 1067.7C766.9 1069.2 767.7 1070.7 768.5 1072.2C769.3 1073.6 770.1 1075.1 770.9 1076.5C771.7 1078.0 772.5 1079.5 773.3 1080.9C774.2 1082.4 775.0 1083.9 775.8 1085.3C776.6 1086.8 777.4 1088.2 778.3 1089.7C779.1 1091.1 779.9 1092.6 780.8 1094.0C781.6 1095.5 782.5 1096.9 783.3 1098.3C784.2 1099.8 785.0 1101.2 785.9 1102.6C786.7 1104.1 787.6 1105.5 788.5 1106.9C789.3 1108.4 790.2 1109.8 791.1 1111.2C792.0 1112.6 792.9 1114.1 793.7 1115.5C794.6 1116.9 795.5 1118.3 796.4 1119.7C797.3 1121.1 798.2 1122.6 799.1 1124.0C800.1 1125.4 801.0 1126.8 801.9 1128.2C802.8 1129.6 803.7 1131.0 804.7 1132.4C805.6 1133.8 806.6 1135.1 807.5 1136.5C808.4 1137.9 809.4 1139.3 810.4 1140.7C811.3 1142.1 812.3 1143.4 813.3 1144.8C814.2 1146.2 815.2 1147.6 816.2 1148.9C817.2 1150.3 818.2 1151.6 819.2 1153.0C820.2 1154.4 821.2 1155.7 822.2 1157.1C823.2 1158.4 824.2 1159.8 825.2 1161.1C826.3 1162.5 827.3 1163.8 828.3 1165.1C829.4 1166.5 830.4 1167.8 831.5 1169.1C832.5 1170.5 833.6 1171.8 834.7 1173.1C835.7 1174.4 836.8 1175.7 837.9 1177.0C839.0 1178.4 840.1 1179.7 841.2 1181.0C842.3 1182.3 843.4 1183.6 844.5 1184.9C845.6 1186.2 846.6 1187.6 847.9 1188.7C849.1 1189.8 850.4 1190.0 852.0 1191.5C853.6 1193.0 855.8 1196.5 857.6 1198.0C859.4 1199.5 861.1 1200.0 862.7 1200.5C864.3 1201.0 864.6 1199.9 867.0 1201.0C869.4 1202.1 874.8 1205.7 877.1 1207.1C879.4 1208.5 879.3 1208.7 880.7 1209.5C882.1 1210.3 883.8 1211.2 885.4 1212.0C887.0 1212.8 888.6 1213.6 890.2 1214.3C891.8 1215.1 893.4 1215.8 895.0 1216.5C896.6 1217.2 898.2 1217.8 899.8 1218.5C901.4 1219.1 903.0 1219.7 904.6 1220.3C906.2 1220.9 907.8 1221.4 909.4 1222.0C911.0 1222.5 912.6 1223.0 914.3 1223.5C915.9 1224.0 917.5 1224.4 919.1 1224.9C920.7 1225.3 922.3 1225.7 924.0 1226.1C925.6 1226.5 927.2 1226.9 928.8 1227.2C930.5 1227.6 932.1 1227.9 933.7 1228.2C935.3 1228.5 937.0 1228.8 938.6 1229.1C940.2 1229.3 941.9 1229.6 943.5 1229.9C945.1 1230.1 946.8 1230.3 948.4 1230.6C950.0 1230.8 951.6 1231.0 953.3 1231.2C954.9 1231.4 956.5 1231.6 958.2 1231.8C959.8 1232.0 961.5 1232.2 963.1 1232.4C964.7 1232.6 966.4 1232.8 968.0 1233.0C969.6 1233.2 971.3 1233.4 972.9 1233.6C974.5 1233.8 976.2 1234.0 977.8 1234.3C979.4 1234.5 981.0 1234.7 982.7 1235.0C984.3 1235.2 985.9 1235.4 987.6 1235.7C989.2 1235.9 990.8 1236.2 992.5 1236.5C994.1 1236.8 995.7 1237.0 997.3 1237.3C999.0 1237.6 1000.6 1237.9 1002.2 1238.2C1003.8 1238.5 1005.4 1238.9 1007.1 1239.2C1008.7 1239.5 1010.3 1239.9 1011.9 1240.2C1013.5 1240.5 1015.2 1240.9 1016.8 1241.3C1018.4 1241.6 1020.0 1242.0 1021.6 1242.4C1023.2 1242.8 1024.9 1243.1 1026.5 1243.5C1028.1 1243.9 1029.7 1244.3 1031.3 1244.8C1032.9 1245.2 1034.5 1245.6 1036.1 1246.0C1037.7 1246.4 1039.3 1246.9 1040.9 1247.3C1042.5 1247.8 1044.1 1248.2 1045.7 1248.7C1047.3 1249.1 1048.9 1249.6 1050.5 1250.1C1052.1 1250.6 1053.7 1251.1 1055.3 1251.5C1056.9 1252.0 1058.5 1252.5 1060.1 1253.1C1061.7 1253.6 1063.2 1254.1 1064.8 1254.6C1066.4 1255.1 1068.0 1255.7 1069.6 1256.2C1071.2 1256.7 1072.7 1257.3 1074.3 1257.8C1075.9 1258.4 1077.5 1258.9 1079.0 1259.5C1080.6 1260.1 1082.2 1260.6 1083.7 1261.2C1085.3 1261.8 1086.9 1262.4 1088.4 1263.0C1090.0 1263.6 1091.6 1264.2 1093.1 1264.8C1094.7 1265.4 1096.2 1266.0 1097.8 1266.6C1099.4 1267.3 1100.9 1267.9 1102.5 1268.5C1104.0 1269.2 1105.5 1269.8 1107.1 1270.5C1108.6 1271.1 1110.2 1271.8 1111.7 1272.4C1113.3 1273.1 1114.8 1273.8 1116.3 1274.4C1117.9 1275.1 1119.4 1275.8 1120.9 1276.5C1122.4 1277.2 1124.0 1277.9 1125.5 1278.6C1127.0 1279.3 1128.5 1280.0 1130.1 1280.7C1131.6 1281.4 1133.1 1282.1 1134.6 1282.8C1136.1 1283.6 1137.6 1284.3 1139.1 1285.0C1140.6 1285.8 1142.1 1286.5 1143.6 1287.3C1145.1 1288.0 1146.6 1288.8 1148.1 1289.5C1149.6 1290.3 1151.1 1291.0 1152.6 1291.8C1154.1 1292.6 1155.6 1293.3 1157.0 1294.1C1158.5 1294.9 1160.0 1295.7 1161.5 1296.5C1163.0 1297.3 1164.4 1298.1 1165.9 1298.8C1167.4 1299.6 1168.8 1300.4 1170.3 1301.3C1171.8 1302.1 1173.2 1302.9 1174.7 1303.7C1176.2 1304.5 1177.6 1305.3 1179.1 1306.1C1180.5 1307.0 1182.0 1307.8 1183.5 1308.6C1184.9 1309.4 1186.4 1310.3 1187.8 1311.1C1189.3 1311.9 1190.7 1312.8 1192.2 1313.6C1193.6 1314.5 1195.0 1315.3 1196.5 1316.2C1197.9 1317.0 1199.4 1317.8 1200.8 1318.7C1202.3 1319.6 1203.7 1320.4 1205.1 1321.3C1206.6 1322.1 1208.0 1323.0 1209.4 1323.8C1210.9 1324.7 1212.3 1325.6 1213.7 1326.4C1215.2 1327.3 1216.6 1328.2 1218.0 1329.0C1219.5 1329.9 1220.9 1330.8 1222.3 1331.6C1223.8 1332.5 1225.2 1333.4 1226.6 1334.2C1228.0 1335.1 1229.5 1336.0 1230.9 1336.9C1232.3 1337.7 1233.7 1338.6 1235.2 1339.5C1236.6 1340.4 1238.0 1341.2 1239.4 1342.1C1240.9 1343.0 1242.3 1343.9 1243.7 1344.8C1245.1 1345.6 1246.6 1346.5 1248.0 1347.4C1249.4 1348.3 1250.8 1349.1 1252.2 1350.0C1253.7 1350.9 1255.1 1351.8 1256.5 1352.6C1257.9 1353.5 1259.3 1354.4 1260.8 1355.3C1262.2 1356.1 1263.6 1357.0 1265.0 1357.9C1266.5 1358.7 1267.9 1359.6 1269.3 1360.5C1270.7 1361.3 1272.1 1362.2 1273.6 1363.1C1275.0 1363.9 1276.4 1364.8 1277.8 1365.7C1279.3 1366.5 1280.7 1367.4 1282.1 1368.2C1283.5 1369.1 1285.0 1370.0 1286.4 1370.8C1287.8 1371.7 1289.3 1372.5 1290.7 1373.4C1292.1 1374.2 1293.5 1375.1 1295.0 1375.9C1296.4 1376.7 1297.8 1377.6 1299.3 1378.4C1300.7 1379.3 1302.1 1380.1 1303.6 1380.9C1305.0 1381.7 1306.4 1382.6 1307.9 1383.4C1309.3 1384.2 1310.8 1385.0 1312.2 1385.9C1313.6 1386.7 1315.1 1387.5 1316.5 1388.3C1318.0 1389.1 1319.4 1389.9 1320.9 1390.7C1322.3 1391.5 1323.8 1392.3 1325.2 1393.1C1326.7 1393.9 1328.1 1394.7 1329.6 1395.5C1331.0 1396.3 1332.5 1397.1 1334.0 1397.8C1335.4 1398.6 1336.9 1399.4 1338.3 1400.2C1339.8 1400.9 1341.3 1401.7 1342.7 1402.5C1344.2 1403.2 1345.7 1404.0 1347.1 1404.8C1348.6 1405.5 1350.1 1406.3 1351.6 1407.0C1353.1 1407.8 1354.5 1408.5 1356.0 1409.3C1357.5 1410.0 1359.0 1410.7 1360.5 1411.5C1362.0 1412.2 1363.5 1412.9 1364.9 1413.7C1366.4 1414.4 1367.9 1415.1 1369.4 1415.8C1370.9 1416.6 1372.4 1417.3 1374.0 1418.0C1375.5 1418.7 1377.0 1419.4 1378.5 1420.1C1380.0 1420.8 1381.5 1421.5 1383.0 1422.2C1384.5 1422.9 1386.1 1423.6 1387.6 1424.3C1389.1 1424.9 1390.7 1425.6 1392.2 1426.3C1393.7 1427.0 1395.3 1427.6 1396.8 1428.3C1398.3 1429.0 1399.9 1429.6 1401.4 1430.3C1403.0 1431.0 1404.5 1431.6 1406.1 1432.3C1407.6 1432.9 1409.2 1433.5 1410.8 1434.2C1412.3 1434.8 1413.9 1435.5 1415.5 1436.1C1417.1 1436.7 1418.6 1437.3 1420.2 1438.0C1421.8 1438.6 1423.4 1439.2 1425.0 1439.8C1426.6 1440.4 1428.1 1441.0 1429.7 1441.6C1431.3 1442.2 1433.0 1442.9 1434.6 1443.4C1436.1 1444.0 1438.3 1444.7 1439.0 1444.9" fill="none" stroke="#18743a" stroke-width="2.5" stroke-linejoin="round"/><path d="M147.5 635.3C147.9 633.4 148.8 627.5 150.0 623.9C151.2 620.3 153.5 617.2 154.7 613.9C155.9 610.6 156.5 606.7 157.4 603.9C158.3 601.1 159.2 599.4 160.1 597.2C161.0 595.0 161.8 592.6 162.7 590.5C163.6 588.4 164.2 586.4 165.4 584.5C166.6 582.6 168.3 581.0 170.1 579.1C171.9 577.2 174.4 575.0 176.1 573.1C177.8 571.2 178.9 569.2 180.1 567.7C181.3 566.2 180.7 564.8 183.5 564.4C186.3 564.0 193.6 566.1 196.9 565.1C200.2 564.1 201.4 558.6 203.5 558.4C205.6 558.2 207.9 562.4 209.6 563.7C211.3 565.0 211.8 565.8 213.6 566.4C215.4 567.0 218.3 566.0 220.3 567.1C222.3 568.2 223.6 570.8 225.6 573.1C227.6 575.4 229.9 579.3 232.3 581.1C234.7 582.9 237.9 583.8 240.0 583.8C242.1 583.8 243.0 580.4 244.6 581.0C246.2 581.6 247.9 585.6 249.7 587.7C251.5 589.8 253.2 592.1 255.6 593.5C258.1 594.9 261.9 594.9 264.4 595.8C266.8 596.7 268.3 599.6 270.3 598.7C272.3 597.8 274.5 591.1 276.2 590.6C277.9 590.1 279.1 593.3 280.6 595.8C282.1 598.2 282.9 603.1 285.0 605.3C287.1 607.5 291.0 607.1 293.1 609.0C295.2 610.9 295.9 614.1 297.5 616.4C299.1 618.7 300.8 620.9 302.7 623.0C304.6 625.1 306.9 626.4 308.6 628.9C310.3 631.4 311.5 634.6 313.0 637.7C314.5 640.8 315.9 644.1 317.4 647.3C318.9 650.5 320.3 653.7 321.8 656.8C323.3 659.9 324.7 662.4 326.2 665.7C327.7 669.0 329.3 673.3 330.7 676.7C332.1 680.1 333.1 683.2 334.3 686.3C335.5 689.4 336.6 691.8 338.0 695.1C339.4 698.4 341.1 702.3 342.4 706.1C343.7 709.9 344.8 714.7 345.7 718.1C346.6 721.5 347.1 723.2 348.0 726.5C348.9 729.8 350.0 734.5 351.3 737.8C352.6 741.1 354.4 743.3 355.7 746.1C357.0 748.9 358.1 751.2 359.2 754.6C360.3 758.0 360.9 761.8 362.4 766.5C363.9 771.2 366.4 777.6 368.4 782.9C370.4 788.2 372.4 792.6 374.5 798.2C376.6 803.8 379.0 812.2 380.7 816.6C382.4 821.0 383.4 821.5 384.9 824.6C386.4 827.7 388.6 832.2 389.9 835.0C391.2 837.8 391.8 838.6 392.9 841.2C394.0 843.8 395.4 847.3 396.6 850.4C397.8 853.5 398.1 856.1 400.3 860.0C402.5 863.9 405.8 868.8 409.6 873.8C413.4 878.8 420.2 886.5 422.9 889.8C425.6 893.1 424.8 892.3 425.8 893.6C426.8 894.9 427.9 896.2 428.9 897.6C430.0 898.9 431.0 900.2 432.1 901.6C433.1 902.9 434.1 904.3 435.1 905.6C436.1 907.0 437.1 908.3 438.1 909.7C439.2 911.0 440.1 912.4 441.1 913.8C442.1 915.1 443.1 916.5 444.1 917.9C445.1 919.2 446.0 920.6 447.0 922.0C448.0 923.4 448.9 924.7 449.9 926.1C450.8 927.5 451.8 928.9 452.7 930.3C453.7 931.7 454.6 933.1 455.5 934.5C456.5 935.9 457.4 937.3 458.3 938.7C459.2 940.1 460.1 941.5 461.0 942.9C461.9 944.3 462.8 945.7 463.7 947.1C464.6 948.5 465.5 949.9 466.4 951.4C467.3 952.8 468.1 954.2 469.0 955.6C469.9 957.1 470.8 958.5 471.6 959.9C472.5 961.3 473.3 962.8 474.2 964.2C475.0 965.6 475.9 967.1 476.7 968.5C477.6 970.0 478.4 971.4 479.2 972.9C480.1 974.3 480.9 975.7 481.7 977.2C482.5 978.6 483.4 980.1 484.2 981.6C485.0 983.0 485.8 984.5 486.6 985.9C487.4 987.4 488.2 988.8 489.0 990.3C489.8 991.8 490.6 993.2 491.4 994.7C492.2 996.2 492.9 997.6 493.7 999.1C494.5 1000.6 495.3 1002.0 496.1 1003.5C496.8 1005.0 497.6 1006.5 498.4 1007.9C499.1 1009.4 499.9 1010.9 500.7 1012.4C501.4 1013.8 502.2 1015.3 502.9 1016.8C503.7 1018.3 504.4 1019.8 505.2 1021.3C505.9 1022.7 506.7 1024.2 507.4 1025.7C508.2 1027.2 508.9 1028.7 509.7 1030.2C510.4 1031.7 511.1 1033.2 511.9 1034.7C512.6 1036.1 513.3 1037.6 514.1 1039.1C514.8 1040.6 515.5 1042.1 516.2 1043.6C517.0 1045.1 517.7 1046.6 518.4 1048.1C519.1 1049.6 519.9 1051.1 520.6 1052.6C521.3 1054.1 522.0 1055.6 522.8 1057.1C523.5 1058.6 524.2 1060.1 524.9 1061.6C525.6 1063.1 526.4 1064.6 527.1 1066.1C527.8 1067.6 528.5 1069.1 529.3 1070.6C530.0 1072.1 530.7 1073.6 531.4 1075.1C532.2 1076.6 532.9 1078.1 533.6 1079.6C534.3 1081.1 535.1 1082.6 535.8 1084.1C536.5 1085.7 537.2 1087.2 538.0 1088.7C538.7 1090.2 539.4 1091.7 540.2 1093.2C540.9 1094.7 541.6 1096.2 542.4 1097.7C543.1 1099.2 543.8 1100.7 544.6 1102.2C545.3 1103.7 546.1 1105.2 546.8 1106.7C547.6 1108.2 548.3 1109.7 549.0 1111.2C549.8 1112.7 550.5 1114.2 551.3 1115.7C552.0 1117.2 552.8 1118.7 553.5 1120.2C554.3 1121.7 555.1 1123.2 555.8 1124.7C556.6 1126.2 557.3 1127.7 558.1 1129.2C558.9 1130.7 559.6 1132.2 560.4 1133.7C561.1 1135.2 561.9 1136.7 562.7 1138.1C563.5 1139.6 564.2 1141.1 565.0 1142.6C565.8 1144.1 566.5 1145.6 567.3 1147.1C568.1 1148.6 568.9 1150.1 569.7 1151.5C570.4 1153.0 571.2 1154.5 572.0 1156.0C572.8 1157.5 573.6 1159.0 574.4 1160.4C575.2 1161.9 575.9 1163.4 576.7 1164.9C577.5 1166.4 578.3 1167.8 579.1 1169.3C579.9 1170.8 580.7 1172.3 581.5 1173.7C582.3 1175.2 583.1 1176.7 583.9 1178.2C584.7 1179.6 585.5 1181.1 586.4 1182.6C587.2 1184.0 588.0 1185.5 588.8 1187.0C589.6 1188.4 590.4 1189.9 591.2 1191.3C592.1 1192.8 592.9 1194.3 593.7 1195.7C594.5 1197.2 595.4 1198.6 596.2 1200.1C597.0 1201.5 597.9 1203.0 598.7 1204.4C599.5 1205.9 600.4 1207.3 601.2 1208.8C602.0 1210.2 602.9 1211.7 603.7 1213.1C604.6 1214.6 605.4 1216.0 606.3 1217.4C607.1 1218.9 608.0 1220.3 608.8 1221.7C609.7 1223.2 610.5 1224.6 611.4 1226.0C612.2 1227.5 613.1 1228.9 614.0 1230.3C614.8 1231.8 615.7 1233.2 616.6 1234.6C617.4 1236.0 618.3 1237.4 619.2 1238.9C620.1 1240.3 620.9 1241.7 621.8 1243.1C622.7 1244.5 623.6 1245.9 624.5 1247.3C625.3 1248.7 626.2 1250.1 627.1 1251.5C628.0 1252.9 628.9 1254.3 629.8 1255.7C630.7 1257.1 631.6 1258.5 632.5 1259.9C633.4 1261.3 634.3 1262.7 635.2 1264.1C636.1 1265.5 637.0 1266.9 637.9 1268.3C638.9 1269.7 639.8 1271.1 640.7 1272.5C641.6 1273.8 642.5 1275.2 643.4 1276.6C644.4 1278.0 645.3 1279.4 646.2 1280.7C647.1 1282.1 648.1 1283.5 649.0 1284.9C649.9 1286.3 650.8 1287.6 651.8 1289.0C652.7 1290.4 653.6 1291.8 654.6 1293.1C655.5 1294.5 656.4 1295.9 657.4 1297.2C658.3 1298.6 659.3 1300.0 660.2 1301.4C661.1 1302.7 662.1 1304.1 663.0 1305.5C664.0 1306.8 664.9 1308.2 665.9 1309.6C666.8 1310.9 667.8 1312.3 668.7 1313.7C669.7 1315.0 670.6 1316.4 671.6 1317.8C672.5 1319.1 673.5 1320.5 674.4 1321.8C675.4 1323.2 676.4 1324.6 677.3 1325.9C678.3 1327.3 679.2 1328.7 680.2 1330.0C681.2 1331.4 682.1 1332.8 683.1 1334.1C684.0 1335.5 685.0 1336.8 686.0 1338.2C686.9 1339.6 687.9 1340.9 688.9 1342.3C689.8 1343.7 690.8 1345.0 691.8 1346.4C692.7 1347.8 693.7 1349.1 694.7 1350.5C695.6 1351.9 696.6 1353.2 697.6 1354.6C698.6 1356.0 699.5 1357.3 700.5 1358.7C701.5 1360.1 702.4 1361.4 703.4 1362.8C704.4 1364.2 705.4 1365.5 706.3 1366.9C707.3 1368.3 708.3 1369.6 709.2 1371.0C710.2 1372.4 711.2 1373.8 712.2 1375.1C713.1 1376.5 714.1 1377.9 715.1 1379.3C716.1 1380.6 717.0 1382.0 718.0 1383.4C719.0 1384.8 720.0 1386.2 720.9 1387.5C721.9 1388.9 722.9 1390.3 723.9 1391.7C724.8 1393.1 725.8 1394.4 726.8 1395.8C727.8 1397.2 728.8 1398.6 729.8 1400.0C730.7 1401.3 731.7 1402.7 732.7 1404.1C733.7 1405.5 734.7 1406.8 735.7 1408.2C736.7 1409.6 737.7 1410.9 738.7 1412.3C739.7 1413.7 740.7 1415.0 741.7 1416.4C742.7 1417.8 743.7 1419.1 744.7 1420.5C745.7 1421.8 746.7 1423.2 747.7 1424.5C748.7 1425.9 749.8 1427.2 750.8 1428.6C751.8 1429.9 752.8 1431.3 753.9 1432.6C754.9 1433.9 755.9 1435.2 757.0 1436.6C758.0 1437.9 759.1 1439.2 760.1 1440.5C761.2 1441.8 762.2 1443.1 763.3 1444.4C764.4 1445.7 765.4 1447.0 766.5 1448.3C767.6 1449.6 768.7 1450.8 769.8 1452.1C770.8 1453.4 771.9 1454.7 773.0 1455.9C774.1 1457.2 775.3 1458.4 776.4 1459.6C777.5 1460.9 778.6 1462.1 779.7 1463.3C780.9 1464.6 782.0 1465.8 783.1 1467.0C784.3 1468.2 785.4 1469.4 786.6 1470.6C787.8 1471.8 788.9 1472.9 790.1 1474.1C791.3 1475.3 792.5 1476.4 793.7 1477.6C794.9 1478.7 796.1 1479.8 797.3 1481.0C798.5 1482.1 799.7 1483.2 800.9 1484.3C802.2 1485.4 803.4 1486.5 804.7 1487.6C805.9 1488.7 807.2 1489.7 808.4 1490.8C809.7 1491.8 811.0 1492.9 812.3 1493.9C813.6 1494.9 814.9 1495.9 816.2 1497.0C817.5 1498.0 818.8 1498.9 820.2 1499.9C821.5 1500.9 822.8 1501.9 824.2 1502.8C825.6 1503.7 826.9 1504.7 828.3 1505.6C829.7 1506.5 831.1 1507.4 832.5 1508.3C833.9 1509.2 835.3 1510.1 836.7 1510.9C838.2 1511.8 839.6 1512.6 841.1 1513.4C842.5 1514.2 844.0 1515.0 845.5 1515.8C846.9 1516.6 848.4 1517.4 849.9 1518.1C851.4 1518.8 852.9 1519.6 854.4 1520.3C855.9 1520.9 857.4 1521.6 859.0 1522.3C860.5 1522.9 862.0 1523.5 863.6 1524.1C865.1 1524.7 866.7 1525.3 868.2 1525.9C869.8 1526.4 871.4 1527.0 872.9 1527.5C874.5 1528.0 876.1 1528.5 877.7 1528.9C879.3 1529.4 880.9 1529.8 882.5 1530.3C884.1 1530.7 885.7 1531.1 887.3 1531.5C888.9 1531.9 890.5 1532.2 892.1 1532.6C893.8 1532.9 895.4 1533.3 897.0 1533.6C898.6 1533.9 900.3 1534.2 901.9 1534.5C903.5 1534.7 905.2 1535.0 906.8 1535.3C908.5 1535.5 910.1 1535.8 911.8 1536.0C913.4 1536.2 915.1 1536.4 916.7 1536.6C918.4 1536.8 920.1 1537.0 921.7 1537.2C923.4 1537.3 925.1 1537.5 926.7 1537.7C928.4 1537.8 930.1 1537.9 931.7 1538.1C933.4 1538.2 935.1 1538.3 936.8 1538.5C938.4 1538.6 940.1 1538.7 941.8 1538.8C943.5 1538.9 945.2 1539.0 946.8 1539.1C948.5 1539.2 950.2 1539.3 951.9 1539.3C953.6 1539.4 955.3 1539.5 957.0 1539.6C958.7 1539.6 960.3 1539.7 962.0 1539.8C963.7 1539.8 965.4 1539.9 967.1 1540.0C968.8 1540.0 970.5 1540.1 972.2 1540.2C973.9 1540.2 975.6 1540.3 977.2 1540.4C978.9 1540.4 980.6 1540.5 982.3 1540.6C984.0 1540.6 985.7 1540.7 987.4 1540.8C989.1 1540.9 990.8 1540.9 992.4 1541.0C994.1 1541.1 995.8 1541.2 997.5 1541.3C999.2 1541.4 1000.9 1541.5 1002.5 1541.6C1004.2 1541.7 1005.9 1541.8 1007.6 1542.0C1009.3 1542.1 1010.9 1542.2 1012.6 1542.3C1014.3 1542.5 1016.0 1542.6 1017.6 1542.8C1019.3 1542.9 1021.0 1543.1 1022.6 1543.2C1024.3 1543.4 1026.0 1543.5 1027.6 1543.7C1029.3 1543.9 1031.0 1544.1 1032.6 1544.2C1034.3 1544.4 1036.0 1544.6 1037.6 1544.8C1039.3 1545.0 1041.0 1545.2 1042.6 1545.4C1044.3 1545.6 1045.9 1545.8 1047.6 1546.0C1049.2 1546.3 1050.9 1546.5 1052.6 1546.7C1054.2 1546.9 1055.9 1547.2 1057.5 1547.4C1059.2 1547.6 1060.8 1547.9 1062.5 1548.1C1064.1 1548.4 1065.8 1548.6 1067.4 1548.9C1069.1 1549.2 1070.7 1549.4 1072.4 1549.7C1074.0 1550.0 1075.7 1550.2 1077.3 1550.5C1078.9 1550.8 1080.6 1551.1 1082.2 1551.3C1083.9 1551.6 1085.5 1551.9 1087.1 1552.2C1088.8 1552.5 1090.4 1552.8 1092.1 1553.1C1093.7 1553.4 1095.3 1553.7 1097.0 1554.0C1098.6 1554.4 1100.3 1554.7 1101.9 1555.0C1103.5 1555.3 1105.2 1555.6 1106.8 1556.0C1108.4 1556.3 1110.1 1556.6 1111.7 1557.0C1113.3 1557.3 1115.0 1557.6 1116.6 1558.0C1118.2 1558.3 1119.8 1558.7 1121.5 1559.0C1123.1 1559.4 1124.7 1559.7 1126.4 1560.1C1128.0 1560.5 1129.6 1560.8 1131.2 1561.2C1132.9 1561.5 1134.5 1561.9 1136.1 1562.3C1137.7 1562.6 1139.4 1563.0 1141.0 1563.4C1142.6 1563.8 1144.2 1564.2 1145.9 1564.5C1147.5 1564.9 1149.1 1565.3 1150.7 1565.7C1152.4 1566.1 1154.0 1566.5 1155.6 1566.9C1157.2 1567.3 1158.8 1567.7 1160.5 1568.1C1162.1 1568.5 1163.7 1568.9 1165.3 1569.3C1166.9 1569.7 1168.6 1570.1 1170.2 1570.5C1171.8 1570.9 1173.4 1571.3 1175.0 1571.7C1176.6 1572.1 1178.3 1572.5 1179.9 1573.0C1181.5 1573.4 1183.1 1573.8 1184.7 1574.2C1186.3 1574.6 1188.0 1575.0 1189.6 1575.5C1191.2 1575.9 1192.8 1576.3 1194.4 1576.7C1196.0 1577.2 1197.7 1577.6 1199.3 1578.0C1200.9 1578.5 1202.5 1578.9 1204.1 1579.3C1205.7 1579.8 1207.3 1580.2 1209.0 1580.6C1210.6 1581.1 1212.2 1581.5 1213.8 1581.9C1215.4 1582.4 1217.0 1582.8 1218.7 1583.2C1220.3 1583.7 1221.9 1584.1 1223.5 1584.6C1225.1 1585.0 1226.7 1585.4 1228.3 1585.9C1230.0 1586.3 1231.6 1586.8 1233.2 1587.2C1234.8 1587.7 1236.4 1588.1 1238.0 1588.5C1239.6 1589.0 1241.3 1589.4 1242.9 1589.9C1244.5 1590.3 1246.1 1590.8 1247.7 1591.2C1249.3 1591.6 1251.0 1592.1 1252.6 1592.5C1254.2 1593.0 1255.8 1593.4 1257.4 1593.8C1259.0 1594.3 1260.6 1594.7 1262.3 1595.2C1263.9 1595.6 1265.5 1596.0 1267.1 1596.5C1268.7 1596.9 1270.3 1597.3 1272.0 1597.8C1273.6 1598.2 1275.2 1598.7 1276.8 1599.1C1278.4 1599.5 1280.1 1599.9 1281.7 1600.4C1283.3 1600.8 1284.9 1601.2 1286.5 1601.7C1288.2 1602.1 1289.8 1602.5 1291.4 1602.9C1293.0 1603.3 1294.6 1603.8 1296.3 1604.2C1297.9 1604.6 1299.5 1605.0 1301.1 1605.4C1302.7 1605.8 1304.4 1606.2 1306.0 1606.6C1307.6 1607.1 1309.2 1607.5 1310.9 1607.9C1312.5 1608.3 1314.1 1608.7 1315.7 1609.1C1317.4 1609.4 1319.0 1609.8 1320.6 1610.2C1322.2 1610.6 1323.9 1611.0 1325.5 1611.4C1327.1 1611.8 1328.7 1612.2 1330.4 1612.5C1332.0 1612.9 1333.6 1613.3 1335.3 1613.6C1336.9 1614.0 1338.5 1614.4 1340.2 1614.7C1341.8 1615.1 1343.4 1615.5 1345.1 1615.8C1346.7 1616.2 1348.3 1616.5 1350.0 1616.9C1351.6 1617.2 1353.2 1617.5 1354.9 1617.9C1356.5 1618.2 1358.1 1618.5 1359.8 1618.9C1361.4 1619.2 1363.1 1619.5 1364.7 1619.8C1366.3 1620.1 1368.0 1620.5 1369.6 1620.8C1371.3 1621.1 1372.9 1621.4 1374.5 1621.7C1376.2 1622.0 1377.8 1622.3 1379.5 1622.5C1381.1 1622.8 1382.8 1623.1 1384.4 1623.4C1386.1 1623.7 1387.7 1623.9 1389.4 1624.2C1391.0 1624.4 1392.7 1624.7 1394.3 1625.0C1396.0 1625.2 1397.6 1625.4 1399.3 1625.7C1400.9 1625.9 1402.6 1626.2 1404.2 1626.4C1405.9 1626.6 1407.5 1626.8 1409.2 1627.0C1410.9 1627.2 1412.5 1627.5 1414.2 1627.7C1415.8 1627.9 1417.5 1628.0 1419.2 1628.2C1420.8 1628.4 1422.5 1628.6 1424.2 1628.8C1425.8 1628.9 1427.5 1629.1 1429.2 1629.3C1430.8 1629.4 1432.5 1629.6 1434.2 1629.7C1435.8 1629.8 1438.4 1629.8 1439.2 1629.8" fill="none" stroke="#237e84" stroke-width="2.5" stroke-linejoin="round"/>
<rect x="142" y="16" width="1300" height="3" fill="#c0c0c0"/>
<rect x="142" y="24" width="1300" height="3" fill="#b8b8b8"/>
<rect x="142" y="19" width="1300" height="5" fill="#060606"/>
<rect x="148" y="24" width="2" height="1719" fill="#8a8a8a"/>
<rect x="142" y="19" width="6" height="1732" fill="#000"/>
<rect x="142" y="1742" width="1301" height="1" fill="#e0e0e0"/>
<rect x="142" y="1749" width="1301" height="2" fill="#909090"/>
<rect x="142" y="1743" width="1301" height="6" fill="#050505"/>
<rect x="1442" y="17" width="1" height="1724" fill="#b0b0b0"/>
<rect x="1443" y="17" width="2" height="1724" fill="#6a6a6a"/>
<rect x="1445" y="17" width="3" height="1724" fill="#000"/>
<rect x="1448" y="17" width="2" height="1724" fill="#6a6a6a"/>
<rect x="1450" y="17" width="1" height="1724" fill="#b0b0b0"/>
<rect x="304" y="1730" width="3" height="13" fill="#7a7a7a"/><rect x="307" y="1730" width="2" height="13" fill="#000"/><rect x="309" y="1730" width="3" height="13" fill="#484848"/><rect x="627" y="1730" width="3" height="13" fill="#7a7a7a"/><rect x="630" y="1730" width="2" height="13" fill="#000"/><rect x="632" y="1730" width="3" height="13" fill="#484848"/><rect x="950" y="1730" width="3" height="13" fill="#7a7a7a"/><rect x="953" y="1730" width="2" height="13" fill="#000"/><rect x="955" y="1730" width="3" height="13" fill="#484848"/><rect x="1273" y="1730" width="3" height="13" fill="#7a7a7a"/><rect x="1276" y="1730" width="2" height="13" fill="#000"/><rect x="1278" y="1730" width="3" height="13" fill="#484848"/><rect x="469" y="1720" width="3" height="1" fill="#b0b0b0"/><rect x="469" y="1721" width="3" height="22" fill="#2a2a2a"/><rect x="792" y="1720" width="3" height="1" fill="#b0b0b0"/><rect x="792" y="1721" width="3" height="22" fill="#2a2a2a"/><rect x="1115" y="1720" width="3" height="1" fill="#b0b0b0"/><rect x="1115" y="1721" width="3" height="22" fill="#2a2a2a"/><rect x="1438" y="1720" width="3" height="1" fill="#b0b0b0"/><rect x="1438" y="1721" width="3" height="22" fill="#2a2a2a"/>
<rect x="1125" y="50" width="2" height="454" fill="#b0b0b0"/>
<rect x="1122" y="50" width="294" height="2" fill="#707070"/>
<rect x="1416" y="48" width="2" height="459" fill="#dcdcdc"/>
<rect x="1122" y="502" width="291" height="2" fill="#efefef"/>
<rect x="1122" y="48" width="3" height="459" fill="#222"/>
<rect x="1122" y="48" width="294" height="2" fill="#151515"/>
<rect x="1413" y="48" width="3" height="459" fill="#0a0a0a"/>
<rect x="1122" y="504" width="294" height="3" fill="#262626"/>
<rect x="1159" y="124.1" width="114.1" height="2.7" fill="#c49898"/><rect x="1159" y="126.8" width="114.1" height="2.7" fill="#a87878"/><rect x="1159" y="122.6" width="114.1" height="1.5" fill="#fbeaea"/><rect x="1159" y="129.5" width="114.1" height="1.5" fill="#fbeaea"/><rect x="1159" y="200.9" width="114.1" height="2.0" fill="#fef2e0"/><rect x="1159" y="202.9" width="114.1" height="3.0" fill="#d4b08a"/><rect x="1159" y="205.9" width="114.1" height="3.0" fill="#fddfc2"/><rect x="1159" y="280.0" width="114.1" height="2.4" fill="#fdffe0"/><rect x="1159" y="282.4" width="114.1" height="2.5" fill="#acb07a"/><rect x="1159" y="284.9" width="114.1" height="3.0" fill="#f2f0c4"/><rect x="1159" y="356.0" width="114.1" height="3.0" fill="#ddf8e4"/><rect x="1159" y="359.0" width="114.1" height="2.7" fill="#387b52"/><rect x="1159" y="361.7" width="114.1" height="2.3" fill="#88b898"/><rect x="1159" y="434.7" width="114.1" height="3.2" fill="#b0e8ea"/><rect x="1159" y="437.9" width="114.1" height="3.0" fill="#2e7d7d"/><rect x="1159" y="440.9" width="114.1" height="2.1" fill="#d4f8f6"/><text x="1301.8" y="144.6" font-size="53" stroke="#fff" stroke-width="0.7">(a)</text><text x="1301.8" y="222.0" font-size="53" stroke="#fff" stroke-width="0.7">(b)</text><text x="1301.8" y="299.9" font-size="53" stroke="#fff" stroke-width="0.7">(c)</text><text x="1301.8" y="378.6" font-size="53" stroke="#fff" stroke-width="0.7">(d)</text><text x="1301.8" y="456.6" font-size="53" stroke="#fff" stroke-width="0.7">(e)</text>
<g transform="translate(0 1785.5)" fill="none" stroke="#1a1a1a" stroke-width="2.80" stroke-linejoin="round"><path d="M 102.1 7.5 C 105.0 3 108.5 1.4 113.0 1.4 C 119.0 1.4 122.5 5 122.5 11 C 122.5 18 118.0 22.8 109.5 22.8 M 116.0 22.8 C 121.5 23.5 124.5 28 124.5 34.5 C 124.5 43.5 119.0 48.6 112.0 48.6 C 107.0 48.6 103.5 46.8 101.7 44.2"/><ellipse cx="145.45" cy="25.00" rx="11.85" ry="23.6"/><ellipse cx="177.05" cy="25.00" rx="11.85" ry="23.6"/><path d="M442.90 49.4 L442.90 1.4 L424.20 35 L451.80 35"/><ellipse cx="468.15" cy="25.00" rx="11.85" ry="23.6"/><ellipse cx="500.25" cy="25.00" rx="11.85" ry="23.6"/><path d="M771.9 2.5 L 756.9 2.5 L 752.4 19.5 C 755.1 17 757.6 16.2 759.6 16.2 C 766.1 16.2 770.4 21.5 770.4 31.5 C 770.4 42.5 765.1 48.6 758.1 48.6 C 753.1 48.6 749.6 46.5 747.8000000000001 43.8"/><ellipse cx="791.55" cy="25.00" rx="11.85" ry="23.6"/><ellipse cx="823.65" cy="25.00" rx="11.85" ry="23.6"/><path d="M1096.4 4 C 1093.9 2 1090.4 1.4 1087.4 1.4 C 1078.4 1.4 1073.8000000000002 12 1073.8000000000002 30 C 1073.8000000000002 42 1077.9 48.6 1085.0 48.6 C 1092.1000000000001 48.6 1096.3000000000002 42.5 1096.3000000000002 33.5 C 1096.3000000000002 24.5 1092.1000000000001 19.5 1085.0 19.5 C 1079.4 19.5 1075.4 23 1074.0 27"/><ellipse cx="1114.95" cy="25.00" rx="11.85" ry="23.6"/><ellipse cx="1147.05" cy="25.00" rx="11.85" ry="23.6"/><path d="M1394.70 10 L1394.70 3 L1417.50 3 L1405.90 48.8"/><ellipse cx="1440.05" cy="25.00" rx="11.85" ry="23.6"/><ellipse cx="1469.75" cy="25.00" rx="11.85" ry="23.6"/></g>
<text transform="translate(78.5 1140) rotate(-90) scale(1 1.04)" font-size="70.85" stroke="#fff" stroke-width="1.1">Absorption (a.u.)</text>
<text transform="translate(491.3 1929.8) scale(1 1.04)" font-size="71.85" stroke="#fff" stroke-width="0.8">Wavelength (nm)</text>
</svg>
</body></html>
